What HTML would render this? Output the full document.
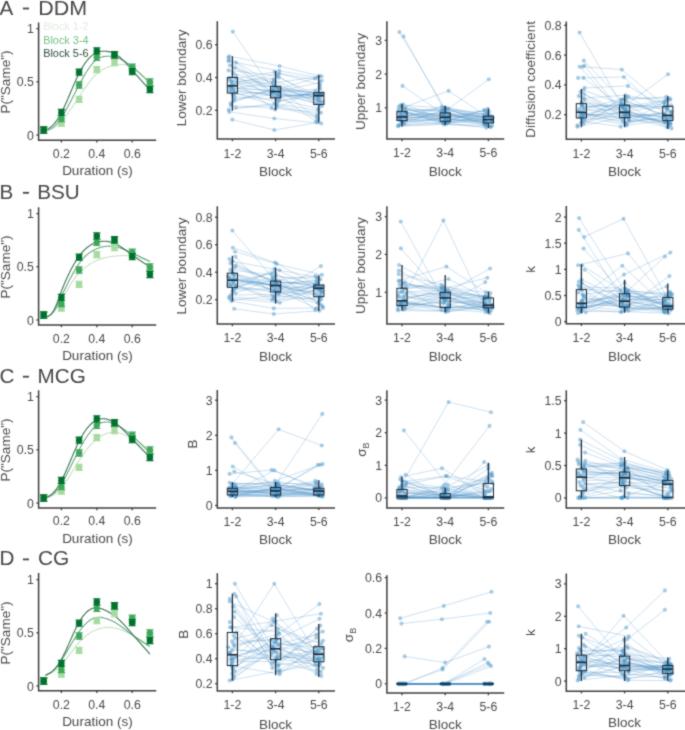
<!DOCTYPE html>
<html><head><meta charset="utf-8"><style>
html,body{margin:0;padding:0;background:#fff;}
body{width:685px;height:730px;overflow:hidden;font-family:"Liberation Sans",sans-serif;}
svg{display:block;}
#wrap{width:685px;height:730px;}
</style></head><body><div id="wrap">
<svg width="685" height="730" viewBox="0 0 685 730" font-family='"Liberation Sans", sans-serif'>
<defs><filter id="soft" x="0" y="0" width="1" height="1" color-interpolation-filters="sRGB"><feConvolveMatrix order="3" kernelMatrix="1 2 1 2 12 2 1 2 1" divisor="24" edgeMode="duplicate" preserveAlpha="false"/></filter></defs>
<rect width="685" height="730" fill="#ffffff"/>
<g filter="url(#soft)">
<g fill="#474747" font-size="19.5"><text x="-0.4" y="14.6" transform="scale(1.06,1)">A</text><rect x="22.9" y="7.60" width="6.1" height="1.8"/><text x="34.73" y="14.6" transform="scale(1.1,1)">DDM</text></g>
<path d="M43.70,131.81 L44.59,131.58 L45.48,131.34 L46.38,131.09 L47.27,130.82 L48.16,130.54 L49.05,130.22 L49.95,129.87 L50.84,129.49 L51.73,129.05 L52.62,128.57 L53.52,128.04 L54.41,127.45 L55.30,126.81 L56.19,126.12 L57.09,125.38 L57.98,124.60 L58.87,123.77 L59.76,122.89 L60.66,121.97 L61.55,121.00 L62.44,120.00 L63.33,118.96 L64.23,117.88 L65.12,116.77 L66.01,115.63 L66.90,114.46 L67.80,113.26 L68.69,112.04 L69.58,110.79 L70.47,109.53 L71.37,108.24 L72.26,106.94 L73.15,105.63 L74.04,104.30 L74.94,102.97 L75.83,101.63 L76.72,100.29 L77.61,98.94 L78.51,97.59 L79.40,96.25 L80.29,94.91 L81.18,93.57 L82.07,92.25 L82.97,90.94 L83.86,89.64 L84.75,88.36 L85.64,87.09 L86.54,85.85 L87.43,84.63 L88.32,83.44 L89.21,82.27 L90.11,81.13 L91.00,80.03 L91.89,78.96 L92.78,77.93 L93.68,76.94 L94.57,75.99 L95.46,75.09 L96.35,74.23 L97.25,73.42 L98.14,72.66 L99.03,71.95 L99.92,71.29 L100.82,70.66 L101.71,70.08 L102.60,69.54 L103.49,69.04 L104.39,68.58 L105.28,68.15 L106.17,67.75 L107.06,67.39 L107.96,67.05 L108.85,66.74 L109.74,66.46 L110.63,66.20 L111.53,65.96 L112.42,65.75 L113.31,65.55 L114.20,65.37 L115.09,65.20 L115.99,65.05 L116.88,64.91 L117.77,64.79 L118.66,64.70 L119.56,64.62 L120.45,64.56 L121.34,64.53 L122.23,64.53 L123.13,64.55 L124.02,64.60 L124.91,64.69 L125.80,64.80 L126.70,64.96 L127.59,65.15 L128.48,65.39 L129.37,65.67 L130.27,66.00 L131.16,66.39 L132.05,66.83 L132.94,67.32 L133.84,67.87 L134.73,68.47 L135.62,69.12 L136.51,69.82 L137.41,70.57 L138.30,71.35 L139.19,72.17 L140.08,73.03 L140.98,73.92 L141.87,74.83 L142.76,75.78 L143.65,76.75 L144.55,77.73 L145.44,78.74 L146.33,79.76 L147.22,80.79 L148.12,81.83 L149.01,82.88 L149.90,83.93" fill="none" stroke="#c9e2c6" stroke-width="1.1"/>
<path d="M43.70,130.74 L44.59,130.57 L45.48,130.39 L46.38,130.19 L47.27,129.97 L48.16,129.70 L49.05,129.39 L49.95,129.03 L50.84,128.60 L51.73,128.09 L52.62,127.50 L53.52,126.82 L54.41,126.05 L55.30,125.20 L56.19,124.27 L57.09,123.26 L57.98,122.18 L58.87,121.03 L59.76,119.82 L60.66,118.55 L61.55,117.22 L62.44,115.84 L63.33,114.41 L64.23,112.94 L65.12,111.42 L66.01,109.87 L66.90,108.28 L67.80,106.66 L68.69,105.02 L69.58,103.35 L70.47,101.66 L71.37,99.95 L72.26,98.23 L73.15,96.50 L74.04,94.77 L74.94,93.03 L75.83,91.29 L76.72,89.56 L77.61,87.84 L78.51,86.13 L79.40,84.43 L80.29,82.75 L81.18,81.09 L82.07,79.46 L82.97,77.86 L83.86,76.30 L84.75,74.77 L85.64,73.27 L86.54,71.83 L87.43,70.43 L88.32,69.08 L89.21,67.78 L90.11,66.54 L91.00,65.37 L91.89,64.25 L92.78,63.21 L93.68,62.24 L94.57,61.34 L95.46,60.53 L96.35,59.79 L97.25,59.14 L98.14,58.58 L99.03,58.09 L99.92,57.68 L100.82,57.33 L101.71,57.05 L102.60,56.82 L103.49,56.64 L104.39,56.50 L105.28,56.40 L106.17,56.32 L107.06,56.28 L107.96,56.25 L108.85,56.24 L109.74,56.25 L110.63,56.28 L111.53,56.35 L112.42,56.44 L113.31,56.57 L114.20,56.73 L115.09,56.94 L115.99,57.18 L116.88,57.46 L117.77,57.78 L118.66,58.14 L119.56,58.53 L120.45,58.96 L121.34,59.41 L122.23,59.90 L123.13,60.41 L124.02,60.95 L124.91,61.51 L125.80,62.10 L126.70,62.72 L127.59,63.35 L128.48,64.00 L129.37,64.68 L130.27,65.36 L131.16,66.07 L132.05,66.78 L132.94,67.51 L133.84,68.25 L134.73,69.00 L135.62,69.77 L136.51,70.54 L137.41,71.32 L138.30,72.11 L139.19,72.91 L140.08,73.71 L140.98,74.52 L141.87,75.34 L142.76,76.16 L143.65,76.99 L144.55,77.82 L145.44,78.65 L146.33,79.49 L147.22,80.33 L148.12,81.18 L149.01,82.02 L149.90,82.86" fill="none" stroke="#69a883" stroke-width="1.1"/>
<path d="M43.70,130.74 L44.59,130.36 L45.48,129.97 L46.38,129.56 L47.27,129.12 L48.16,128.64 L49.05,128.11 L49.95,127.53 L50.84,126.88 L51.73,126.16 L52.62,125.35 L53.52,124.45 L54.41,123.46 L55.30,122.38 L56.19,121.20 L57.09,119.94 L57.98,118.60 L58.87,117.16 L59.76,115.65 L60.66,114.05 L61.55,112.37 L62.44,110.61 L63.33,108.79 L64.23,106.90 L65.12,104.95 L66.01,102.96 L66.90,100.92 L67.80,98.86 L68.69,96.77 L69.58,94.67 L70.47,92.56 L71.37,90.45 L72.26,88.34 L73.15,86.25 L74.04,84.18 L74.94,82.15 L75.83,80.15 L76.72,78.20 L77.61,76.31 L78.51,74.47 L79.40,72.71 L80.29,71.02 L81.18,69.40 L82.07,67.86 L82.97,66.39 L83.86,65.00 L84.75,63.67 L85.64,62.42 L86.54,61.24 L87.43,60.13 L88.32,59.09 L89.21,58.11 L90.11,57.21 L91.00,56.37 L91.89,55.60 L92.78,54.90 L93.68,54.26 L94.57,53.69 L95.46,53.18 L96.35,52.74 L97.25,52.36 L98.14,52.04 L99.03,51.78 L99.92,51.57 L100.82,51.41 L101.71,51.30 L102.60,51.23 L103.49,51.20 L104.39,51.21 L105.28,51.24 L106.17,51.30 L107.06,51.39 L107.96,51.51 L108.85,51.66 L109.74,51.85 L110.63,52.08 L111.53,52.35 L112.42,52.67 L113.31,53.04 L114.20,53.45 L115.09,53.92 L115.99,54.45 L116.88,55.03 L117.77,55.65 L118.66,56.32 L119.56,57.03 L120.45,57.79 L121.34,58.58 L122.23,59.40 L123.13,60.26 L124.02,61.14 L124.91,62.05 L125.80,62.98 L126.70,63.94 L127.59,64.91 L128.48,65.89 L129.37,66.89 L130.27,67.90 L131.16,68.91 L132.05,69.93 L132.94,70.94 L133.84,71.96 L134.73,72.98 L135.62,74.00 L136.51,75.02 L137.41,76.04 L138.30,77.05 L139.19,78.07 L140.08,79.09 L140.98,80.11 L141.87,81.13 L142.76,82.15 L143.65,83.17 L144.55,84.19 L145.44,85.21 L146.33,86.23 L147.22,87.25 L148.12,88.27 L149.01,89.29 L149.90,90.31" fill="none" stroke="#3b7552" stroke-width="1.1"/>
<path d="M43.70,127.11V133.31M40.10,127.11H47.30M40.10,133.31H47.30" stroke="#a6dba0" stroke-width="1.1" fill="none"/>
<rect x="40.50" y="127.01" width="6.4" height="6.4" rx="1.3" fill="#a6dba0"/>
<path d="M61.40,119.88V126.08M57.80,119.88H65.00M57.80,126.08H65.00" stroke="#a6dba0" stroke-width="1.1" fill="none"/>
<rect x="58.20" y="119.78" width="6.4" height="6.4" rx="1.3" fill="#a6dba0"/>
<path d="M79.10,96.26V102.46M75.50,96.26H82.70M75.50,102.46H82.70" stroke="#a6dba0" stroke-width="1.1" fill="none"/>
<rect x="75.90" y="96.16" width="6.4" height="6.4" rx="1.3" fill="#a6dba0"/>
<path d="M96.80,66.46V72.66M93.20,66.46H100.40M93.20,72.66H100.40" stroke="#a6dba0" stroke-width="1.1" fill="none"/>
<rect x="93.60" y="66.36" width="6.4" height="6.4" rx="1.3" fill="#a6dba0"/>
<path d="M114.50,59.55V65.75M110.90,59.55H118.10M110.90,65.75H118.10" stroke="#a6dba0" stroke-width="1.1" fill="none"/>
<rect x="111.30" y="59.45" width="6.4" height="6.4" rx="1.3" fill="#a6dba0"/>
<path d="M132.20,65.93V72.13M128.60,65.93H135.80M128.60,72.13H135.80" stroke="#a6dba0" stroke-width="1.1" fill="none"/>
<rect x="129.00" y="65.83" width="6.4" height="6.4" rx="1.3" fill="#a6dba0"/>
<path d="M149.90,81.89V88.09M146.30,81.89H153.50M146.30,88.09H153.50" stroke="#a6dba0" stroke-width="1.1" fill="none"/>
<rect x="146.70" y="81.79" width="6.4" height="6.4" rx="1.3" fill="#a6dba0"/>
<path d="M43.70,127.11V133.31M40.10,127.11H47.30M40.10,133.31H47.30" stroke="#3fa65a" stroke-width="1.1" fill="none"/>
<rect x="40.50" y="127.01" width="6.4" height="6.4" rx="3.2" fill="#3fa65a"/>
<path d="M61.40,115.41V121.61M57.80,115.41H65.00M57.80,121.61H65.00" stroke="#3fa65a" stroke-width="1.1" fill="none"/>
<rect x="58.20" y="115.31" width="6.4" height="6.4" rx="3.2" fill="#3fa65a"/>
<path d="M79.10,81.89V88.09M75.50,81.89H82.70M75.50,88.09H82.70" stroke="#3fa65a" stroke-width="1.1" fill="none"/>
<rect x="75.90" y="81.79" width="6.4" height="6.4" rx="3.2" fill="#3fa65a"/>
<path d="M96.80,54.23V60.43M93.20,54.23H100.40M93.20,60.43H100.40" stroke="#3fa65a" stroke-width="1.1" fill="none"/>
<rect x="93.60" y="54.13" width="6.4" height="6.4" rx="3.2" fill="#3fa65a"/>
<path d="M114.50,52.10V58.30M110.90,52.10H118.10M110.90,58.30H118.10" stroke="#3fa65a" stroke-width="1.1" fill="none"/>
<rect x="111.30" y="52.00" width="6.4" height="6.4" rx="3.2" fill="#3fa65a"/>
<path d="M132.20,64.12V70.32M128.60,64.12H135.80M128.60,70.32H135.80" stroke="#3fa65a" stroke-width="1.1" fill="none"/>
<rect x="129.00" y="64.02" width="6.4" height="6.4" rx="3.2" fill="#3fa65a"/>
<path d="M149.90,78.91V85.11M146.30,78.91H153.50M146.30,85.11H153.50" stroke="#3fa65a" stroke-width="1.1" fill="none"/>
<rect x="146.70" y="78.81" width="6.4" height="6.4" rx="3.2" fill="#3fa65a"/>
<path d="M43.70,126.90V133.10M40.10,126.90H47.30M40.10,133.10H47.30" stroke="#00712f" stroke-width="1.1" fill="none"/>
<rect x="40.50" y="126.80" width="6.4" height="6.4" rx="2.7" fill="#00712f"/>
<path d="M61.40,109.34V115.54M57.80,109.34H65.00M57.80,115.54H65.00" stroke="#00712f" stroke-width="1.1" fill="none"/>
<rect x="58.20" y="109.24" width="6.4" height="6.4" rx="2.7" fill="#00712f"/>
<path d="M79.10,69.12V75.32M75.50,69.12H82.70M75.50,75.32H82.70" stroke="#00712f" stroke-width="1.1" fill="none"/>
<rect x="75.90" y="69.02" width="6.4" height="6.4" rx="2.7" fill="#00712f"/>
<path d="M96.80,47.84V54.04M93.20,47.84H100.40M93.20,54.04H100.40" stroke="#00712f" stroke-width="1.1" fill="none"/>
<rect x="93.60" y="47.74" width="6.4" height="6.4" rx="2.7" fill="#00712f"/>
<path d="M114.50,51.67V57.87M110.90,51.67H118.10M110.90,57.87H118.10" stroke="#00712f" stroke-width="1.1" fill="none"/>
<rect x="111.30" y="51.57" width="6.4" height="6.4" rx="2.7" fill="#00712f"/>
<path d="M132.20,68.59V74.79M128.60,68.59H135.80M128.60,74.79H135.80" stroke="#00712f" stroke-width="1.1" fill="none"/>
<rect x="129.00" y="68.49" width="6.4" height="6.4" rx="2.7" fill="#00712f"/>
<path d="M149.90,86.47V92.67M146.30,86.47H153.50M146.30,92.67H153.50" stroke="#00712f" stroke-width="1.1" fill="none"/>
<rect x="146.70" y="86.37" width="6.4" height="6.4" rx="2.7" fill="#00712f"/>
<path d="M38.60,22.50V140.30H156.20" fill="none" stroke="#3d3d3d" stroke-width="1.5"/>
<path d="M36.40,135.00H38.60" stroke="#3d3d3d" stroke-width="1.3"/>
<text x="33.80" y="139.50" font-size="12.3" text-anchor="end" fill="#4a4a4a" >0</text>
<path d="M36.40,81.80H38.60" stroke="#3d3d3d" stroke-width="1.3"/>
<text x="33.80" y="86.30" font-size="12.3" text-anchor="end" fill="#4a4a4a" >0.5</text>
<path d="M36.40,28.60H38.60" stroke="#3d3d3d" stroke-width="1.3"/>
<text x="33.80" y="33.10" font-size="12.3" text-anchor="end" fill="#4a4a4a" >1</text>
<path d="M61.40,140.30V142.50" stroke="#3d3d3d" stroke-width="1.3"/>
<text x="61.40" y="157.80" font-size="12.3" text-anchor="middle" fill="#4a4a4a" >0.2</text>
<path d="M96.80,140.30V142.50" stroke="#3d3d3d" stroke-width="1.3"/>
<text x="96.80" y="157.80" font-size="12.3" text-anchor="middle" fill="#4a4a4a" >0.4</text>
<path d="M132.20,140.30V142.50" stroke="#3d3d3d" stroke-width="1.3"/>
<text x="132.20" y="157.80" font-size="12.3" text-anchor="middle" fill="#4a4a4a" >0.6</text>
<text x="97.40" y="175.00" font-size="13.5" text-anchor="middle" fill="#4a4a4a" >Duration (s)</text>
<text transform="translate(9.80,82.00) rotate(-90)" font-size="13.5" text-anchor="middle" fill="#4a4a4a">P(&quot;Same&quot;)</text>
<g fill="none" stroke="#4a90c8" stroke-width="0.65" stroke-opacity="0.42">
<path d="M235.9,62.6L271.6,92.4L320.3,89.0"/>
<path d="M228.7,109.7L274.4,103.5L318.1,110.5"/>
<path d="M229.7,90.2L275.8,95.4L319.1,94.6"/>
<path d="M230.8,92.0L277.6,102.0L315.9,91.2"/>
<path d="M229.8,77.8L274.3,85.0L317.8,119.2"/>
<path d="M229.9,65.2L279.2,96.1L321.6,93.9"/>
<path d="M229.0,86.7L274.5,91.6L316.5,103.2"/>
<path d="M232.0,88.5L273.7,90.3L318.8,96.8"/>
<path d="M236.0,78.8L274.6,71.9L320.1,84.8"/>
<path d="M233.2,73.0L277.8,89.1L315.0,78.4"/>
<path d="M234.5,99.0L279.4,93.9L319.7,104.3"/>
<path d="M230.6,103.3L277.1,87.2L320.6,102.1"/>
<path d="M233.7,101.1L272.6,89.7L322.9,92.8"/>
<path d="M236.3,82.8L275.0,109.5L319.6,86.9"/>
<path d="M228.4,57.5L279.8,88.4L321.5,95.0"/>
<path d="M233.6,91.1L277.8,94.6L316.1,121.4"/>
<path d="M230.7,85.9L273.4,86.5L319.6,93.6"/>
<path d="M228.9,60.1L279.0,100.5L318.5,95.7"/>
<path d="M231.9,80.8L272.2,93.1L320.4,98.9"/>
<path d="M235.1,92.9L276.7,106.5L316.6,117.0"/>
<path d="M234.9,67.8L272.6,83.1L321.6,76.3"/>
<path d="M233.1,84.9L273.8,79.3L318.9,101.1"/>
<path d="M233.5,89.4L273.5,81.2L321.8,106.2"/>
<path d="M231.7,83.8L279.0,73.7L321.7,80.5"/>
<path d="M229.0,79.8L276.9,87.8L317.2,97.9"/>
<path d="M234.6,96.8L276.0,99.0L318.4,108.4"/>
<path d="M235.8,75.6L271.8,96.9L319.3,94.3"/>
<path d="M230.9,105.4L271.6,108.0L321.0,112.7"/>
<path d="M232.9,94.7L279.0,91.0L319.6,82.6"/>
<path d="M231.0,87.6L279.8,97.6L315.5,93.2"/>
<path d="M228.6,70.4L277.6,75.6L317.7,100.0"/>
<path d="M231.2,81.8L278.8,77.5L317.3,95.3"/>
<path d="M235.7,107.6L276.8,105.0L317.3,114.9"/>
<path d="M232.8,31.6L273.4,90.6L322.8,102.1"/>
<path d="M232.3,119.6L274.3,130.0L317.3,122.6"/>
<path d="M229.2,111.9L274.3,118.5L321.2,123.4"/>
<path d="M229.3,56.2L279.6,66.0L319.1,75.9"/>
<path d="M228.5,61.1L279.3,70.9L317.6,77.5"/>
</g>
<g fill="#4292c6" fill-opacity="0.45">
<circle cx="235.9" cy="62.6" r="2.05"/>
<circle cx="271.6" cy="92.4" r="2.05"/>
<circle cx="320.3" cy="89.0" r="2.05"/>
<circle cx="228.7" cy="109.7" r="2.05"/>
<circle cx="274.4" cy="103.5" r="2.05"/>
<circle cx="318.1" cy="110.5" r="2.05"/>
<circle cx="229.7" cy="90.2" r="2.05"/>
<circle cx="275.8" cy="95.4" r="2.05"/>
<circle cx="319.1" cy="94.6" r="2.05"/>
<circle cx="230.8" cy="92.0" r="2.05"/>
<circle cx="277.6" cy="102.0" r="2.05"/>
<circle cx="315.9" cy="91.2" r="2.05"/>
<circle cx="229.8" cy="77.8" r="2.05"/>
<circle cx="274.3" cy="85.0" r="2.05"/>
<circle cx="317.8" cy="119.2" r="2.05"/>
<circle cx="229.9" cy="65.2" r="2.05"/>
<circle cx="279.2" cy="96.1" r="2.05"/>
<circle cx="321.6" cy="93.9" r="2.05"/>
<circle cx="229.0" cy="86.7" r="2.05"/>
<circle cx="274.5" cy="91.6" r="2.05"/>
<circle cx="316.5" cy="103.2" r="2.05"/>
<circle cx="232.0" cy="88.5" r="2.05"/>
<circle cx="273.7" cy="90.3" r="2.05"/>
<circle cx="318.8" cy="96.8" r="2.05"/>
<circle cx="236.0" cy="78.8" r="2.05"/>
<circle cx="274.6" cy="71.9" r="2.05"/>
<circle cx="320.1" cy="84.8" r="2.05"/>
<circle cx="233.2" cy="73.0" r="2.05"/>
<circle cx="277.8" cy="89.1" r="2.05"/>
<circle cx="315.0" cy="78.4" r="2.05"/>
<circle cx="234.5" cy="99.0" r="2.05"/>
<circle cx="279.4" cy="93.9" r="2.05"/>
<circle cx="319.7" cy="104.3" r="2.05"/>
<circle cx="230.6" cy="103.3" r="2.05"/>
<circle cx="277.1" cy="87.2" r="2.05"/>
<circle cx="320.6" cy="102.1" r="2.05"/>
<circle cx="233.7" cy="101.1" r="2.05"/>
<circle cx="272.6" cy="89.7" r="2.05"/>
<circle cx="322.9" cy="92.8" r="2.05"/>
<circle cx="236.3" cy="82.8" r="2.05"/>
<circle cx="275.0" cy="109.5" r="2.05"/>
<circle cx="319.6" cy="86.9" r="2.05"/>
<circle cx="228.4" cy="57.5" r="2.05"/>
<circle cx="279.8" cy="88.4" r="2.05"/>
<circle cx="321.5" cy="95.0" r="2.05"/>
<circle cx="233.6" cy="91.1" r="2.05"/>
<circle cx="277.8" cy="94.6" r="2.05"/>
<circle cx="316.1" cy="121.4" r="2.05"/>
<circle cx="230.7" cy="85.9" r="2.05"/>
<circle cx="273.4" cy="86.5" r="2.05"/>
<circle cx="319.6" cy="93.6" r="2.05"/>
<circle cx="228.9" cy="60.1" r="2.05"/>
<circle cx="279.0" cy="100.5" r="2.05"/>
<circle cx="318.5" cy="95.7" r="2.05"/>
<circle cx="231.9" cy="80.8" r="2.05"/>
<circle cx="272.2" cy="93.1" r="2.05"/>
<circle cx="320.4" cy="98.9" r="2.05"/>
<circle cx="235.1" cy="92.9" r="2.05"/>
<circle cx="276.7" cy="106.5" r="2.05"/>
<circle cx="316.6" cy="117.0" r="2.05"/>
<circle cx="234.9" cy="67.8" r="2.05"/>
<circle cx="272.6" cy="83.1" r="2.05"/>
<circle cx="321.6" cy="76.3" r="2.05"/>
<circle cx="233.1" cy="84.9" r="2.05"/>
<circle cx="273.8" cy="79.3" r="2.05"/>
<circle cx="318.9" cy="101.1" r="2.05"/>
<circle cx="233.5" cy="89.4" r="2.05"/>
<circle cx="273.5" cy="81.2" r="2.05"/>
<circle cx="321.8" cy="106.2" r="2.05"/>
<circle cx="231.7" cy="83.8" r="2.05"/>
<circle cx="279.0" cy="73.7" r="2.05"/>
<circle cx="321.7" cy="80.5" r="2.05"/>
<circle cx="229.0" cy="79.8" r="2.05"/>
<circle cx="276.9" cy="87.8" r="2.05"/>
<circle cx="317.2" cy="97.9" r="2.05"/>
<circle cx="234.6" cy="96.8" r="2.05"/>
<circle cx="276.0" cy="99.0" r="2.05"/>
<circle cx="318.4" cy="108.4" r="2.05"/>
<circle cx="235.8" cy="75.6" r="2.05"/>
<circle cx="271.8" cy="96.9" r="2.05"/>
<circle cx="319.3" cy="94.3" r="2.05"/>
<circle cx="230.9" cy="105.4" r="2.05"/>
<circle cx="271.6" cy="108.0" r="2.05"/>
<circle cx="321.0" cy="112.7" r="2.05"/>
<circle cx="232.9" cy="94.7" r="2.05"/>
<circle cx="279.0" cy="91.0" r="2.05"/>
<circle cx="319.6" cy="82.6" r="2.05"/>
<circle cx="231.0" cy="87.6" r="2.05"/>
<circle cx="279.8" cy="97.6" r="2.05"/>
<circle cx="315.5" cy="93.2" r="2.05"/>
<circle cx="228.6" cy="70.4" r="2.05"/>
<circle cx="277.6" cy="75.6" r="2.05"/>
<circle cx="317.7" cy="100.0" r="2.05"/>
<circle cx="231.2" cy="81.8" r="2.05"/>
<circle cx="278.8" cy="77.5" r="2.05"/>
<circle cx="317.3" cy="95.3" r="2.05"/>
<circle cx="235.7" cy="107.6" r="2.05"/>
<circle cx="276.8" cy="105.0" r="2.05"/>
<circle cx="317.3" cy="114.9" r="2.05"/>
<circle cx="232.8" cy="31.6" r="2.05"/>
<circle cx="273.4" cy="90.6" r="2.05"/>
<circle cx="322.8" cy="102.1" r="2.05"/>
<circle cx="232.3" cy="119.6" r="2.05"/>
<circle cx="274.3" cy="130.0" r="2.05"/>
<circle cx="317.3" cy="122.6" r="2.05"/>
<circle cx="229.2" cy="111.9" r="2.05"/>
<circle cx="274.3" cy="118.5" r="2.05"/>
<circle cx="321.2" cy="123.4" r="2.05"/>
<circle cx="229.3" cy="56.2" r="2.05"/>
<circle cx="279.6" cy="66.0" r="2.05"/>
<circle cx="319.1" cy="75.9" r="2.05"/>
<circle cx="228.5" cy="61.1" r="2.05"/>
<circle cx="279.3" cy="70.9" r="2.05"/>
<circle cx="317.6" cy="77.5" r="2.05"/>
</g>
<path d="M232.40,77.50V56.18M232.40,93.08V110.79" stroke="#1d2b3d" stroke-width="1.3" fill="none"/>
<rect x="227.30" y="77.50" width="10.20" height="15.58" fill="none" stroke="#1d2632" stroke-width="1.0"/>
<path d="M227.30,85.86H237.50" stroke="#1d2632" stroke-width="1.6"/>
<path d="M275.60,86.36V70.94M275.60,97.84V110.30" stroke="#1d2b3d" stroke-width="1.3" fill="none"/>
<rect x="270.50" y="86.36" width="10.20" height="11.48" fill="none" stroke="#1d2632" stroke-width="1.0"/>
<path d="M270.50,91.60H280.70" stroke="#1d2632" stroke-width="1.6"/>
<path d="M318.80,92.75V75.20M318.80,104.56V122.44" stroke="#1d2b3d" stroke-width="1.3" fill="none"/>
<rect x="313.70" y="92.75" width="10.20" height="11.81" fill="none" stroke="#1d2632" stroke-width="1.0"/>
<path d="M313.70,95.70H323.90" stroke="#1d2632" stroke-width="1.6"/>
<path d="M217.30,21.20V139.00H335.00" fill="none" stroke="#3d3d3d" stroke-width="1.5"/>
<path d="M215.10,110.30H217.30" stroke="#3d3d3d" stroke-width="1.3"/>
<text x="212.50" y="114.80" font-size="12.3" text-anchor="end" fill="#4a4a4a" >0.2</text>
<path d="M215.10,77.50H217.30" stroke="#3d3d3d" stroke-width="1.3"/>
<text x="212.50" y="82.00" font-size="12.3" text-anchor="end" fill="#4a4a4a" >0.4</text>
<path d="M215.10,44.70H217.30" stroke="#3d3d3d" stroke-width="1.3"/>
<text x="212.50" y="49.20" font-size="12.3" text-anchor="end" fill="#4a4a4a" >0.6</text>
<path d="M232.40,139.00V141.20" stroke="#3d3d3d" stroke-width="1.3"/>
<text x="232.40" y="157.60" font-size="12.3" text-anchor="middle" fill="#4a4a4a" >1-2</text>
<path d="M275.60,139.00V141.20" stroke="#3d3d3d" stroke-width="1.3"/>
<text x="275.60" y="157.60" font-size="12.3" text-anchor="middle" fill="#4a4a4a" >3-4</text>
<path d="M318.80,139.00V141.20" stroke="#3d3d3d" stroke-width="1.3"/>
<text x="318.80" y="157.60" font-size="12.3" text-anchor="middle" fill="#4a4a4a" >5-6</text>
<text x="275.60" y="175.60" font-size="13.5" text-anchor="middle" fill="#4a4a4a" >Block</text>
<text transform="translate(186.40,77.80) rotate(-90)" font-size="13.5" text-anchor="middle" fill="#4a4a4a">Lower boundary</text>
<g fill="none" stroke="#4a90c8" stroke-width="0.65" stroke-opacity="0.42">
<path d="M400.9,115.0L445.1,113.0L492.6,117.6"/>
<path d="M404.4,109.0L448.0,117.2L485.2,110.8"/>
<path d="M402.0,111.0L444.1,123.6L484.9,119.2"/>
<path d="M401.1,121.2L441.5,111.4L486.1,124.0"/>
<path d="M404.6,124.1L446.8,117.7L490.1,126.5"/>
<path d="M398.4,117.8L442.3,116.2L484.3,117.1"/>
<path d="M398.5,110.0L441.8,109.8L492.4,118.0"/>
<path d="M405.4,111.8L442.7,122.8L486.3,127.7"/>
<path d="M406.0,112.5L445.8,119.7L487.3,112.7"/>
<path d="M401.7,123.4L443.2,110.6L489.1,111.8"/>
<path d="M403.9,116.3L445.3,109.0L491.2,121.2"/>
<path d="M398.7,107.1L446.1,119.2L492.6,122.0"/>
<path d="M399.0,114.4L445.2,107.3L489.5,115.5"/>
<path d="M400.6,119.6L449.2,120.7L488.3,122.5"/>
<path d="M401.8,115.6L448.7,113.5L484.2,124.7"/>
<path d="M405.2,116.9L442.0,114.0L487.4,113.6"/>
<path d="M401.9,106.2L445.0,122.4L484.4,122.9"/>
<path d="M400.4,118.7L444.0,115.1L492.3,118.4"/>
<path d="M405.6,108.1L445.9,112.2L492.1,125.9"/>
<path d="M405.1,113.1L444.1,115.6L485.1,120.0"/>
<path d="M402.9,121.9L443.7,118.2L484.2,120.4"/>
<path d="M406.1,120.0L449.2,114.6L488.7,116.7"/>
<path d="M403.0,104.2L446.7,120.2L492.1,121.6"/>
<path d="M401.7,120.5L445.9,124.0L486.0,125.3"/>
<path d="M399.8,117.3L445.4,118.7L486.1,120.8"/>
<path d="M398.0,126.3L444.1,124.4L490.5,127.1"/>
<path d="M400.1,105.2L448.3,108.2L490.1,118.8"/>
<path d="M403.3,122.6L448.6,116.7L484.7,119.6"/>
<path d="M399.2,124.8L448.7,122.0L491.9,116.3"/>
<path d="M398.4,125.6L447.6,123.2L484.2,114.6"/>
<path d="M398.9,119.1L441.8,106.5L486.6,123.4"/>
<path d="M401.0,113.7L448.7,121.2L487.9,108.9"/>
<path d="M398.8,118.2L443.2,121.6L484.2,109.9"/>
<path d="M399.4,32.0L444.6,107.8L488.5,116.2"/>
<path d="M403.5,36.4L444.2,109.5L485.0,117.9"/>
<path d="M402.5,85.9L444.3,114.5L485.5,119.6"/>
<path d="M402.0,107.8L448.6,90.9L486.6,116.2"/>
<path d="M398.8,111.2L447.6,109.5L488.8,79.2"/>
</g>
<g fill="#4292c6" fill-opacity="0.45">
<circle cx="400.9" cy="115.0" r="2.05"/>
<circle cx="445.1" cy="113.0" r="2.05"/>
<circle cx="492.6" cy="117.6" r="2.05"/>
<circle cx="404.4" cy="109.0" r="2.05"/>
<circle cx="448.0" cy="117.2" r="2.05"/>
<circle cx="485.2" cy="110.8" r="2.05"/>
<circle cx="402.0" cy="111.0" r="2.05"/>
<circle cx="444.1" cy="123.6" r="2.05"/>
<circle cx="484.9" cy="119.2" r="2.05"/>
<circle cx="401.1" cy="121.2" r="2.05"/>
<circle cx="441.5" cy="111.4" r="2.05"/>
<circle cx="486.1" cy="124.0" r="2.05"/>
<circle cx="404.6" cy="124.1" r="2.05"/>
<circle cx="446.8" cy="117.7" r="2.05"/>
<circle cx="490.1" cy="126.5" r="2.05"/>
<circle cx="398.4" cy="117.8" r="2.05"/>
<circle cx="442.3" cy="116.2" r="2.05"/>
<circle cx="484.3" cy="117.1" r="2.05"/>
<circle cx="398.5" cy="110.0" r="2.05"/>
<circle cx="441.8" cy="109.8" r="2.05"/>
<circle cx="492.4" cy="118.0" r="2.05"/>
<circle cx="405.4" cy="111.8" r="2.05"/>
<circle cx="442.7" cy="122.8" r="2.05"/>
<circle cx="486.3" cy="127.7" r="2.05"/>
<circle cx="406.0" cy="112.5" r="2.05"/>
<circle cx="445.8" cy="119.7" r="2.05"/>
<circle cx="487.3" cy="112.7" r="2.05"/>
<circle cx="401.7" cy="123.4" r="2.05"/>
<circle cx="443.2" cy="110.6" r="2.05"/>
<circle cx="489.1" cy="111.8" r="2.05"/>
<circle cx="403.9" cy="116.3" r="2.05"/>
<circle cx="445.3" cy="109.0" r="2.05"/>
<circle cx="491.2" cy="121.2" r="2.05"/>
<circle cx="398.7" cy="107.1" r="2.05"/>
<circle cx="446.1" cy="119.2" r="2.05"/>
<circle cx="492.6" cy="122.0" r="2.05"/>
<circle cx="399.0" cy="114.4" r="2.05"/>
<circle cx="445.2" cy="107.3" r="2.05"/>
<circle cx="489.5" cy="115.5" r="2.05"/>
<circle cx="400.6" cy="119.6" r="2.05"/>
<circle cx="449.2" cy="120.7" r="2.05"/>
<circle cx="488.3" cy="122.5" r="2.05"/>
<circle cx="401.8" cy="115.6" r="2.05"/>
<circle cx="448.7" cy="113.5" r="2.05"/>
<circle cx="484.2" cy="124.7" r="2.05"/>
<circle cx="405.2" cy="116.9" r="2.05"/>
<circle cx="442.0" cy="114.0" r="2.05"/>
<circle cx="487.4" cy="113.6" r="2.05"/>
<circle cx="401.9" cy="106.2" r="2.05"/>
<circle cx="445.0" cy="122.4" r="2.05"/>
<circle cx="484.4" cy="122.9" r="2.05"/>
<circle cx="400.4" cy="118.7" r="2.05"/>
<circle cx="444.0" cy="115.1" r="2.05"/>
<circle cx="492.3" cy="118.4" r="2.05"/>
<circle cx="405.6" cy="108.1" r="2.05"/>
<circle cx="445.9" cy="112.2" r="2.05"/>
<circle cx="492.1" cy="125.9" r="2.05"/>
<circle cx="405.1" cy="113.1" r="2.05"/>
<circle cx="444.1" cy="115.6" r="2.05"/>
<circle cx="485.1" cy="120.0" r="2.05"/>
<circle cx="402.9" cy="121.9" r="2.05"/>
<circle cx="443.7" cy="118.2" r="2.05"/>
<circle cx="484.2" cy="120.4" r="2.05"/>
<circle cx="406.1" cy="120.0" r="2.05"/>
<circle cx="449.2" cy="114.6" r="2.05"/>
<circle cx="488.7" cy="116.7" r="2.05"/>
<circle cx="403.0" cy="104.2" r="2.05"/>
<circle cx="446.7" cy="120.2" r="2.05"/>
<circle cx="492.1" cy="121.6" r="2.05"/>
<circle cx="401.7" cy="120.5" r="2.05"/>
<circle cx="445.9" cy="124.0" r="2.05"/>
<circle cx="486.0" cy="125.3" r="2.05"/>
<circle cx="399.8" cy="117.3" r="2.05"/>
<circle cx="445.4" cy="118.7" r="2.05"/>
<circle cx="486.1" cy="120.8" r="2.05"/>
<circle cx="398.0" cy="126.3" r="2.05"/>
<circle cx="444.1" cy="124.4" r="2.05"/>
<circle cx="490.5" cy="127.1" r="2.05"/>
<circle cx="400.1" cy="105.2" r="2.05"/>
<circle cx="448.3" cy="108.2" r="2.05"/>
<circle cx="490.1" cy="118.8" r="2.05"/>
<circle cx="403.3" cy="122.6" r="2.05"/>
<circle cx="448.6" cy="116.7" r="2.05"/>
<circle cx="484.7" cy="119.6" r="2.05"/>
<circle cx="399.2" cy="124.8" r="2.05"/>
<circle cx="448.7" cy="122.0" r="2.05"/>
<circle cx="491.9" cy="116.3" r="2.05"/>
<circle cx="398.4" cy="125.6" r="2.05"/>
<circle cx="447.6" cy="123.2" r="2.05"/>
<circle cx="484.2" cy="114.6" r="2.05"/>
<circle cx="398.9" cy="119.1" r="2.05"/>
<circle cx="441.8" cy="106.5" r="2.05"/>
<circle cx="486.6" cy="123.4" r="2.05"/>
<circle cx="401.0" cy="113.7" r="2.05"/>
<circle cx="448.7" cy="121.2" r="2.05"/>
<circle cx="487.9" cy="108.9" r="2.05"/>
<circle cx="398.8" cy="118.2" r="2.05"/>
<circle cx="443.2" cy="121.6" r="2.05"/>
<circle cx="484.2" cy="109.9" r="2.05"/>
<circle cx="399.4" cy="32.0" r="2.05"/>
<circle cx="444.6" cy="107.8" r="2.05"/>
<circle cx="488.5" cy="116.2" r="2.05"/>
<circle cx="403.5" cy="36.4" r="2.05"/>
<circle cx="444.2" cy="109.5" r="2.05"/>
<circle cx="485.0" cy="117.9" r="2.05"/>
<circle cx="402.5" cy="85.9" r="2.05"/>
<circle cx="444.3" cy="114.5" r="2.05"/>
<circle cx="485.5" cy="119.6" r="2.05"/>
<circle cx="402.0" cy="107.8" r="2.05"/>
<circle cx="448.6" cy="90.9" r="2.05"/>
<circle cx="486.6" cy="116.2" r="2.05"/>
<circle cx="398.8" cy="111.2" r="2.05"/>
<circle cx="447.6" cy="109.5" r="2.05"/>
<circle cx="488.8" cy="79.2" r="2.05"/>
</g>
<path d="M402.00,111.68V103.76M402.00,120.61V126.67" stroke="#1d2b3d" stroke-width="1.3" fill="none"/>
<rect x="396.90" y="111.68" width="10.20" height="8.93" fill="none" stroke="#1d2632" stroke-width="1.0"/>
<path d="M396.90,116.90H407.10" stroke="#1d2632" stroke-width="1.6"/>
<path d="M445.20,112.86V106.11M445.20,121.28V124.65" stroke="#1d2b3d" stroke-width="1.3" fill="none"/>
<rect x="440.10" y="112.86" width="10.20" height="8.42" fill="none" stroke="#1d2632" stroke-width="1.0"/>
<path d="M440.10,117.24H450.30" stroke="#1d2632" stroke-width="1.6"/>
<path d="M488.40,116.22V108.47M488.40,122.97V128.02" stroke="#1d2b3d" stroke-width="1.3" fill="none"/>
<rect x="483.30" y="116.22" width="10.20" height="6.74" fill="none" stroke="#1d2632" stroke-width="1.0"/>
<path d="M483.30,119.59H493.50" stroke="#1d2632" stroke-width="1.6"/>
<path d="M386.90,21.20V139.00H504.20" fill="none" stroke="#3d3d3d" stroke-width="1.5"/>
<path d="M384.70,107.80H386.90" stroke="#3d3d3d" stroke-width="1.3"/>
<text x="382.10" y="112.30" font-size="12.3" text-anchor="end" fill="#4a4a4a" >1</text>
<path d="M384.70,74.10H386.90" stroke="#3d3d3d" stroke-width="1.3"/>
<text x="382.10" y="78.60" font-size="12.3" text-anchor="end" fill="#4a4a4a" >2</text>
<path d="M384.70,40.40H386.90" stroke="#3d3d3d" stroke-width="1.3"/>
<text x="382.10" y="44.90" font-size="12.3" text-anchor="end" fill="#4a4a4a" >3</text>
<path d="M402.00,139.00V141.20" stroke="#3d3d3d" stroke-width="1.3"/>
<text x="402.00" y="157.40" font-size="12.3" text-anchor="middle" fill="#4a4a4a" >1-2</text>
<path d="M445.20,139.00V141.20" stroke="#3d3d3d" stroke-width="1.3"/>
<text x="445.20" y="157.40" font-size="12.3" text-anchor="middle" fill="#4a4a4a" >3-4</text>
<path d="M488.40,139.00V141.20" stroke="#3d3d3d" stroke-width="1.3"/>
<text x="488.40" y="157.40" font-size="12.3" text-anchor="middle" fill="#4a4a4a" >5-6</text>
<text x="445.20" y="175.60" font-size="13.5" text-anchor="middle" fill="#4a4a4a" >Block</text>
<text transform="translate(364.80,81.50) rotate(-90)" font-size="13.5" text-anchor="middle" fill="#4a4a4a">Upper boundary</text>
<g fill="none" stroke="#4a90c8" stroke-width="0.65" stroke-opacity="0.42">
<path d="M579.9,115.4L628.4,113.1L665.6,117.5"/>
<path d="M583.4,124.1L621.0,102.6L668.1,126.1"/>
<path d="M582.8,118.9L622.1,99.6L666.3,96.9"/>
<path d="M581.8,105.2L625.4,113.8L664.8,122.7"/>
<path d="M580.6,92.1L628.9,120.0L666.3,118.3"/>
<path d="M583.9,107.5L622.0,104.1L667.5,107.9"/>
<path d="M581.6,117.8L625.4,98.1L669.7,98.3"/>
<path d="M583.9,109.9L626.3,109.4L670.4,99.7"/>
<path d="M584.7,114.7L623.1,121.4L670.6,119.0"/>
<path d="M581.6,102.2L622.5,107.4L665.0,103.9"/>
<path d="M583.7,98.1L625.8,95.2L664.1,102.5"/>
<path d="M582.2,121.5L620.7,126.7L666.9,110.4"/>
<path d="M582.0,106.4L625.9,105.4L664.9,106.7"/>
<path d="M577.5,125.4L625.3,110.3L670.5,125.0"/>
<path d="M584.0,94.1L623.4,112.3L668.5,123.8"/>
<path d="M583.3,90.1L627.8,106.4L667.7,109.1"/>
<path d="M584.6,120.2L623.0,115.3L665.4,121.5"/>
<path d="M579.6,117.0L626.6,111.3L671.1,105.3"/>
<path d="M581.2,122.8L626.3,101.1L664.7,115.3"/>
<path d="M581.5,104.0L624.0,108.4L667.2,127.3"/>
<path d="M578.7,96.1L625.7,114.5L669.3,116.8"/>
<path d="M582.6,116.2L626.7,125.4L667.4,119.7"/>
<path d="M584.4,100.1L625.2,122.7L671.1,116.0"/>
<path d="M580.6,112.3L626.3,124.0L665.2,101.1"/>
<path d="M577.8,111.1L628.3,96.7L666.7,120.5"/>
<path d="M577.5,126.7L625.6,116.8L671.5,128.4"/>
<path d="M583.7,113.9L628.8,117.5L671.5,111.6"/>
<path d="M581.0,113.1L622.3,118.7L664.1,114.1"/>
<path d="M579.4,108.7L625.7,116.0L671.3,112.8"/>
<path d="M579.6,32.5L627.3,114.7L670.1,122.2"/>
<path d="M583.8,60.6L621.4,99.8L664.0,114.7"/>
<path d="M582.6,66.7L621.8,69.6L666.7,107.2"/>
<path d="M579.6,66.7L620.6,111.7L672.0,117.7"/>
<path d="M584.4,65.5L628.7,120.7L670.5,123.6"/>
<path d="M578.1,77.9L623.9,77.0L665.2,114.7"/>
<path d="M583.5,77.9L622.3,107.2L666.9,99.8"/>
<path d="M584.6,87.9L628.0,85.9L671.2,111.7"/>
<path d="M582.3,114.7L622.8,107.2L668.1,74.3"/>
</g>
<g fill="#4292c6" fill-opacity="0.45">
<circle cx="579.9" cy="115.4" r="2.05"/>
<circle cx="628.4" cy="113.1" r="2.05"/>
<circle cx="665.6" cy="117.5" r="2.05"/>
<circle cx="583.4" cy="124.1" r="2.05"/>
<circle cx="621.0" cy="102.6" r="2.05"/>
<circle cx="668.1" cy="126.1" r="2.05"/>
<circle cx="582.8" cy="118.9" r="2.05"/>
<circle cx="622.1" cy="99.6" r="2.05"/>
<circle cx="666.3" cy="96.9" r="2.05"/>
<circle cx="581.8" cy="105.2" r="2.05"/>
<circle cx="625.4" cy="113.8" r="2.05"/>
<circle cx="664.8" cy="122.7" r="2.05"/>
<circle cx="580.6" cy="92.1" r="2.05"/>
<circle cx="628.9" cy="120.0" r="2.05"/>
<circle cx="666.3" cy="118.3" r="2.05"/>
<circle cx="583.9" cy="107.5" r="2.05"/>
<circle cx="622.0" cy="104.1" r="2.05"/>
<circle cx="667.5" cy="107.9" r="2.05"/>
<circle cx="581.6" cy="117.8" r="2.05"/>
<circle cx="625.4" cy="98.1" r="2.05"/>
<circle cx="669.7" cy="98.3" r="2.05"/>
<circle cx="583.9" cy="109.9" r="2.05"/>
<circle cx="626.3" cy="109.4" r="2.05"/>
<circle cx="670.4" cy="99.7" r="2.05"/>
<circle cx="584.7" cy="114.7" r="2.05"/>
<circle cx="623.1" cy="121.4" r="2.05"/>
<circle cx="670.6" cy="119.0" r="2.05"/>
<circle cx="581.6" cy="102.2" r="2.05"/>
<circle cx="622.5" cy="107.4" r="2.05"/>
<circle cx="665.0" cy="103.9" r="2.05"/>
<circle cx="583.7" cy="98.1" r="2.05"/>
<circle cx="625.8" cy="95.2" r="2.05"/>
<circle cx="664.1" cy="102.5" r="2.05"/>
<circle cx="582.2" cy="121.5" r="2.05"/>
<circle cx="620.7" cy="126.7" r="2.05"/>
<circle cx="666.9" cy="110.4" r="2.05"/>
<circle cx="582.0" cy="106.4" r="2.05"/>
<circle cx="625.9" cy="105.4" r="2.05"/>
<circle cx="664.9" cy="106.7" r="2.05"/>
<circle cx="577.5" cy="125.4" r="2.05"/>
<circle cx="625.3" cy="110.3" r="2.05"/>
<circle cx="670.5" cy="125.0" r="2.05"/>
<circle cx="584.0" cy="94.1" r="2.05"/>
<circle cx="623.4" cy="112.3" r="2.05"/>
<circle cx="668.5" cy="123.8" r="2.05"/>
<circle cx="583.3" cy="90.1" r="2.05"/>
<circle cx="627.8" cy="106.4" r="2.05"/>
<circle cx="667.7" cy="109.1" r="2.05"/>
<circle cx="584.6" cy="120.2" r="2.05"/>
<circle cx="623.0" cy="115.3" r="2.05"/>
<circle cx="665.4" cy="121.5" r="2.05"/>
<circle cx="579.6" cy="117.0" r="2.05"/>
<circle cx="626.6" cy="111.3" r="2.05"/>
<circle cx="671.1" cy="105.3" r="2.05"/>
<circle cx="581.2" cy="122.8" r="2.05"/>
<circle cx="626.3" cy="101.1" r="2.05"/>
<circle cx="664.7" cy="115.3" r="2.05"/>
<circle cx="581.5" cy="104.0" r="2.05"/>
<circle cx="624.0" cy="108.4" r="2.05"/>
<circle cx="667.2" cy="127.3" r="2.05"/>
<circle cx="578.7" cy="96.1" r="2.05"/>
<circle cx="625.7" cy="114.5" r="2.05"/>
<circle cx="669.3" cy="116.8" r="2.05"/>
<circle cx="582.6" cy="116.2" r="2.05"/>
<circle cx="626.7" cy="125.4" r="2.05"/>
<circle cx="667.4" cy="119.7" r="2.05"/>
<circle cx="584.4" cy="100.1" r="2.05"/>
<circle cx="625.2" cy="122.7" r="2.05"/>
<circle cx="671.1" cy="116.0" r="2.05"/>
<circle cx="580.6" cy="112.3" r="2.05"/>
<circle cx="626.3" cy="124.0" r="2.05"/>
<circle cx="665.2" cy="101.1" r="2.05"/>
<circle cx="577.8" cy="111.1" r="2.05"/>
<circle cx="628.3" cy="96.7" r="2.05"/>
<circle cx="666.7" cy="120.5" r="2.05"/>
<circle cx="577.5" cy="126.7" r="2.05"/>
<circle cx="625.6" cy="116.8" r="2.05"/>
<circle cx="671.5" cy="128.4" r="2.05"/>
<circle cx="583.7" cy="113.9" r="2.05"/>
<circle cx="628.8" cy="117.5" r="2.05"/>
<circle cx="671.5" cy="111.6" r="2.05"/>
<circle cx="581.0" cy="113.1" r="2.05"/>
<circle cx="622.3" cy="118.7" r="2.05"/>
<circle cx="664.1" cy="114.1" r="2.05"/>
<circle cx="579.4" cy="108.7" r="2.05"/>
<circle cx="625.7" cy="116.0" r="2.05"/>
<circle cx="671.3" cy="112.8" r="2.05"/>
<circle cx="579.6" cy="32.5" r="2.05"/>
<circle cx="627.3" cy="114.7" r="2.05"/>
<circle cx="670.1" cy="122.2" r="2.05"/>
<circle cx="583.8" cy="60.6" r="2.05"/>
<circle cx="621.4" cy="99.8" r="2.05"/>
<circle cx="664.0" cy="114.7" r="2.05"/>
<circle cx="582.6" cy="66.7" r="2.05"/>
<circle cx="621.8" cy="69.6" r="2.05"/>
<circle cx="666.7" cy="107.2" r="2.05"/>
<circle cx="579.6" cy="66.7" r="2.05"/>
<circle cx="620.6" cy="111.7" r="2.05"/>
<circle cx="672.0" cy="117.7" r="2.05"/>
<circle cx="584.4" cy="65.5" r="2.05"/>
<circle cx="628.7" cy="120.7" r="2.05"/>
<circle cx="670.5" cy="123.6" r="2.05"/>
<circle cx="578.1" cy="77.9" r="2.05"/>
<circle cx="623.9" cy="77.0" r="2.05"/>
<circle cx="665.2" cy="114.7" r="2.05"/>
<circle cx="583.5" cy="77.9" r="2.05"/>
<circle cx="622.3" cy="107.2" r="2.05"/>
<circle cx="666.9" cy="99.8" r="2.05"/>
<circle cx="584.6" cy="87.9" r="2.05"/>
<circle cx="628.0" cy="85.9" r="2.05"/>
<circle cx="671.2" cy="111.7" r="2.05"/>
<circle cx="582.3" cy="114.7" r="2.05"/>
<circle cx="622.8" cy="107.2" r="2.05"/>
<circle cx="668.1" cy="74.3" r="2.05"/>
</g>
<path d="M581.40,103.67V89.07M581.40,117.98V127.37" stroke="#1d2b3d" stroke-width="1.3" fill="none"/>
<rect x="576.30" y="103.67" width="10.20" height="14.30" fill="none" stroke="#1d2632" stroke-width="1.0"/>
<path d="M576.30,112.32H586.50" stroke="#1d2632" stroke-width="1.6"/>
<path d="M624.60,105.16V94.44M624.60,117.68V127.37" stroke="#1d2b3d" stroke-width="1.3" fill="none"/>
<rect x="619.50" y="105.16" width="10.20" height="12.52" fill="none" stroke="#1d2632" stroke-width="1.0"/>
<path d="M619.50,112.32H629.70" stroke="#1d2632" stroke-width="1.6"/>
<path d="M667.80,106.36V96.22M667.80,120.66V129.00" stroke="#1d2b3d" stroke-width="1.3" fill="none"/>
<rect x="662.70" y="106.36" width="10.20" height="14.30" fill="none" stroke="#1d2632" stroke-width="1.0"/>
<path d="M662.70,115.30H672.90" stroke="#1d2632" stroke-width="1.6"/>
<path d="M566.30,21.50V139.30H684.20" fill="none" stroke="#3d3d3d" stroke-width="1.5"/>
<path d="M564.10,114.70H566.30" stroke="#3d3d3d" stroke-width="1.3"/>
<text x="561.50" y="119.20" font-size="12.3" text-anchor="end" fill="#4a4a4a" >0.2</text>
<path d="M564.10,84.90H566.30" stroke="#3d3d3d" stroke-width="1.3"/>
<text x="561.50" y="89.40" font-size="12.3" text-anchor="end" fill="#4a4a4a" >0.4</text>
<path d="M564.10,55.10H566.30" stroke="#3d3d3d" stroke-width="1.3"/>
<text x="561.50" y="59.60" font-size="12.3" text-anchor="end" fill="#4a4a4a" >0.6</text>
<path d="M564.10,25.30H566.30" stroke="#3d3d3d" stroke-width="1.3"/>
<text x="561.50" y="29.80" font-size="12.3" text-anchor="end" fill="#4a4a4a" >0.8</text>
<path d="M581.40,139.30V141.50" stroke="#3d3d3d" stroke-width="1.3"/>
<text x="581.40" y="157.60" font-size="12.3" text-anchor="middle" fill="#4a4a4a" >1-2</text>
<path d="M624.60,139.30V141.50" stroke="#3d3d3d" stroke-width="1.3"/>
<text x="624.60" y="157.60" font-size="12.3" text-anchor="middle" fill="#4a4a4a" >3-4</text>
<path d="M667.80,139.30V141.50" stroke="#3d3d3d" stroke-width="1.3"/>
<text x="667.80" y="157.60" font-size="12.3" text-anchor="middle" fill="#4a4a4a" >5-6</text>
<text x="624.60" y="175.70" font-size="13.5" text-anchor="middle" fill="#4a4a4a" >Block</text>
<text transform="translate(535.20,79.40) rotate(-90)" font-size="13.5" text-anchor="middle" fill="#4a4a4a">Diffusion coefficient</text>
<g fill="#474747" font-size="19.5"><text x="-0.4" y="198.9" transform="scale(1.06,1)">B</text><rect x="22.9" y="191.90" width="6.1" height="1.8"/><text x="35.09" y="198.9" transform="scale(1.06,1)">BSU</text></g>
<path d="M43.70,316.81 L44.59,316.74 L45.48,316.64 L46.38,316.52 L47.27,316.33 L48.16,316.07 L49.05,315.72 L49.95,315.27 L50.84,314.70 L51.73,314.03 L52.62,313.25 L53.52,312.37 L54.41,311.39 L55.30,310.30 L56.19,309.13 L57.09,307.87 L57.98,306.54 L58.87,305.14 L59.76,303.67 L60.66,302.15 L61.55,300.58 L62.44,298.98 L63.33,297.34 L64.23,295.69 L65.12,294.03 L66.01,292.37 L66.90,290.73 L67.80,289.11 L68.69,287.53 L69.58,286.00 L70.47,284.53 L71.37,283.12 L72.26,281.77 L73.15,280.48 L74.04,279.25 L74.94,278.07 L75.83,276.94 L76.72,275.86 L77.61,274.82 L78.51,273.83 L79.40,272.87 L80.29,271.95 L81.18,271.06 L82.07,270.20 L82.97,269.38 L83.86,268.59 L84.75,267.84 L85.64,267.11 L86.54,266.42 L87.43,265.75 L88.32,265.12 L89.21,264.51 L90.11,263.93 L91.00,263.38 L91.89,262.86 L92.78,262.36 L93.68,261.89 L94.57,261.44 L95.46,261.01 L96.35,260.61 L97.25,260.23 L98.14,259.87 L99.03,259.53 L99.92,259.21 L100.82,258.92 L101.71,258.64 L102.60,258.37 L103.49,258.13 L104.39,257.90 L105.28,257.68 L106.17,257.48 L107.06,257.30 L107.96,257.12 L108.85,256.96 L109.74,256.81 L110.63,256.67 L111.53,256.54 L112.42,256.42 L113.31,256.30 L114.20,256.19 L115.09,256.09 L115.99,256.00 L116.88,255.91 L117.77,255.83 L118.66,255.76 L119.56,255.70 L120.45,255.65 L121.34,255.60 L122.23,255.57 L123.13,255.55 L124.02,255.55 L124.91,255.55 L125.80,255.57 L126.70,255.60 L127.59,255.65 L128.48,255.71 L129.37,255.79 L130.27,255.89 L131.16,256.00 L132.05,256.14 L132.94,256.29 L133.84,256.45 L134.73,256.64 L135.62,256.84 L136.51,257.06 L137.41,257.29 L138.30,257.53 L139.19,257.79 L140.08,258.06 L140.98,258.33 L141.87,258.62 L142.76,258.92 L143.65,259.22 L144.55,259.53 L145.44,259.85 L146.33,260.17 L147.22,260.49 L148.12,260.82 L149.01,261.15 L149.90,261.48" fill="none" stroke="#c9e2c6" stroke-width="1.1"/>
<path d="M43.70,316.81 L44.59,316.77 L45.48,316.70 L46.38,316.58 L47.27,316.40 L48.16,316.12 L49.05,315.72 L49.95,315.18 L50.84,314.50 L51.73,313.68 L52.62,312.70 L53.52,311.57 L54.41,310.29 L55.30,308.85 L56.19,307.29 L57.09,305.60 L57.98,303.83 L58.87,301.99 L59.76,300.11 L60.66,298.19 L61.55,296.27 L62.44,294.37 L63.33,292.47 L64.23,290.60 L65.12,288.74 L66.01,286.90 L66.90,285.09 L67.80,283.30 L68.69,281.53 L69.58,279.79 L70.47,278.08 L71.37,276.40 L72.26,274.75 L73.15,273.14 L74.04,271.58 L74.94,270.05 L75.83,268.57 L76.72,267.15 L77.61,265.77 L78.51,264.45 L79.40,263.20 L80.29,262.00 L81.18,260.86 L82.07,259.78 L82.97,258.75 L83.86,257.78 L84.75,256.87 L85.64,256.00 L86.54,255.18 L87.43,254.41 L88.32,253.68 L89.21,253.00 L90.11,252.36 L91.00,251.76 L91.89,251.20 L92.78,250.67 L93.68,250.18 L94.57,249.72 L95.46,249.30 L96.35,248.90 L97.25,248.53 L98.14,248.19 L99.03,247.87 L99.92,247.59 L100.82,247.32 L101.71,247.09 L102.60,246.88 L103.49,246.70 L104.39,246.54 L105.28,246.41 L106.17,246.31 L107.06,246.23 L107.96,246.18 L108.85,246.15 L109.74,246.15 L110.63,246.18 L111.53,246.23 L112.42,246.31 L113.31,246.41 L114.20,246.54 L115.09,246.69 L115.99,246.87 L116.88,247.07 L117.77,247.29 L118.66,247.53 L119.56,247.80 L120.45,248.08 L121.34,248.38 L122.23,248.69 L123.13,249.03 L124.02,249.37 L124.91,249.73 L125.80,250.10 L126.70,250.48 L127.59,250.86 L128.48,251.26 L129.37,251.66 L130.27,252.07 L131.16,252.48 L132.05,252.90 L132.94,253.32 L133.84,253.74 L134.73,254.16 L135.62,254.58 L136.51,255.00 L137.41,255.43 L138.30,255.86 L139.19,256.28 L140.08,256.71 L140.98,257.14 L141.87,257.58 L142.76,258.01 L143.65,258.44 L144.55,258.87 L145.44,259.31 L146.33,259.74 L147.22,260.18 L148.12,260.61 L149.01,261.04 L149.90,261.48" fill="none" stroke="#69a883" stroke-width="1.1"/>
<path d="M43.70,316.81 L44.59,316.79 L45.48,316.74 L46.38,316.63 L47.27,316.45 L48.16,316.15 L49.05,315.72 L49.95,315.12 L50.84,314.35 L51.73,313.39 L52.62,312.21 L53.52,310.82 L54.41,309.19 L55.30,307.32 L56.19,305.24 L57.09,303.01 L57.98,300.65 L58.87,298.22 L59.76,295.75 L60.66,293.29 L61.55,290.87 L62.44,288.54 L63.33,286.29 L64.23,284.11 L65.12,282.00 L66.01,279.96 L66.90,277.98 L67.80,276.06 L68.69,274.20 L69.58,272.38 L70.47,270.62 L71.37,268.90 L72.26,267.23 L73.15,265.60 L74.04,264.03 L74.94,262.51 L75.83,261.04 L76.72,259.63 L77.61,258.28 L78.51,256.99 L79.40,255.76 L80.29,254.59 L81.18,253.48 L82.07,252.43 L82.97,251.43 L83.86,250.50 L84.75,249.62 L85.64,248.79 L86.54,248.01 L87.43,247.29 L88.32,246.61 L89.21,245.98 L90.11,245.39 L91.00,244.85 L91.89,244.36 L92.78,243.90 L93.68,243.49 L94.57,243.11 L95.46,242.77 L96.35,242.47 L97.25,242.20 L98.14,241.96 L99.03,241.76 L99.92,241.59 L100.82,241.45 L101.71,241.34 L102.60,241.27 L103.49,241.23 L104.39,241.22 L105.28,241.25 L106.17,241.30 L107.06,241.39 L107.96,241.50 L108.85,241.65 L109.74,241.84 L110.63,242.06 L111.53,242.31 L112.42,242.59 L113.31,242.91 L114.20,243.27 L115.09,243.66 L115.99,244.08 L116.88,244.54 L117.77,245.02 L118.66,245.53 L119.56,246.07 L120.45,246.63 L121.34,247.22 L122.23,247.82 L123.13,248.43 L124.02,249.06 L124.91,249.70 L125.80,250.35 L126.70,251.01 L127.59,251.68 L128.48,252.34 L129.37,253.01 L130.27,253.67 L131.16,254.33 L132.05,254.99 L132.94,255.63 L133.84,256.27 L134.73,256.90 L135.62,257.52 L136.51,258.14 L137.41,258.74 L138.30,259.35 L139.19,259.94 L140.08,260.53 L140.98,261.12 L141.87,261.70 L142.76,262.28 L143.65,262.85 L144.55,263.42 L145.44,263.99 L146.33,264.55 L147.22,265.12 L148.12,265.68 L149.01,266.24 L149.90,266.80" fill="none" stroke="#3b7552" stroke-width="1.1"/>
<path d="M43.70,312.11V318.31M40.10,312.11H47.30M40.10,318.31H47.30" stroke="#a6dba0" stroke-width="1.1" fill="none"/>
<rect x="40.50" y="312.01" width="6.4" height="6.4" rx="1.3" fill="#a6dba0"/>
<path d="M61.40,304.88V311.08M57.80,304.88H65.00M57.80,311.08H65.00" stroke="#a6dba0" stroke-width="1.1" fill="none"/>
<rect x="58.20" y="304.78" width="6.4" height="6.4" rx="1.3" fill="#a6dba0"/>
<path d="M79.10,281.26V287.46M75.50,281.26H82.70M75.50,287.46H82.70" stroke="#a6dba0" stroke-width="1.1" fill="none"/>
<rect x="75.90" y="281.16" width="6.4" height="6.4" rx="1.3" fill="#a6dba0"/>
<path d="M96.80,251.46V257.66M93.20,251.46H100.40M93.20,257.66H100.40" stroke="#a6dba0" stroke-width="1.1" fill="none"/>
<rect x="93.60" y="251.36" width="6.4" height="6.4" rx="1.3" fill="#a6dba0"/>
<path d="M114.50,244.55V250.75M110.90,244.55H118.10M110.90,250.75H118.10" stroke="#a6dba0" stroke-width="1.1" fill="none"/>
<rect x="111.30" y="244.45" width="6.4" height="6.4" rx="1.3" fill="#a6dba0"/>
<path d="M132.20,250.93V257.13M128.60,250.93H135.80M128.60,257.13H135.80" stroke="#a6dba0" stroke-width="1.1" fill="none"/>
<rect x="129.00" y="250.83" width="6.4" height="6.4" rx="1.3" fill="#a6dba0"/>
<path d="M149.90,266.89V273.09M146.30,266.89H153.50M146.30,273.09H153.50" stroke="#a6dba0" stroke-width="1.1" fill="none"/>
<rect x="146.70" y="266.79" width="6.4" height="6.4" rx="1.3" fill="#a6dba0"/>
<path d="M43.70,312.11V318.31M40.10,312.11H47.30M40.10,318.31H47.30" stroke="#3fa65a" stroke-width="1.1" fill="none"/>
<rect x="40.50" y="312.01" width="6.4" height="6.4" rx="3.2" fill="#3fa65a"/>
<path d="M61.40,300.41V306.61M57.80,300.41H65.00M57.80,306.61H65.00" stroke="#3fa65a" stroke-width="1.1" fill="none"/>
<rect x="58.20" y="300.31" width="6.4" height="6.4" rx="3.2" fill="#3fa65a"/>
<path d="M79.10,266.89V273.09M75.50,266.89H82.70M75.50,273.09H82.70" stroke="#3fa65a" stroke-width="1.1" fill="none"/>
<rect x="75.90" y="266.79" width="6.4" height="6.4" rx="3.2" fill="#3fa65a"/>
<path d="M96.80,239.23V245.43M93.20,239.23H100.40M93.20,245.43H100.40" stroke="#3fa65a" stroke-width="1.1" fill="none"/>
<rect x="93.60" y="239.13" width="6.4" height="6.4" rx="3.2" fill="#3fa65a"/>
<path d="M114.50,237.10V243.30M110.90,237.10H118.10M110.90,243.30H118.10" stroke="#3fa65a" stroke-width="1.1" fill="none"/>
<rect x="111.30" y="237.00" width="6.4" height="6.4" rx="3.2" fill="#3fa65a"/>
<path d="M132.20,249.12V255.32M128.60,249.12H135.80M128.60,255.32H135.80" stroke="#3fa65a" stroke-width="1.1" fill="none"/>
<rect x="129.00" y="249.02" width="6.4" height="6.4" rx="3.2" fill="#3fa65a"/>
<path d="M149.90,263.91V270.11M146.30,263.91H153.50M146.30,270.11H153.50" stroke="#3fa65a" stroke-width="1.1" fill="none"/>
<rect x="146.70" y="263.81" width="6.4" height="6.4" rx="3.2" fill="#3fa65a"/>
<path d="M43.70,311.90V318.10M40.10,311.90H47.30M40.10,318.10H47.30" stroke="#00712f" stroke-width="1.1" fill="none"/>
<rect x="40.50" y="311.80" width="6.4" height="6.4" rx="2.7" fill="#00712f"/>
<path d="M61.40,294.34V300.54M57.80,294.34H65.00M57.80,300.54H65.00" stroke="#00712f" stroke-width="1.1" fill="none"/>
<rect x="58.20" y="294.24" width="6.4" height="6.4" rx="2.7" fill="#00712f"/>
<path d="M79.10,254.12V260.32M75.50,254.12H82.70M75.50,260.32H82.70" stroke="#00712f" stroke-width="1.1" fill="none"/>
<rect x="75.90" y="254.02" width="6.4" height="6.4" rx="2.7" fill="#00712f"/>
<path d="M96.80,232.84V239.04M93.20,232.84H100.40M93.20,239.04H100.40" stroke="#00712f" stroke-width="1.1" fill="none"/>
<rect x="93.60" y="232.74" width="6.4" height="6.4" rx="2.7" fill="#00712f"/>
<path d="M114.50,236.67V242.87M110.90,236.67H118.10M110.90,242.87H118.10" stroke="#00712f" stroke-width="1.1" fill="none"/>
<rect x="111.30" y="236.57" width="6.4" height="6.4" rx="2.7" fill="#00712f"/>
<path d="M132.20,253.59V259.79M128.60,253.59H135.80M128.60,259.79H135.80" stroke="#00712f" stroke-width="1.1" fill="none"/>
<rect x="129.00" y="253.49" width="6.4" height="6.4" rx="2.7" fill="#00712f"/>
<path d="M149.90,271.47V277.67M146.30,271.47H153.50M146.30,277.67H153.50" stroke="#00712f" stroke-width="1.1" fill="none"/>
<rect x="146.70" y="271.37" width="6.4" height="6.4" rx="2.7" fill="#00712f"/>
<path d="M38.60,207.20V325.00H156.20" fill="none" stroke="#3d3d3d" stroke-width="1.5"/>
<path d="M36.40,320.00H38.60" stroke="#3d3d3d" stroke-width="1.3"/>
<text x="33.80" y="324.50" font-size="12.3" text-anchor="end" fill="#4a4a4a" >0</text>
<path d="M36.40,266.80H38.60" stroke="#3d3d3d" stroke-width="1.3"/>
<text x="33.80" y="271.30" font-size="12.3" text-anchor="end" fill="#4a4a4a" >0.5</text>
<path d="M36.40,213.60H38.60" stroke="#3d3d3d" stroke-width="1.3"/>
<text x="33.80" y="218.10" font-size="12.3" text-anchor="end" fill="#4a4a4a" >1</text>
<path d="M61.40,325.00V327.20" stroke="#3d3d3d" stroke-width="1.3"/>
<text x="61.40" y="342.50" font-size="12.3" text-anchor="middle" fill="#4a4a4a" >0.2</text>
<path d="M96.80,325.00V327.20" stroke="#3d3d3d" stroke-width="1.3"/>
<text x="96.80" y="342.50" font-size="12.3" text-anchor="middle" fill="#4a4a4a" >0.4</text>
<path d="M132.20,325.00V327.20" stroke="#3d3d3d" stroke-width="1.3"/>
<text x="132.20" y="342.50" font-size="12.3" text-anchor="middle" fill="#4a4a4a" >0.6</text>
<text x="97.40" y="359.90" font-size="13.5" text-anchor="middle" fill="#4a4a4a" >Duration (s)</text>
<text transform="translate(9.80,267.00) rotate(-90)" font-size="13.5" text-anchor="middle" fill="#4a4a4a">P(&quot;Same&quot;)</text>
<g fill="none" stroke="#4a90c8" stroke-width="0.65" stroke-opacity="0.42">
<path d="M232.9,280.6L271.3,284.7L319.8,288.1"/>
<path d="M230.5,286.0L274.3,271.9L322.8,306.5"/>
<path d="M234.5,278.0L271.8,285.9L320.4,279.6"/>
<path d="M228.2,276.2L278.9,291.5L319.6,295.1"/>
<path d="M233.5,281.5L271.4,273.6L315.2,310.1"/>
<path d="M232.6,291.6L274.6,268.5L321.5,290.9"/>
<path d="M230.5,263.3L274.7,282.0L315.5,284.5"/>
<path d="M232.4,261.2L279.5,270.2L316.8,277.2"/>
<path d="M234.9,288.2L272.7,289.1L322.1,292.0"/>
<path d="M232.5,300.2L272.4,295.5L321.2,299.4"/>
<path d="M235.7,265.5L272.5,280.3L315.5,276.0"/>
<path d="M230.3,269.9L275.7,275.2L322.7,285.7"/>
<path d="M235.5,256.8L274.1,297.0L314.8,286.5"/>
<path d="M233.2,289.9L276.2,289.9L316.6,308.3"/>
<path d="M233.3,275.4L279.7,288.3L315.7,286.9"/>
<path d="M230.8,295.1L278.6,294.1L315.9,286.1"/>
<path d="M229.2,278.9L272.8,284.2L321.1,296.2"/>
<path d="M229.2,296.8L272.1,299.9L319.9,297.6"/>
<path d="M234.7,267.7L277.8,282.5L318.2,283.3"/>
<path d="M236.0,286.9L272.6,276.9L318.3,278.4"/>
<path d="M231.3,279.7L276.0,285.3L316.2,294.1"/>
<path d="M229.4,298.5L279.8,302.8L317.1,288.8"/>
<path d="M232.4,273.6L279.2,292.6L317.1,282.1"/>
<path d="M231.3,284.2L276.1,301.4L315.1,285.3"/>
<path d="M228.3,285.1L276.7,283.6L317.7,302.9"/>
<path d="M228.8,282.4L273.8,298.4L320.5,289.9"/>
<path d="M234.6,274.5L275.6,283.1L316.4,280.9"/>
<path d="M235.3,293.3L273.1,278.6L321.0,287.7"/>
<path d="M229.4,259.0L279.3,286.7L321.2,293.0"/>
<path d="M232.4,272.1L275.0,287.5L319.4,301.1"/>
<path d="M233.8,283.3L276.1,281.4L320.5,287.3"/>
<path d="M228.9,277.1L274.9,290.7L321.0,304.7"/>
<path d="M232.3,230.5L279.6,285.9L319.1,290.1"/>
<path d="M232.8,247.7L275.0,262.6L318.1,285.9"/>
<path d="M235.0,251.6L276.8,263.9L321.9,274.9"/>
<path d="M234.1,308.8L273.8,314.0L319.4,310.7"/>
<path d="M231.3,301.1L273.8,308.4L322.9,307.9"/>
<path d="M236.2,285.9L276.0,292.8L320.9,266.1"/>
</g>
<g fill="#4292c6" fill-opacity="0.45">
<circle cx="232.9" cy="280.6" r="2.05"/>
<circle cx="271.3" cy="284.7" r="2.05"/>
<circle cx="319.8" cy="288.1" r="2.05"/>
<circle cx="230.5" cy="286.0" r="2.05"/>
<circle cx="274.3" cy="271.9" r="2.05"/>
<circle cx="322.8" cy="306.5" r="2.05"/>
<circle cx="234.5" cy="278.0" r="2.05"/>
<circle cx="271.8" cy="285.9" r="2.05"/>
<circle cx="320.4" cy="279.6" r="2.05"/>
<circle cx="228.2" cy="276.2" r="2.05"/>
<circle cx="278.9" cy="291.5" r="2.05"/>
<circle cx="319.6" cy="295.1" r="2.05"/>
<circle cx="233.5" cy="281.5" r="2.05"/>
<circle cx="271.4" cy="273.6" r="2.05"/>
<circle cx="315.2" cy="310.1" r="2.05"/>
<circle cx="232.6" cy="291.6" r="2.05"/>
<circle cx="274.6" cy="268.5" r="2.05"/>
<circle cx="321.5" cy="290.9" r="2.05"/>
<circle cx="230.5" cy="263.3" r="2.05"/>
<circle cx="274.7" cy="282.0" r="2.05"/>
<circle cx="315.5" cy="284.5" r="2.05"/>
<circle cx="232.4" cy="261.2" r="2.05"/>
<circle cx="279.5" cy="270.2" r="2.05"/>
<circle cx="316.8" cy="277.2" r="2.05"/>
<circle cx="234.9" cy="288.2" r="2.05"/>
<circle cx="272.7" cy="289.1" r="2.05"/>
<circle cx="322.1" cy="292.0" r="2.05"/>
<circle cx="232.5" cy="300.2" r="2.05"/>
<circle cx="272.4" cy="295.5" r="2.05"/>
<circle cx="321.2" cy="299.4" r="2.05"/>
<circle cx="235.7" cy="265.5" r="2.05"/>
<circle cx="272.5" cy="280.3" r="2.05"/>
<circle cx="315.5" cy="276.0" r="2.05"/>
<circle cx="230.3" cy="269.9" r="2.05"/>
<circle cx="275.7" cy="275.2" r="2.05"/>
<circle cx="322.7" cy="285.7" r="2.05"/>
<circle cx="235.5" cy="256.8" r="2.05"/>
<circle cx="274.1" cy="297.0" r="2.05"/>
<circle cx="314.8" cy="286.5" r="2.05"/>
<circle cx="233.2" cy="289.9" r="2.05"/>
<circle cx="276.2" cy="289.9" r="2.05"/>
<circle cx="316.6" cy="308.3" r="2.05"/>
<circle cx="233.3" cy="275.4" r="2.05"/>
<circle cx="279.7" cy="288.3" r="2.05"/>
<circle cx="315.7" cy="286.9" r="2.05"/>
<circle cx="230.8" cy="295.1" r="2.05"/>
<circle cx="278.6" cy="294.1" r="2.05"/>
<circle cx="315.9" cy="286.1" r="2.05"/>
<circle cx="229.2" cy="278.9" r="2.05"/>
<circle cx="272.8" cy="284.2" r="2.05"/>
<circle cx="321.1" cy="296.2" r="2.05"/>
<circle cx="229.2" cy="296.8" r="2.05"/>
<circle cx="272.1" cy="299.9" r="2.05"/>
<circle cx="319.9" cy="297.6" r="2.05"/>
<circle cx="234.7" cy="267.7" r="2.05"/>
<circle cx="277.8" cy="282.5" r="2.05"/>
<circle cx="318.2" cy="283.3" r="2.05"/>
<circle cx="236.0" cy="286.9" r="2.05"/>
<circle cx="272.6" cy="276.9" r="2.05"/>
<circle cx="318.3" cy="278.4" r="2.05"/>
<circle cx="231.3" cy="279.7" r="2.05"/>
<circle cx="276.0" cy="285.3" r="2.05"/>
<circle cx="316.2" cy="294.1" r="2.05"/>
<circle cx="229.4" cy="298.5" r="2.05"/>
<circle cx="279.8" cy="302.8" r="2.05"/>
<circle cx="317.1" cy="288.8" r="2.05"/>
<circle cx="232.4" cy="273.6" r="2.05"/>
<circle cx="279.2" cy="292.6" r="2.05"/>
<circle cx="317.1" cy="282.1" r="2.05"/>
<circle cx="231.3" cy="284.2" r="2.05"/>
<circle cx="276.1" cy="301.4" r="2.05"/>
<circle cx="315.1" cy="285.3" r="2.05"/>
<circle cx="228.3" cy="285.1" r="2.05"/>
<circle cx="276.7" cy="283.6" r="2.05"/>
<circle cx="317.7" cy="302.9" r="2.05"/>
<circle cx="228.8" cy="282.4" r="2.05"/>
<circle cx="273.8" cy="298.4" r="2.05"/>
<circle cx="320.5" cy="289.9" r="2.05"/>
<circle cx="234.6" cy="274.5" r="2.05"/>
<circle cx="275.6" cy="283.1" r="2.05"/>
<circle cx="316.4" cy="280.9" r="2.05"/>
<circle cx="235.3" cy="293.3" r="2.05"/>
<circle cx="273.1" cy="278.6" r="2.05"/>
<circle cx="321.0" cy="287.7" r="2.05"/>
<circle cx="229.4" cy="259.0" r="2.05"/>
<circle cx="279.3" cy="286.7" r="2.05"/>
<circle cx="321.2" cy="293.0" r="2.05"/>
<circle cx="232.4" cy="272.1" r="2.05"/>
<circle cx="275.0" cy="287.5" r="2.05"/>
<circle cx="319.4" cy="301.1" r="2.05"/>
<circle cx="233.8" cy="283.3" r="2.05"/>
<circle cx="276.1" cy="281.4" r="2.05"/>
<circle cx="320.5" cy="287.3" r="2.05"/>
<circle cx="228.9" cy="277.1" r="2.05"/>
<circle cx="274.9" cy="290.7" r="2.05"/>
<circle cx="321.0" cy="304.7" r="2.05"/>
<circle cx="232.3" cy="230.5" r="2.05"/>
<circle cx="279.6" cy="285.9" r="2.05"/>
<circle cx="319.1" cy="290.1" r="2.05"/>
<circle cx="232.8" cy="247.7" r="2.05"/>
<circle cx="275.0" cy="262.6" r="2.05"/>
<circle cx="318.1" cy="285.9" r="2.05"/>
<circle cx="235.0" cy="251.6" r="2.05"/>
<circle cx="276.8" cy="263.9" r="2.05"/>
<circle cx="321.9" cy="274.9" r="2.05"/>
<circle cx="234.1" cy="308.8" r="2.05"/>
<circle cx="273.8" cy="314.0" r="2.05"/>
<circle cx="319.4" cy="310.7" r="2.05"/>
<circle cx="231.3" cy="301.1" r="2.05"/>
<circle cx="273.8" cy="308.4" r="2.05"/>
<circle cx="322.9" cy="307.9" r="2.05"/>
<circle cx="236.2" cy="285.9" r="2.05"/>
<circle cx="276.0" cy="292.8" r="2.05"/>
<circle cx="320.9" cy="266.1" r="2.05"/>
</g>
<path d="M232.40,273.16V255.70M232.40,287.32V301.07" stroke="#1d2b3d" stroke-width="1.3" fill="none"/>
<rect x="227.30" y="273.16" width="10.20" height="14.16" fill="none" stroke="#1d2632" stroke-width="1.0"/>
<path d="M227.30,280.18H237.50" stroke="#1d2632" stroke-width="1.6"/>
<path d="M275.60,281.14V267.66M275.60,291.86V303.55" stroke="#1d2b3d" stroke-width="1.3" fill="none"/>
<rect x="270.50" y="281.14" width="10.20" height="10.73" fill="none" stroke="#1d2632" stroke-width="1.0"/>
<path d="M270.50,285.54H280.70" stroke="#1d2632" stroke-width="1.6"/>
<path d="M318.80,285.12V275.36M318.80,296.68V310.97" stroke="#1d2b3d" stroke-width="1.3" fill="none"/>
<rect x="313.70" y="285.12" width="10.20" height="11.55" fill="none" stroke="#1d2632" stroke-width="1.0"/>
<path d="M313.70,288.29H323.90" stroke="#1d2632" stroke-width="1.6"/>
<path d="M217.30,206.20V324.00H335.00" fill="none" stroke="#3d3d3d" stroke-width="1.5"/>
<path d="M215.10,299.70H217.30" stroke="#3d3d3d" stroke-width="1.3"/>
<text x="212.50" y="304.20" font-size="12.3" text-anchor="end" fill="#4a4a4a" >0.2</text>
<path d="M215.10,272.20H217.30" stroke="#3d3d3d" stroke-width="1.3"/>
<text x="212.50" y="276.70" font-size="12.3" text-anchor="end" fill="#4a4a4a" >0.4</text>
<path d="M215.10,244.70H217.30" stroke="#3d3d3d" stroke-width="1.3"/>
<text x="212.50" y="249.20" font-size="12.3" text-anchor="end" fill="#4a4a4a" >0.6</text>
<path d="M215.10,217.20H217.30" stroke="#3d3d3d" stroke-width="1.3"/>
<text x="212.50" y="221.70" font-size="12.3" text-anchor="end" fill="#4a4a4a" >0.8</text>
<path d="M232.40,324.00V326.20" stroke="#3d3d3d" stroke-width="1.3"/>
<text x="232.40" y="341.90" font-size="12.3" text-anchor="middle" fill="#4a4a4a" >1-2</text>
<path d="M275.60,324.00V326.20" stroke="#3d3d3d" stroke-width="1.3"/>
<text x="275.60" y="341.90" font-size="12.3" text-anchor="middle" fill="#4a4a4a" >3-4</text>
<path d="M318.80,324.00V326.20" stroke="#3d3d3d" stroke-width="1.3"/>
<text x="318.80" y="341.90" font-size="12.3" text-anchor="middle" fill="#4a4a4a" >5-6</text>
<text x="275.60" y="360.90" font-size="13.5" text-anchor="middle" fill="#4a4a4a" >Block</text>
<text transform="translate(186.40,266.00) rotate(-90)" font-size="13.5" text-anchor="middle" fill="#4a4a4a">Lower boundary</text>
<g fill="none" stroke="#4a90c8" stroke-width="0.65" stroke-opacity="0.42">
<path d="M398.8,270.5L448.7,295.6L489.4,300.2"/>
<path d="M402.9,304.7L444.1,301.9L489.3,302.2"/>
<path d="M398.3,306.1L443.5,303.2L489.5,311.5"/>
<path d="M402.8,307.6L445.4,300.6L484.6,305.5"/>
<path d="M400.5,303.4L449.4,307.1L492.2,306.6"/>
<path d="M404.8,288.7L441.4,310.0L484.7,301.2"/>
<path d="M399.5,292.2L448.0,289.7L485.9,297.4"/>
<path d="M399.6,284.8L443.1,286.8L490.4,293.1"/>
<path d="M402.2,301.5L448.3,308.6L484.8,303.2"/>
<path d="M398.1,310.5L448.2,311.3L485.0,305.2"/>
<path d="M403.8,300.8L446.1,309.3L485.9,312.3"/>
<path d="M399.9,280.9L447.3,294.1L484.3,296.6"/>
<path d="M405.9,286.0L441.3,287.7L485.5,297.0"/>
<path d="M403.2,299.1L441.9,291.6L492.7,307.4"/>
<path d="M401.4,287.3L441.5,288.7L485.5,308.4"/>
<path d="M402.4,290.4L448.4,279.0L486.3,297.7"/>
<path d="M401.1,305.4L445.8,296.4L489.7,313.1"/>
<path d="M403.9,309.8L443.7,297.2L487.3,306.3"/>
<path d="M405.2,308.3L448.7,305.8L487.7,310.8"/>
<path d="M406.3,293.9L442.4,298.0L491.2,310.0"/>
<path d="M405.5,302.8L445.8,312.0L490.1,307.0"/>
<path d="M398.2,295.6L448.1,304.5L490.0,298.2"/>
<path d="M402.7,283.5L445.9,290.6L485.5,299.2"/>
<path d="M405.0,282.2L445.5,299.3L489.3,296.3"/>
<path d="M399.2,302.1L446.3,307.9L486.1,307.7"/>
<path d="M404.3,306.8L441.1,294.8L485.2,309.2"/>
<path d="M399.5,297.4L444.3,293.3L491.6,304.2"/>
<path d="M397.8,309.0L445.7,310.7L484.4,305.9"/>
<path d="M401.0,304.1L443.5,292.5L485.5,295.9"/>
<path d="M400.7,221.5L443.8,299.9L486.4,307.4"/>
<path d="M400.9,248.4L443.0,296.1L492.5,305.5"/>
<path d="M399.1,265.0L449.4,292.3L485.5,303.7"/>
<path d="M398.6,274.1L441.4,284.7L484.2,298.0"/>
<path d="M398.5,280.9L446.4,266.6L486.1,292.3"/>
<path d="M400.1,303.7L443.4,220.4L484.4,306.7"/>
<path d="M402.3,292.3L444.3,294.2L490.1,268.5"/>
<path d="M405.5,299.9L444.0,288.5L487.4,277.7"/>
<path d="M403.7,296.1L448.3,301.8L485.3,282.1"/>
</g>
<g fill="#4292c6" fill-opacity="0.45">
<circle cx="398.8" cy="270.5" r="2.05"/>
<circle cx="448.7" cy="295.6" r="2.05"/>
<circle cx="489.4" cy="300.2" r="2.05"/>
<circle cx="402.9" cy="304.7" r="2.05"/>
<circle cx="444.1" cy="301.9" r="2.05"/>
<circle cx="489.3" cy="302.2" r="2.05"/>
<circle cx="398.3" cy="306.1" r="2.05"/>
<circle cx="443.5" cy="303.2" r="2.05"/>
<circle cx="489.5" cy="311.5" r="2.05"/>
<circle cx="402.8" cy="307.6" r="2.05"/>
<circle cx="445.4" cy="300.6" r="2.05"/>
<circle cx="484.6" cy="305.5" r="2.05"/>
<circle cx="400.5" cy="303.4" r="2.05"/>
<circle cx="449.4" cy="307.1" r="2.05"/>
<circle cx="492.2" cy="306.6" r="2.05"/>
<circle cx="404.8" cy="288.7" r="2.05"/>
<circle cx="441.4" cy="310.0" r="2.05"/>
<circle cx="484.7" cy="301.2" r="2.05"/>
<circle cx="399.5" cy="292.2" r="2.05"/>
<circle cx="448.0" cy="289.7" r="2.05"/>
<circle cx="485.9" cy="297.4" r="2.05"/>
<circle cx="399.6" cy="284.8" r="2.05"/>
<circle cx="443.1" cy="286.8" r="2.05"/>
<circle cx="490.4" cy="293.1" r="2.05"/>
<circle cx="402.2" cy="301.5" r="2.05"/>
<circle cx="448.3" cy="308.6" r="2.05"/>
<circle cx="484.8" cy="303.2" r="2.05"/>
<circle cx="398.1" cy="310.5" r="2.05"/>
<circle cx="448.2" cy="311.3" r="2.05"/>
<circle cx="485.0" cy="305.2" r="2.05"/>
<circle cx="403.8" cy="300.8" r="2.05"/>
<circle cx="446.1" cy="309.3" r="2.05"/>
<circle cx="485.9" cy="312.3" r="2.05"/>
<circle cx="399.9" cy="280.9" r="2.05"/>
<circle cx="447.3" cy="294.1" r="2.05"/>
<circle cx="484.3" cy="296.6" r="2.05"/>
<circle cx="405.9" cy="286.0" r="2.05"/>
<circle cx="441.3" cy="287.7" r="2.05"/>
<circle cx="485.5" cy="297.0" r="2.05"/>
<circle cx="403.2" cy="299.1" r="2.05"/>
<circle cx="441.9" cy="291.6" r="2.05"/>
<circle cx="492.7" cy="307.4" r="2.05"/>
<circle cx="401.4" cy="287.3" r="2.05"/>
<circle cx="441.5" cy="288.7" r="2.05"/>
<circle cx="485.5" cy="308.4" r="2.05"/>
<circle cx="402.4" cy="290.4" r="2.05"/>
<circle cx="448.4" cy="279.0" r="2.05"/>
<circle cx="486.3" cy="297.7" r="2.05"/>
<circle cx="401.1" cy="305.4" r="2.05"/>
<circle cx="445.8" cy="296.4" r="2.05"/>
<circle cx="489.7" cy="313.1" r="2.05"/>
<circle cx="403.9" cy="309.8" r="2.05"/>
<circle cx="443.7" cy="297.2" r="2.05"/>
<circle cx="487.3" cy="306.3" r="2.05"/>
<circle cx="405.2" cy="308.3" r="2.05"/>
<circle cx="448.7" cy="305.8" r="2.05"/>
<circle cx="487.7" cy="310.8" r="2.05"/>
<circle cx="406.3" cy="293.9" r="2.05"/>
<circle cx="442.4" cy="298.0" r="2.05"/>
<circle cx="491.2" cy="310.0" r="2.05"/>
<circle cx="405.5" cy="302.8" r="2.05"/>
<circle cx="445.8" cy="312.0" r="2.05"/>
<circle cx="490.1" cy="307.0" r="2.05"/>
<circle cx="398.2" cy="295.6" r="2.05"/>
<circle cx="448.1" cy="304.5" r="2.05"/>
<circle cx="490.0" cy="298.2" r="2.05"/>
<circle cx="402.7" cy="283.5" r="2.05"/>
<circle cx="445.9" cy="290.6" r="2.05"/>
<circle cx="485.5" cy="299.2" r="2.05"/>
<circle cx="405.0" cy="282.2" r="2.05"/>
<circle cx="445.5" cy="299.3" r="2.05"/>
<circle cx="489.3" cy="296.3" r="2.05"/>
<circle cx="399.2" cy="302.1" r="2.05"/>
<circle cx="446.3" cy="307.9" r="2.05"/>
<circle cx="486.1" cy="307.7" r="2.05"/>
<circle cx="404.3" cy="306.8" r="2.05"/>
<circle cx="441.1" cy="294.8" r="2.05"/>
<circle cx="485.2" cy="309.2" r="2.05"/>
<circle cx="399.5" cy="297.4" r="2.05"/>
<circle cx="444.3" cy="293.3" r="2.05"/>
<circle cx="491.6" cy="304.2" r="2.05"/>
<circle cx="397.8" cy="309.0" r="2.05"/>
<circle cx="445.7" cy="310.7" r="2.05"/>
<circle cx="484.4" cy="305.9" r="2.05"/>
<circle cx="401.0" cy="304.1" r="2.05"/>
<circle cx="443.5" cy="292.5" r="2.05"/>
<circle cx="485.5" cy="295.9" r="2.05"/>
<circle cx="400.7" cy="221.5" r="2.05"/>
<circle cx="443.8" cy="299.9" r="2.05"/>
<circle cx="486.4" cy="307.4" r="2.05"/>
<circle cx="400.9" cy="248.4" r="2.05"/>
<circle cx="443.0" cy="296.1" r="2.05"/>
<circle cx="492.5" cy="305.5" r="2.05"/>
<circle cx="399.1" cy="265.0" r="2.05"/>
<circle cx="449.4" cy="292.3" r="2.05"/>
<circle cx="485.5" cy="303.7" r="2.05"/>
<circle cx="398.6" cy="274.1" r="2.05"/>
<circle cx="441.4" cy="284.7" r="2.05"/>
<circle cx="484.2" cy="298.0" r="2.05"/>
<circle cx="398.5" cy="280.9" r="2.05"/>
<circle cx="446.4" cy="266.6" r="2.05"/>
<circle cx="486.1" cy="292.3" r="2.05"/>
<circle cx="400.1" cy="303.7" r="2.05"/>
<circle cx="443.4" cy="220.4" r="2.05"/>
<circle cx="484.4" cy="306.7" r="2.05"/>
<circle cx="402.3" cy="292.3" r="2.05"/>
<circle cx="444.3" cy="294.2" r="2.05"/>
<circle cx="490.1" cy="268.5" r="2.05"/>
<circle cx="405.5" cy="299.9" r="2.05"/>
<circle cx="444.0" cy="288.5" r="2.05"/>
<circle cx="487.4" cy="277.7" r="2.05"/>
<circle cx="403.7" cy="296.1" r="2.05"/>
<circle cx="448.3" cy="301.8" r="2.05"/>
<circle cx="485.3" cy="282.1" r="2.05"/>
</g>
<path d="M402.00,288.29V265.05M402.00,305.55V310.85" stroke="#1d2b3d" stroke-width="1.3" fill="none"/>
<rect x="396.90" y="288.29" width="10.20" height="17.26" fill="none" stroke="#1d2632" stroke-width="1.0"/>
<path d="M396.90,300.82H407.10" stroke="#1d2632" stroke-width="1.6"/>
<path d="M445.20,292.30V274.89M445.20,307.44V312.36" stroke="#1d2b3d" stroke-width="1.3" fill="none"/>
<rect x="440.10" y="292.30" width="10.20" height="15.14" fill="none" stroke="#1d2632" stroke-width="1.0"/>
<path d="M440.10,297.98H450.30" stroke="#1d2632" stroke-width="1.6"/>
<path d="M488.40,297.98V291.54M488.40,307.82V313.50" stroke="#1d2b3d" stroke-width="1.3" fill="none"/>
<rect x="483.30" y="297.98" width="10.20" height="9.84" fill="none" stroke="#1d2632" stroke-width="1.0"/>
<path d="M483.30,305.17H493.50" stroke="#1d2632" stroke-width="1.6"/>
<path d="M386.90,206.20V324.00H504.20" fill="none" stroke="#3d3d3d" stroke-width="1.5"/>
<path d="M384.70,292.30H386.90" stroke="#3d3d3d" stroke-width="1.3"/>
<text x="382.10" y="296.80" font-size="12.3" text-anchor="end" fill="#4a4a4a" >1</text>
<path d="M384.70,254.45H386.90" stroke="#3d3d3d" stroke-width="1.3"/>
<text x="382.10" y="258.95" font-size="12.3" text-anchor="end" fill="#4a4a4a" >2</text>
<path d="M384.70,216.60H386.90" stroke="#3d3d3d" stroke-width="1.3"/>
<text x="382.10" y="221.10" font-size="12.3" text-anchor="end" fill="#4a4a4a" >3</text>
<path d="M402.00,324.00V326.20" stroke="#3d3d3d" stroke-width="1.3"/>
<text x="402.00" y="342.20" font-size="12.3" text-anchor="middle" fill="#4a4a4a" >1-2</text>
<path d="M445.20,324.00V326.20" stroke="#3d3d3d" stroke-width="1.3"/>
<text x="445.20" y="342.20" font-size="12.3" text-anchor="middle" fill="#4a4a4a" >3-4</text>
<path d="M488.40,324.00V326.20" stroke="#3d3d3d" stroke-width="1.3"/>
<text x="488.40" y="342.20" font-size="12.3" text-anchor="middle" fill="#4a4a4a" >5-6</text>
<text x="445.20" y="360.90" font-size="13.5" text-anchor="middle" fill="#4a4a4a" >Block</text>
<text transform="translate(364.80,265.70) rotate(-90)" font-size="13.5" text-anchor="middle" fill="#4a4a4a">Upper boundary</text>
<g fill="none" stroke="#4a90c8" stroke-width="0.65" stroke-opacity="0.42">
<path d="M581.7,279.7L626.0,300.7L671.9,295.0"/>
<path d="M581.7,290.6L625.0,309.8L668.8,307.2"/>
<path d="M581.8,305.4L623.8,305.7L665.6,298.2"/>
<path d="M581.7,307.2L622.4,299.6L669.2,299.4"/>
<path d="M584.7,269.7L627.2,304.9L670.3,292.0"/>
<path d="M578.9,281.5L620.6,306.6L665.3,312.7"/>
<path d="M582.0,283.3L621.4,303.3L664.4,311.4"/>
<path d="M585.7,312.3L623.3,298.5L664.0,310.8"/>
<path d="M581.5,304.8L626.3,294.2L667.5,304.3"/>
<path d="M578.2,313.2L624.7,282.8L664.1,312.0"/>
<path d="M583.4,306.6L628.4,310.7L663.9,301.9"/>
<path d="M582.0,300.4L627.4,296.4L669.0,297.1"/>
<path d="M578.4,308.8L620.9,312.3L667.4,306.8"/>
<path d="M577.5,307.9L627.5,301.6L667.9,308.1"/>
<path d="M579.8,288.7L626.9,292.2L665.3,303.1"/>
<path d="M581.5,309.7L624.7,295.3L664.4,305.6"/>
<path d="M584.0,296.5L626.3,309.0L665.2,300.6"/>
<path d="M580.8,302.3L623.0,307.4L671.6,308.5"/>
<path d="M582.8,303.6L628.4,290.2L670.1,296.1"/>
<path d="M583.9,298.4L623.0,304.1L670.8,310.1"/>
<path d="M580.0,306.0L627.4,291.2L669.6,293.0"/>
<path d="M581.5,311.4L621.8,311.5L668.7,313.3"/>
<path d="M582.5,294.5L626.2,289.2L664.1,306.4"/>
<path d="M579.2,286.9L625.1,288.2L670.8,307.7"/>
<path d="M579.1,304.2L628.0,293.2L671.9,294.0"/>
<path d="M577.9,292.6L626.5,308.2L666.9,309.5"/>
<path d="M578.3,285.1L622.2,302.5L666.6,286.5"/>
<path d="M577.3,310.5L626.3,297.5L667.4,309.0"/>
<path d="M579.1,218.1L627.8,295.5L671.8,305.9"/>
<path d="M578.8,229.9L623.0,300.7L668.7,308.5"/>
<path d="M584.1,237.1L623.5,218.7L666.0,295.5"/>
<path d="M583.6,248.5L620.4,290.2L665.0,300.7"/>
<path d="M578.1,265.2L628.0,253.4L669.3,303.3"/>
<path d="M582.1,265.2L628.4,295.5L668.8,305.9"/>
<path d="M583.2,295.5L622.3,265.7L666.0,305.9"/>
<path d="M582.4,305.9L624.0,274.6L670.4,252.6"/>
<path d="M581.0,311.2L622.7,295.5L664.9,256.5"/>
<path d="M582.0,300.7L628.2,305.9L669.5,276.1"/>
</g>
<g fill="#4292c6" fill-opacity="0.45">
<circle cx="581.7" cy="279.7" r="2.05"/>
<circle cx="626.0" cy="300.7" r="2.05"/>
<circle cx="671.9" cy="295.0" r="2.05"/>
<circle cx="581.7" cy="290.6" r="2.05"/>
<circle cx="625.0" cy="309.8" r="2.05"/>
<circle cx="668.8" cy="307.2" r="2.05"/>
<circle cx="581.8" cy="305.4" r="2.05"/>
<circle cx="623.8" cy="305.7" r="2.05"/>
<circle cx="665.6" cy="298.2" r="2.05"/>
<circle cx="581.7" cy="307.2" r="2.05"/>
<circle cx="622.4" cy="299.6" r="2.05"/>
<circle cx="669.2" cy="299.4" r="2.05"/>
<circle cx="584.7" cy="269.7" r="2.05"/>
<circle cx="627.2" cy="304.9" r="2.05"/>
<circle cx="670.3" cy="292.0" r="2.05"/>
<circle cx="578.9" cy="281.5" r="2.05"/>
<circle cx="620.6" cy="306.6" r="2.05"/>
<circle cx="665.3" cy="312.7" r="2.05"/>
<circle cx="582.0" cy="283.3" r="2.05"/>
<circle cx="621.4" cy="303.3" r="2.05"/>
<circle cx="664.4" cy="311.4" r="2.05"/>
<circle cx="585.7" cy="312.3" r="2.05"/>
<circle cx="623.3" cy="298.5" r="2.05"/>
<circle cx="664.0" cy="310.8" r="2.05"/>
<circle cx="581.5" cy="304.8" r="2.05"/>
<circle cx="626.3" cy="294.2" r="2.05"/>
<circle cx="667.5" cy="304.3" r="2.05"/>
<circle cx="578.2" cy="313.2" r="2.05"/>
<circle cx="624.7" cy="282.8" r="2.05"/>
<circle cx="664.1" cy="312.0" r="2.05"/>
<circle cx="583.4" cy="306.6" r="2.05"/>
<circle cx="628.4" cy="310.7" r="2.05"/>
<circle cx="663.9" cy="301.9" r="2.05"/>
<circle cx="582.0" cy="300.4" r="2.05"/>
<circle cx="627.4" cy="296.4" r="2.05"/>
<circle cx="669.0" cy="297.1" r="2.05"/>
<circle cx="578.4" cy="308.8" r="2.05"/>
<circle cx="620.9" cy="312.3" r="2.05"/>
<circle cx="667.4" cy="306.8" r="2.05"/>
<circle cx="577.5" cy="307.9" r="2.05"/>
<circle cx="627.5" cy="301.6" r="2.05"/>
<circle cx="667.9" cy="308.1" r="2.05"/>
<circle cx="579.8" cy="288.7" r="2.05"/>
<circle cx="626.9" cy="292.2" r="2.05"/>
<circle cx="665.3" cy="303.1" r="2.05"/>
<circle cx="581.5" cy="309.7" r="2.05"/>
<circle cx="624.7" cy="295.3" r="2.05"/>
<circle cx="664.4" cy="305.6" r="2.05"/>
<circle cx="584.0" cy="296.5" r="2.05"/>
<circle cx="626.3" cy="309.0" r="2.05"/>
<circle cx="665.2" cy="300.6" r="2.05"/>
<circle cx="580.8" cy="302.3" r="2.05"/>
<circle cx="623.0" cy="307.4" r="2.05"/>
<circle cx="671.6" cy="308.5" r="2.05"/>
<circle cx="582.8" cy="303.6" r="2.05"/>
<circle cx="628.4" cy="290.2" r="2.05"/>
<circle cx="670.1" cy="296.1" r="2.05"/>
<circle cx="583.9" cy="298.4" r="2.05"/>
<circle cx="623.0" cy="304.1" r="2.05"/>
<circle cx="670.8" cy="310.1" r="2.05"/>
<circle cx="580.0" cy="306.0" r="2.05"/>
<circle cx="627.4" cy="291.2" r="2.05"/>
<circle cx="669.6" cy="293.0" r="2.05"/>
<circle cx="581.5" cy="311.4" r="2.05"/>
<circle cx="621.8" cy="311.5" r="2.05"/>
<circle cx="668.7" cy="313.3" r="2.05"/>
<circle cx="582.5" cy="294.5" r="2.05"/>
<circle cx="626.2" cy="289.2" r="2.05"/>
<circle cx="664.1" cy="306.4" r="2.05"/>
<circle cx="579.2" cy="286.9" r="2.05"/>
<circle cx="625.1" cy="288.2" r="2.05"/>
<circle cx="670.8" cy="307.7" r="2.05"/>
<circle cx="579.1" cy="304.2" r="2.05"/>
<circle cx="628.0" cy="293.2" r="2.05"/>
<circle cx="671.9" cy="294.0" r="2.05"/>
<circle cx="577.9" cy="292.6" r="2.05"/>
<circle cx="626.5" cy="308.2" r="2.05"/>
<circle cx="666.9" cy="309.5" r="2.05"/>
<circle cx="578.3" cy="285.1" r="2.05"/>
<circle cx="622.2" cy="302.5" r="2.05"/>
<circle cx="666.6" cy="286.5" r="2.05"/>
<circle cx="577.3" cy="310.5" r="2.05"/>
<circle cx="626.3" cy="297.5" r="2.05"/>
<circle cx="667.4" cy="309.0" r="2.05"/>
<circle cx="579.1" cy="218.1" r="2.05"/>
<circle cx="627.8" cy="295.5" r="2.05"/>
<circle cx="671.8" cy="305.9" r="2.05"/>
<circle cx="578.8" cy="229.9" r="2.05"/>
<circle cx="623.0" cy="300.7" r="2.05"/>
<circle cx="668.7" cy="308.5" r="2.05"/>
<circle cx="584.1" cy="237.1" r="2.05"/>
<circle cx="623.5" cy="218.7" r="2.05"/>
<circle cx="666.0" cy="295.5" r="2.05"/>
<circle cx="583.6" cy="248.5" r="2.05"/>
<circle cx="620.4" cy="290.2" r="2.05"/>
<circle cx="665.0" cy="300.7" r="2.05"/>
<circle cx="578.1" cy="265.2" r="2.05"/>
<circle cx="628.0" cy="253.4" r="2.05"/>
<circle cx="669.3" cy="303.3" r="2.05"/>
<circle cx="582.1" cy="265.2" r="2.05"/>
<circle cx="628.4" cy="295.5" r="2.05"/>
<circle cx="668.8" cy="305.9" r="2.05"/>
<circle cx="583.2" cy="295.5" r="2.05"/>
<circle cx="622.3" cy="265.7" r="2.05"/>
<circle cx="666.0" cy="305.9" r="2.05"/>
<circle cx="582.4" cy="305.9" r="2.05"/>
<circle cx="624.0" cy="274.6" r="2.05"/>
<circle cx="670.4" cy="252.6" r="2.05"/>
<circle cx="581.0" cy="311.2" r="2.05"/>
<circle cx="622.7" cy="295.5" r="2.05"/>
<circle cx="664.9" cy="256.5" r="2.05"/>
<circle cx="582.0" cy="300.7" r="2.05"/>
<circle cx="628.2" cy="305.9" r="2.05"/>
<circle cx="669.5" cy="276.1" r="2.05"/>
</g>
<path d="M581.40,289.62V264.28M581.40,307.49V313.61" stroke="#1d2b3d" stroke-width="1.3" fill="none"/>
<rect x="576.30" y="289.62" width="10.20" height="17.87" fill="none" stroke="#1d2632" stroke-width="1.0"/>
<path d="M576.30,303.31H586.50" stroke="#1d2632" stroke-width="1.6"/>
<path d="M624.60,293.70V279.80M624.60,306.97V312.72" stroke="#1d2b3d" stroke-width="1.3" fill="none"/>
<rect x="619.50" y="293.70" width="10.20" height="13.27" fill="none" stroke="#1d2632" stroke-width="1.0"/>
<path d="M619.50,301.22H629.70" stroke="#1d2632" stroke-width="1.6"/>
<path d="M667.80,297.56V283.46M667.80,309.16V313.61" stroke="#1d2b3d" stroke-width="1.3" fill="none"/>
<rect x="662.70" y="297.56" width="10.20" height="11.60" fill="none" stroke="#1d2632" stroke-width="1.0"/>
<path d="M662.70,306.19H672.90" stroke="#1d2632" stroke-width="1.6"/>
<path d="M566.30,206.00V323.80H684.20" fill="none" stroke="#3d3d3d" stroke-width="1.5"/>
<path d="M564.10,321.60H566.30" stroke="#3d3d3d" stroke-width="1.3"/>
<text x="561.50" y="326.10" font-size="12.3" text-anchor="end" fill="#4a4a4a" >0</text>
<path d="M564.10,295.48H566.30" stroke="#3d3d3d" stroke-width="1.3"/>
<text x="561.50" y="299.98" font-size="12.3" text-anchor="end" fill="#4a4a4a" >0.5</text>
<path d="M564.10,269.35H566.30" stroke="#3d3d3d" stroke-width="1.3"/>
<text x="561.50" y="273.85" font-size="12.3" text-anchor="end" fill="#4a4a4a" >1</text>
<path d="M564.10,243.23H566.30" stroke="#3d3d3d" stroke-width="1.3"/>
<text x="561.50" y="247.73" font-size="12.3" text-anchor="end" fill="#4a4a4a" >1.5</text>
<path d="M564.10,217.10H566.30" stroke="#3d3d3d" stroke-width="1.3"/>
<text x="561.50" y="221.60" font-size="12.3" text-anchor="end" fill="#4a4a4a" >2</text>
<path d="M581.40,323.80V326.00" stroke="#3d3d3d" stroke-width="1.3"/>
<text x="581.40" y="341.90" font-size="12.3" text-anchor="middle" fill="#4a4a4a" >1-2</text>
<path d="M624.60,323.80V326.00" stroke="#3d3d3d" stroke-width="1.3"/>
<text x="624.60" y="341.90" font-size="12.3" text-anchor="middle" fill="#4a4a4a" >3-4</text>
<path d="M667.80,323.80V326.00" stroke="#3d3d3d" stroke-width="1.3"/>
<text x="667.80" y="341.90" font-size="12.3" text-anchor="middle" fill="#4a4a4a" >5-6</text>
<text x="624.60" y="360.90" font-size="13.5" text-anchor="middle" fill="#4a4a4a" >Block</text>
<text transform="translate(534.50,269.40) rotate(-90)" font-size="13.5" text-anchor="middle" fill="#4a4a4a">k</text>
<g fill="#474747" font-size="19.5"><text x="-0.4" y="382.8" transform="scale(1.06,1)">C</text><rect x="22.9" y="375.80" width="6.1" height="1.8"/><text x="35.47" y="382.8" transform="scale(1.06,1)">MCG</text></g>
<path d="M43.70,498.74 L44.59,498.50 L45.48,498.25 L46.38,497.99 L47.27,497.72 L48.16,497.43 L49.05,497.11 L49.95,496.77 L50.84,496.39 L51.73,495.97 L52.62,495.51 L53.52,495.00 L54.41,494.44 L55.30,493.83 L56.19,493.17 L57.09,492.45 L57.98,491.67 L58.87,490.83 L59.76,489.92 L60.66,488.96 L61.55,487.93 L62.44,486.83 L63.33,485.67 L64.23,484.45 L65.12,483.19 L66.01,481.87 L66.90,480.52 L67.80,479.12 L68.69,477.70 L69.58,476.25 L70.47,474.78 L71.37,473.29 L72.26,471.79 L73.15,470.28 L74.04,468.77 L74.94,467.27 L75.83,465.77 L76.72,464.29 L77.61,462.82 L78.51,461.38 L79.40,459.97 L80.29,458.59 L81.18,457.25 L82.07,455.93 L82.97,454.65 L83.86,453.40 L84.75,452.18 L85.64,451.00 L86.54,449.85 L87.43,448.74 L88.32,447.66 L89.21,446.61 L90.11,445.60 L91.00,444.63 L91.89,443.69 L92.78,442.78 L93.68,441.91 L94.57,441.08 L95.46,440.29 L96.35,439.53 L97.25,438.80 L98.14,438.12 L99.03,437.47 L99.92,436.86 L100.82,436.28 L101.71,435.75 L102.60,435.25 L103.49,434.78 L104.39,434.36 L105.28,433.98 L106.17,433.63 L107.06,433.32 L107.96,433.05 L108.85,432.82 L109.74,432.62 L110.63,432.47 L111.53,432.35 L112.42,432.27 L113.31,432.23 L114.20,432.23 L115.09,432.28 L115.99,432.35 L116.88,432.47 L117.77,432.62 L118.66,432.81 L119.56,433.03 L120.45,433.29 L121.34,433.57 L122.23,433.89 L123.13,434.24 L124.02,434.61 L124.91,435.01 L125.80,435.44 L126.70,435.89 L127.59,436.37 L128.48,436.87 L129.37,437.39 L130.27,437.93 L131.16,438.49 L132.05,439.06 L132.94,439.66 L133.84,440.27 L134.73,440.89 L135.62,441.53 L136.51,442.18 L137.41,442.84 L138.30,443.52 L139.19,444.21 L140.08,444.90 L140.98,445.61 L141.87,446.32 L142.76,447.05 L143.65,447.78 L144.55,448.51 L145.44,449.25 L146.33,449.99 L147.22,450.74 L148.12,451.49 L149.01,452.24 L149.90,452.99" fill="none" stroke="#c9e2c6" stroke-width="1.1"/>
<path d="M43.70,498.21 L44.59,497.98 L45.48,497.75 L46.38,497.49 L47.27,497.21 L48.16,496.89 L49.05,496.53 L49.95,496.11 L50.84,495.62 L51.73,495.07 L52.62,494.43 L53.52,493.71 L54.41,492.89 L55.30,492.00 L56.19,491.02 L57.09,489.96 L57.98,488.83 L58.87,487.63 L59.76,486.35 L60.66,485.01 L61.55,483.61 L62.44,482.15 L63.33,480.63 L64.23,479.05 L65.12,477.44 L66.01,475.78 L66.90,474.09 L67.80,472.36 L68.69,470.61 L69.58,468.83 L70.47,467.04 L71.37,465.23 L72.26,463.42 L73.15,461.61 L74.04,459.80 L74.94,457.99 L75.83,456.20 L76.72,454.42 L77.61,452.67 L78.51,450.94 L79.40,449.24 L80.29,447.57 L81.18,445.95 L82.07,444.36 L82.97,442.81 L83.86,441.31 L84.75,439.84 L85.64,438.43 L86.54,437.06 L87.43,435.74 L88.32,434.47 L89.21,433.26 L90.11,432.10 L91.00,430.99 L91.89,429.95 L92.78,428.96 L93.68,428.04 L94.57,427.18 L95.46,426.39 L96.35,425.66 L97.25,425.01 L98.14,424.42 L99.03,423.90 L99.92,423.45 L100.82,423.06 L101.71,422.73 L102.60,422.46 L103.49,422.25 L104.39,422.10 L105.28,422.00 L106.17,421.95 L107.06,421.96 L107.96,422.01 L108.85,422.11 L109.74,422.26 L110.63,422.45 L111.53,422.68 L112.42,422.95 L113.31,423.26 L114.20,423.61 L115.09,423.99 L115.99,424.40 L116.88,424.85 L117.77,425.32 L118.66,425.82 L119.56,426.35 L120.45,426.91 L121.34,427.49 L122.23,428.09 L123.13,428.72 L124.02,429.36 L124.91,430.03 L125.80,430.71 L126.70,431.41 L127.59,432.12 L128.48,432.84 L129.37,433.58 L130.27,434.32 L131.16,435.08 L132.05,435.84 L132.94,436.61 L133.84,437.38 L134.73,438.16 L135.62,438.95 L136.51,439.74 L137.41,440.53 L138.30,441.33 L139.19,442.13 L140.08,442.93 L140.98,443.74 L141.87,444.55 L142.76,445.36 L143.65,446.18 L144.55,447.00 L145.44,447.82 L146.33,448.64 L147.22,449.46 L148.12,450.28 L149.01,451.10 L149.90,451.93" fill="none" stroke="#69a883" stroke-width="1.1"/>
<path d="M43.70,498.21 L44.59,497.90 L45.48,497.57 L46.38,497.22 L47.27,496.85 L48.16,496.43 L49.05,495.96 L49.95,495.43 L50.84,494.82 L51.73,494.14 L52.62,493.36 L53.52,492.47 L54.41,491.49 L55.30,490.42 L56.19,489.25 L57.09,487.98 L57.98,486.63 L58.87,485.19 L59.76,483.66 L60.66,482.06 L61.55,480.37 L62.44,478.61 L63.33,476.78 L64.23,474.89 L65.12,472.94 L66.01,470.95 L66.90,468.92 L67.80,466.86 L68.69,464.78 L69.58,462.68 L70.47,460.58 L71.37,458.47 L72.26,456.37 L73.15,454.28 L74.04,452.22 L74.94,450.18 L75.83,448.18 L76.72,446.23 L77.61,444.32 L78.51,442.48 L79.40,440.70 L80.29,439.00 L81.18,437.36 L82.07,435.80 L82.97,434.31 L83.86,432.89 L84.75,431.54 L85.64,430.26 L86.54,429.04 L87.43,427.90 L88.32,426.83 L89.21,425.82 L90.11,424.89 L91.00,424.02 L91.89,423.22 L92.78,422.48 L93.68,421.82 L94.57,421.22 L95.46,420.68 L96.35,420.22 L97.25,419.82 L98.14,419.48 L99.03,419.20 L99.92,418.99 L100.82,418.84 L101.71,418.74 L102.60,418.70 L103.49,418.71 L104.39,418.77 L105.28,418.88 L106.17,419.04 L107.06,419.25 L107.96,419.50 L108.85,419.80 L109.74,420.14 L110.63,420.52 L111.53,420.95 L112.42,421.42 L113.31,421.93 L114.20,422.48 L115.09,423.07 L115.99,423.69 L116.88,424.36 L117.77,425.05 L118.66,425.78 L119.56,426.54 L120.45,427.33 L121.34,428.13 L122.23,428.97 L123.13,429.82 L124.02,430.69 L124.91,431.58 L125.80,432.48 L126.70,433.40 L127.59,434.32 L128.48,435.25 L129.37,436.19 L130.27,437.12 L131.16,438.06 L132.05,439.00 L132.94,439.94 L133.84,440.87 L134.73,441.80 L135.62,442.73 L136.51,443.65 L137.41,444.57 L138.30,445.48 L139.19,446.40 L140.08,447.31 L140.98,448.22 L141.87,449.13 L142.76,450.04 L143.65,450.94 L144.55,451.84 L145.44,452.75 L146.33,453.65 L147.22,454.55 L148.12,455.45 L149.01,456.35 L149.90,457.25" fill="none" stroke="#3b7552" stroke-width="1.1"/>
<path d="M43.70,495.11V501.31M40.10,495.11H47.30M40.10,501.31H47.30" stroke="#a6dba0" stroke-width="1.1" fill="none"/>
<rect x="40.50" y="495.01" width="6.4" height="6.4" rx="1.3" fill="#a6dba0"/>
<path d="M61.40,487.88V494.08M57.80,487.88H65.00M57.80,494.08H65.00" stroke="#a6dba0" stroke-width="1.1" fill="none"/>
<rect x="58.20" y="487.78" width="6.4" height="6.4" rx="1.3" fill="#a6dba0"/>
<path d="M79.10,464.26V470.46M75.50,464.26H82.70M75.50,470.46H82.70" stroke="#a6dba0" stroke-width="1.1" fill="none"/>
<rect x="75.90" y="464.16" width="6.4" height="6.4" rx="1.3" fill="#a6dba0"/>
<path d="M96.80,434.46V440.66M93.20,434.46H100.40M93.20,440.66H100.40" stroke="#a6dba0" stroke-width="1.1" fill="none"/>
<rect x="93.60" y="434.36" width="6.4" height="6.4" rx="1.3" fill="#a6dba0"/>
<path d="M114.50,427.55V433.75M110.90,427.55H118.10M110.90,433.75H118.10" stroke="#a6dba0" stroke-width="1.1" fill="none"/>
<rect x="111.30" y="427.45" width="6.4" height="6.4" rx="1.3" fill="#a6dba0"/>
<path d="M132.20,433.93V440.13M128.60,433.93H135.80M128.60,440.13H135.80" stroke="#a6dba0" stroke-width="1.1" fill="none"/>
<rect x="129.00" y="433.83" width="6.4" height="6.4" rx="1.3" fill="#a6dba0"/>
<path d="M149.90,449.89V456.09M146.30,449.89H153.50M146.30,456.09H153.50" stroke="#a6dba0" stroke-width="1.1" fill="none"/>
<rect x="146.70" y="449.79" width="6.4" height="6.4" rx="1.3" fill="#a6dba0"/>
<path d="M43.70,495.11V501.31M40.10,495.11H47.30M40.10,501.31H47.30" stroke="#3fa65a" stroke-width="1.1" fill="none"/>
<rect x="40.50" y="495.01" width="6.4" height="6.4" rx="3.2" fill="#3fa65a"/>
<path d="M61.40,483.41V489.61M57.80,483.41H65.00M57.80,489.61H65.00" stroke="#3fa65a" stroke-width="1.1" fill="none"/>
<rect x="58.20" y="483.31" width="6.4" height="6.4" rx="3.2" fill="#3fa65a"/>
<path d="M79.10,449.89V456.09M75.50,449.89H82.70M75.50,456.09H82.70" stroke="#3fa65a" stroke-width="1.1" fill="none"/>
<rect x="75.90" y="449.79" width="6.4" height="6.4" rx="3.2" fill="#3fa65a"/>
<path d="M96.80,422.23V428.43M93.20,422.23H100.40M93.20,428.43H100.40" stroke="#3fa65a" stroke-width="1.1" fill="none"/>
<rect x="93.60" y="422.13" width="6.4" height="6.4" rx="3.2" fill="#3fa65a"/>
<path d="M114.50,420.10V426.30M110.90,420.10H118.10M110.90,426.30H118.10" stroke="#3fa65a" stroke-width="1.1" fill="none"/>
<rect x="111.30" y="420.00" width="6.4" height="6.4" rx="3.2" fill="#3fa65a"/>
<path d="M132.20,432.12V438.32M128.60,432.12H135.80M128.60,438.32H135.80" stroke="#3fa65a" stroke-width="1.1" fill="none"/>
<rect x="129.00" y="432.02" width="6.4" height="6.4" rx="3.2" fill="#3fa65a"/>
<path d="M149.90,446.91V453.11M146.30,446.91H153.50M146.30,453.11H153.50" stroke="#3fa65a" stroke-width="1.1" fill="none"/>
<rect x="146.70" y="446.81" width="6.4" height="6.4" rx="3.2" fill="#3fa65a"/>
<path d="M43.70,494.90V501.10M40.10,494.90H47.30M40.10,501.10H47.30" stroke="#00712f" stroke-width="1.1" fill="none"/>
<rect x="40.50" y="494.80" width="6.4" height="6.4" rx="2.7" fill="#00712f"/>
<path d="M61.40,477.34V483.54M57.80,477.34H65.00M57.80,483.54H65.00" stroke="#00712f" stroke-width="1.1" fill="none"/>
<rect x="58.20" y="477.24" width="6.4" height="6.4" rx="2.7" fill="#00712f"/>
<path d="M79.10,437.12V443.32M75.50,437.12H82.70M75.50,443.32H82.70" stroke="#00712f" stroke-width="1.1" fill="none"/>
<rect x="75.90" y="437.02" width="6.4" height="6.4" rx="2.7" fill="#00712f"/>
<path d="M96.80,415.84V422.04M93.20,415.84H100.40M93.20,422.04H100.40" stroke="#00712f" stroke-width="1.1" fill="none"/>
<rect x="93.60" y="415.74" width="6.4" height="6.4" rx="2.7" fill="#00712f"/>
<path d="M114.50,419.67V425.87M110.90,419.67H118.10M110.90,425.87H118.10" stroke="#00712f" stroke-width="1.1" fill="none"/>
<rect x="111.30" y="419.57" width="6.4" height="6.4" rx="2.7" fill="#00712f"/>
<path d="M132.20,436.59V442.79M128.60,436.59H135.80M128.60,442.79H135.80" stroke="#00712f" stroke-width="1.1" fill="none"/>
<rect x="129.00" y="436.49" width="6.4" height="6.4" rx="2.7" fill="#00712f"/>
<path d="M149.90,454.47V460.67M146.30,454.47H153.50M146.30,460.67H153.50" stroke="#00712f" stroke-width="1.1" fill="none"/>
<rect x="146.70" y="454.37" width="6.4" height="6.4" rx="2.7" fill="#00712f"/>
<path d="M38.60,390.20V508.00H156.20" fill="none" stroke="#3d3d3d" stroke-width="1.5"/>
<path d="M36.40,503.00H38.60" stroke="#3d3d3d" stroke-width="1.3"/>
<text x="33.80" y="507.50" font-size="12.3" text-anchor="end" fill="#4a4a4a" >0</text>
<path d="M36.40,449.80H38.60" stroke="#3d3d3d" stroke-width="1.3"/>
<text x="33.80" y="454.30" font-size="12.3" text-anchor="end" fill="#4a4a4a" >0.5</text>
<path d="M36.40,396.60H38.60" stroke="#3d3d3d" stroke-width="1.3"/>
<text x="33.80" y="401.10" font-size="12.3" text-anchor="end" fill="#4a4a4a" >1</text>
<path d="M61.40,508.00V510.20" stroke="#3d3d3d" stroke-width="1.3"/>
<text x="61.40" y="525.10" font-size="12.3" text-anchor="middle" fill="#4a4a4a" >0.2</text>
<path d="M96.80,508.00V510.20" stroke="#3d3d3d" stroke-width="1.3"/>
<text x="96.80" y="525.10" font-size="12.3" text-anchor="middle" fill="#4a4a4a" >0.4</text>
<path d="M132.20,508.00V510.20" stroke="#3d3d3d" stroke-width="1.3"/>
<text x="132.20" y="525.10" font-size="12.3" text-anchor="middle" fill="#4a4a4a" >0.6</text>
<text x="97.40" y="542.80" font-size="13.5" text-anchor="middle" fill="#4a4a4a" >Duration (s)</text>
<text transform="translate(9.80,450.00) rotate(-90)" font-size="13.5" text-anchor="middle" fill="#4a4a4a">P(&quot;Same&quot;)</text>
<g fill="none" stroke="#4a90c8" stroke-width="0.65" stroke-opacity="0.42">
<path d="M229.8,495.7L272.5,496.0L315.8,483.2"/>
<path d="M236.2,487.2L274.3,494.5L318.4,492.7"/>
<path d="M234.6,488.1L278.1,484.8L320.5,490.9"/>
<path d="M235.8,496.0L275.9,487.8L315.9,493.9"/>
<path d="M233.4,490.5L275.2,484.0L321.6,491.5"/>
<path d="M230.2,490.1L277.1,493.9L314.6,490.2"/>
<path d="M231.4,486.3L274.3,489.9L315.3,480.8"/>
<path d="M235.2,484.5L278.4,482.4L316.7,485.6"/>
<path d="M234.2,492.0L279.1,493.3L319.5,495.3"/>
<path d="M231.3,491.5L277.2,492.1L317.9,493.3"/>
<path d="M233.0,492.5L277.0,496.6L317.0,489.0"/>
<path d="M233.8,493.5L275.7,496.3L319.6,496.1"/>
<path d="M230.6,488.7L277.7,488.9L315.8,489.8"/>
<path d="M232.2,493.0L275.9,490.9L314.6,488.0"/>
<path d="M235.0,489.1L276.1,486.4L315.2,489.4"/>
<path d="M235.4,496.6L277.4,492.7L322.4,496.3"/>
<path d="M234.0,485.4L275.6,487.2L321.3,490.5"/>
<path d="M231.2,496.3L275.0,488.3L317.6,495.6"/>
<path d="M230.9,494.6L279.4,495.0L318.9,494.5"/>
<path d="M232.5,491.0L274.6,490.4L317.3,482.0"/>
<path d="M230.1,489.6L279.5,495.4L320.8,492.1"/>
<path d="M232.2,483.7L276.4,483.2L321.7,484.4"/>
<path d="M231.3,495.4L273.7,491.5L318.6,488.6"/>
<path d="M232.1,495.0L278.4,496.9L322.2,495.8"/>
<path d="M235.5,496.9L277.3,495.7L319.0,495.0"/>
<path d="M229.6,482.8L279.3,485.6L321.8,486.8"/>
<path d="M232.6,494.1L277.8,489.4L322.2,496.6"/>
<path d="M231.4,437.4L276.2,491.5L322.7,493.2"/>
<path d="M234.9,443.0L272.6,489.7L322.7,491.5"/>
<path d="M232.8,466.5L271.7,487.9L319.5,495.0"/>
<path d="M234.2,471.5L277.5,484.4L319.8,491.5"/>
<path d="M229.6,473.9L271.6,470.0L319.8,487.9"/>
<path d="M228.9,487.9L278.6,429.3L321.8,445.5"/>
<path d="M236.1,489.7L274.4,470.4L319.8,489.7"/>
<path d="M236.4,491.5L272.2,489.7L322.3,413.9"/>
<path d="M230.5,493.2L279.2,487.9L317.9,464.8"/>
<path d="M229.2,489.7L271.9,491.5L320.3,464.8"/>
<path d="M236.0,487.9L274.9,480.9L322.6,464.1"/>
</g>
<g fill="#4292c6" fill-opacity="0.45">
<circle cx="229.8" cy="495.7" r="2.05"/>
<circle cx="272.5" cy="496.0" r="2.05"/>
<circle cx="315.8" cy="483.2" r="2.05"/>
<circle cx="236.2" cy="487.2" r="2.05"/>
<circle cx="274.3" cy="494.5" r="2.05"/>
<circle cx="318.4" cy="492.7" r="2.05"/>
<circle cx="234.6" cy="488.1" r="2.05"/>
<circle cx="278.1" cy="484.8" r="2.05"/>
<circle cx="320.5" cy="490.9" r="2.05"/>
<circle cx="235.8" cy="496.0" r="2.05"/>
<circle cx="275.9" cy="487.8" r="2.05"/>
<circle cx="315.9" cy="493.9" r="2.05"/>
<circle cx="233.4" cy="490.5" r="2.05"/>
<circle cx="275.2" cy="484.0" r="2.05"/>
<circle cx="321.6" cy="491.5" r="2.05"/>
<circle cx="230.2" cy="490.1" r="2.05"/>
<circle cx="277.1" cy="493.9" r="2.05"/>
<circle cx="314.6" cy="490.2" r="2.05"/>
<circle cx="231.4" cy="486.3" r="2.05"/>
<circle cx="274.3" cy="489.9" r="2.05"/>
<circle cx="315.3" cy="480.8" r="2.05"/>
<circle cx="235.2" cy="484.5" r="2.05"/>
<circle cx="278.4" cy="482.4" r="2.05"/>
<circle cx="316.7" cy="485.6" r="2.05"/>
<circle cx="234.2" cy="492.0" r="2.05"/>
<circle cx="279.1" cy="493.3" r="2.05"/>
<circle cx="319.5" cy="495.3" r="2.05"/>
<circle cx="231.3" cy="491.5" r="2.05"/>
<circle cx="277.2" cy="492.1" r="2.05"/>
<circle cx="317.9" cy="493.3" r="2.05"/>
<circle cx="233.0" cy="492.5" r="2.05"/>
<circle cx="277.0" cy="496.6" r="2.05"/>
<circle cx="317.0" cy="489.0" r="2.05"/>
<circle cx="233.8" cy="493.5" r="2.05"/>
<circle cx="275.7" cy="496.3" r="2.05"/>
<circle cx="319.6" cy="496.1" r="2.05"/>
<circle cx="230.6" cy="488.7" r="2.05"/>
<circle cx="277.7" cy="488.9" r="2.05"/>
<circle cx="315.8" cy="489.8" r="2.05"/>
<circle cx="232.2" cy="493.0" r="2.05"/>
<circle cx="275.9" cy="490.9" r="2.05"/>
<circle cx="314.6" cy="488.0" r="2.05"/>
<circle cx="235.0" cy="489.1" r="2.05"/>
<circle cx="276.1" cy="486.4" r="2.05"/>
<circle cx="315.2" cy="489.4" r="2.05"/>
<circle cx="235.4" cy="496.6" r="2.05"/>
<circle cx="277.4" cy="492.7" r="2.05"/>
<circle cx="322.4" cy="496.3" r="2.05"/>
<circle cx="234.0" cy="485.4" r="2.05"/>
<circle cx="275.6" cy="487.2" r="2.05"/>
<circle cx="321.3" cy="490.5" r="2.05"/>
<circle cx="231.2" cy="496.3" r="2.05"/>
<circle cx="275.0" cy="488.3" r="2.05"/>
<circle cx="317.6" cy="495.6" r="2.05"/>
<circle cx="230.9" cy="494.6" r="2.05"/>
<circle cx="279.4" cy="495.0" r="2.05"/>
<circle cx="318.9" cy="494.5" r="2.05"/>
<circle cx="232.5" cy="491.0" r="2.05"/>
<circle cx="274.6" cy="490.4" r="2.05"/>
<circle cx="317.3" cy="482.0" r="2.05"/>
<circle cx="230.1" cy="489.6" r="2.05"/>
<circle cx="279.5" cy="495.4" r="2.05"/>
<circle cx="320.8" cy="492.1" r="2.05"/>
<circle cx="232.2" cy="483.7" r="2.05"/>
<circle cx="276.4" cy="483.2" r="2.05"/>
<circle cx="321.7" cy="484.4" r="2.05"/>
<circle cx="231.3" cy="495.4" r="2.05"/>
<circle cx="273.7" cy="491.5" r="2.05"/>
<circle cx="318.6" cy="488.6" r="2.05"/>
<circle cx="232.1" cy="495.0" r="2.05"/>
<circle cx="278.4" cy="496.9" r="2.05"/>
<circle cx="322.2" cy="495.8" r="2.05"/>
<circle cx="235.5" cy="496.9" r="2.05"/>
<circle cx="277.3" cy="495.7" r="2.05"/>
<circle cx="319.0" cy="495.0" r="2.05"/>
<circle cx="229.6" cy="482.8" r="2.05"/>
<circle cx="279.3" cy="485.6" r="2.05"/>
<circle cx="321.8" cy="486.8" r="2.05"/>
<circle cx="232.6" cy="494.1" r="2.05"/>
<circle cx="277.8" cy="489.4" r="2.05"/>
<circle cx="322.2" cy="496.6" r="2.05"/>
<circle cx="231.4" cy="437.4" r="2.05"/>
<circle cx="276.2" cy="491.5" r="2.05"/>
<circle cx="322.7" cy="493.2" r="2.05"/>
<circle cx="234.9" cy="443.0" r="2.05"/>
<circle cx="272.6" cy="489.7" r="2.05"/>
<circle cx="322.7" cy="491.5" r="2.05"/>
<circle cx="232.8" cy="466.5" r="2.05"/>
<circle cx="271.7" cy="487.9" r="2.05"/>
<circle cx="319.5" cy="495.0" r="2.05"/>
<circle cx="234.2" cy="471.5" r="2.05"/>
<circle cx="277.5" cy="484.4" r="2.05"/>
<circle cx="319.8" cy="491.5" r="2.05"/>
<circle cx="229.6" cy="473.9" r="2.05"/>
<circle cx="271.6" cy="470.0" r="2.05"/>
<circle cx="319.8" cy="487.9" r="2.05"/>
<circle cx="228.9" cy="487.9" r="2.05"/>
<circle cx="278.6" cy="429.3" r="2.05"/>
<circle cx="321.8" cy="445.5" r="2.05"/>
<circle cx="236.1" cy="489.7" r="2.05"/>
<circle cx="274.4" cy="470.4" r="2.05"/>
<circle cx="319.8" cy="489.7" r="2.05"/>
<circle cx="236.4" cy="491.5" r="2.05"/>
<circle cx="272.2" cy="489.7" r="2.05"/>
<circle cx="322.3" cy="413.9" r="2.05"/>
<circle cx="230.5" cy="493.2" r="2.05"/>
<circle cx="279.2" cy="487.9" r="2.05"/>
<circle cx="317.9" cy="464.8" r="2.05"/>
<circle cx="229.2" cy="489.7" r="2.05"/>
<circle cx="271.9" cy="491.5" r="2.05"/>
<circle cx="320.3" cy="464.8" r="2.05"/>
<circle cx="236.0" cy="487.9" r="2.05"/>
<circle cx="274.9" cy="480.9" r="2.05"/>
<circle cx="322.6" cy="464.1" r="2.05"/>
</g>
<path d="M232.40,488.30V482.33M232.40,494.97V497.08" stroke="#1d2b3d" stroke-width="1.3" fill="none"/>
<rect x="227.30" y="488.30" width="10.20" height="6.67" fill="none" stroke="#1d2632" stroke-width="1.0"/>
<path d="M227.30,491.46H237.50" stroke="#1d2632" stroke-width="1.6"/>
<path d="M275.60,487.42V481.98M275.60,494.97V497.08" stroke="#1d2b3d" stroke-width="1.3" fill="none"/>
<rect x="270.50" y="487.42" width="10.20" height="7.55" fill="none" stroke="#1d2632" stroke-width="1.0"/>
<path d="M270.50,490.93H280.70" stroke="#1d2632" stroke-width="1.6"/>
<path d="M318.80,488.30V480.23M318.80,494.97V496.73" stroke="#1d2b3d" stroke-width="1.3" fill="none"/>
<rect x="313.70" y="488.30" width="10.20" height="6.67" fill="none" stroke="#1d2632" stroke-width="1.0"/>
<path d="M313.70,490.93H323.90" stroke="#1d2632" stroke-width="1.6"/>
<path d="M217.30,390.10V507.90H335.00" fill="none" stroke="#3d3d3d" stroke-width="1.5"/>
<path d="M215.10,505.50H217.30" stroke="#3d3d3d" stroke-width="1.3"/>
<text x="212.50" y="510.00" font-size="12.3" text-anchor="end" fill="#4a4a4a" >0</text>
<path d="M215.10,470.40H217.30" stroke="#3d3d3d" stroke-width="1.3"/>
<text x="212.50" y="474.90" font-size="12.3" text-anchor="end" fill="#4a4a4a" >1</text>
<path d="M215.10,435.30H217.30" stroke="#3d3d3d" stroke-width="1.3"/>
<text x="212.50" y="439.80" font-size="12.3" text-anchor="end" fill="#4a4a4a" >2</text>
<path d="M215.10,400.20H217.30" stroke="#3d3d3d" stroke-width="1.3"/>
<text x="212.50" y="404.70" font-size="12.3" text-anchor="end" fill="#4a4a4a" >3</text>
<path d="M232.40,507.90V510.10" stroke="#3d3d3d" stroke-width="1.3"/>
<text x="232.40" y="526.00" font-size="12.3" text-anchor="middle" fill="#4a4a4a" >1-2</text>
<path d="M275.60,507.90V510.10" stroke="#3d3d3d" stroke-width="1.3"/>
<text x="275.60" y="526.00" font-size="12.3" text-anchor="middle" fill="#4a4a4a" >3-4</text>
<path d="M318.80,507.90V510.10" stroke="#3d3d3d" stroke-width="1.3"/>
<text x="318.80" y="526.00" font-size="12.3" text-anchor="middle" fill="#4a4a4a" >5-6</text>
<text x="275.60" y="544.40" font-size="13.5" text-anchor="middle" fill="#4a4a4a" >Block</text>
<text transform="translate(197.00,444.10) rotate(-90)" font-size="13.5" text-anchor="middle" fill="#4a4a4a">B</text>
<g fill="none" stroke="#4a90c8" stroke-width="0.65" stroke-opacity="0.42">
<path d="M401.1,497.9L443.9,497.9L489.3,497.9"/>
<path d="M399.2,487.4L442.1,487.9L492.6,483.1"/>
<path d="M402.0,490.1L445.3,492.5L486.7,497.9"/>
<path d="M398.1,497.9L441.5,497.9L484.6,496.9"/>
<path d="M403.7,489.0L447.6,497.9L492.3,497.9"/>
<path d="M406.1,482.4L442.2,495.1L484.2,497.9"/>
<path d="M403.6,493.0L443.4,491.6L492.0,481.4"/>
<path d="M401.9,497.9L444.7,493.4L487.7,497.9"/>
<path d="M400.3,497.9L445.8,497.9L485.7,497.9"/>
<path d="M406.1,484.1L447.8,490.7L491.4,497.9"/>
<path d="M405.8,497.9L446.8,497.9L491.9,472.7"/>
<path d="M404.1,497.9L445.0,497.9L484.3,497.9"/>
<path d="M402.1,497.4L445.5,497.9L490.4,497.6"/>
<path d="M405.2,496.7L446.3,497.9L484.8,485.0"/>
<path d="M398.5,495.9L448.4,497.9L491.7,489.0"/>
<path d="M401.1,497.9L441.5,497.9L485.0,491.0"/>
<path d="M398.7,492.1L448.8,497.9L487.6,487.0"/>
<path d="M401.7,480.8L447.9,488.8L486.2,497.9"/>
<path d="M402.3,497.9L445.9,489.8L487.7,477.9"/>
<path d="M398.7,497.9L444.5,497.7L485.1,497.9"/>
<path d="M400.4,495.0L444.3,497.9L485.7,493.0"/>
<path d="M406.3,497.9L446.8,497.2L492.1,476.2"/>
<path d="M405.7,494.0L443.4,494.1L485.3,497.9"/>
<path d="M406.2,497.9L445.3,494.6L489.9,497.9"/>
<path d="M405.2,485.7L443.8,496.7L489.2,479.6"/>
<path d="M400.3,479.2L442.8,496.2L484.4,494.9"/>
<path d="M399.7,491.1L443.0,495.7L490.5,474.4"/>
<path d="M403.9,430.4L447.5,484.9L486.6,497.9"/>
<path d="M399.5,488.1L448.6,402.1L491.0,412.2"/>
<path d="M404.2,497.9L444.2,484.9L489.5,425.9"/>
<path d="M405.7,474.8L442.5,497.9L490.3,491.4"/>
<path d="M401.1,477.0L442.0,468.2L489.5,497.9"/>
<path d="M402.9,481.6L445.6,476.1L488.1,491.4"/>
<path d="M401.7,484.9L447.0,476.1L485.8,481.6"/>
<path d="M402.5,485.8L449.4,497.9L484.2,462.0"/>
<path d="M403.9,497.9L443.9,488.1L488.3,465.3"/>
<path d="M400.1,491.4L444.9,497.9L488.4,468.6"/>
<path d="M405.6,497.9L448.4,497.9L492.1,475.1"/>
</g>
<g fill="#4292c6" fill-opacity="0.45">
<circle cx="401.1" cy="497.9" r="2.05"/>
<circle cx="443.9" cy="497.9" r="2.05"/>
<circle cx="489.3" cy="497.9" r="2.05"/>
<circle cx="399.2" cy="487.4" r="2.05"/>
<circle cx="442.1" cy="487.9" r="2.05"/>
<circle cx="492.6" cy="483.1" r="2.05"/>
<circle cx="402.0" cy="490.1" r="2.05"/>
<circle cx="445.3" cy="492.5" r="2.05"/>
<circle cx="486.7" cy="497.9" r="2.05"/>
<circle cx="398.1" cy="497.9" r="2.05"/>
<circle cx="441.5" cy="497.9" r="2.05"/>
<circle cx="484.6" cy="496.9" r="2.05"/>
<circle cx="403.7" cy="489.0" r="2.05"/>
<circle cx="447.6" cy="497.9" r="2.05"/>
<circle cx="492.3" cy="497.9" r="2.05"/>
<circle cx="406.1" cy="482.4" r="2.05"/>
<circle cx="442.2" cy="495.1" r="2.05"/>
<circle cx="484.2" cy="497.9" r="2.05"/>
<circle cx="403.6" cy="493.0" r="2.05"/>
<circle cx="443.4" cy="491.6" r="2.05"/>
<circle cx="492.0" cy="481.4" r="2.05"/>
<circle cx="401.9" cy="497.9" r="2.05"/>
<circle cx="444.7" cy="493.4" r="2.05"/>
<circle cx="487.7" cy="497.9" r="2.05"/>
<circle cx="400.3" cy="497.9" r="2.05"/>
<circle cx="445.8" cy="497.9" r="2.05"/>
<circle cx="485.7" cy="497.9" r="2.05"/>
<circle cx="406.1" cy="484.1" r="2.05"/>
<circle cx="447.8" cy="490.7" r="2.05"/>
<circle cx="491.4" cy="497.9" r="2.05"/>
<circle cx="405.8" cy="497.9" r="2.05"/>
<circle cx="446.8" cy="497.9" r="2.05"/>
<circle cx="491.9" cy="472.7" r="2.05"/>
<circle cx="404.1" cy="497.9" r="2.05"/>
<circle cx="445.0" cy="497.9" r="2.05"/>
<circle cx="484.3" cy="497.9" r="2.05"/>
<circle cx="402.1" cy="497.4" r="2.05"/>
<circle cx="445.5" cy="497.9" r="2.05"/>
<circle cx="490.4" cy="497.6" r="2.05"/>
<circle cx="405.2" cy="496.7" r="2.05"/>
<circle cx="446.3" cy="497.9" r="2.05"/>
<circle cx="484.8" cy="485.0" r="2.05"/>
<circle cx="398.5" cy="495.9" r="2.05"/>
<circle cx="448.4" cy="497.9" r="2.05"/>
<circle cx="491.7" cy="489.0" r="2.05"/>
<circle cx="401.1" cy="497.9" r="2.05"/>
<circle cx="441.5" cy="497.9" r="2.05"/>
<circle cx="485.0" cy="491.0" r="2.05"/>
<circle cx="398.7" cy="492.1" r="2.05"/>
<circle cx="448.8" cy="497.9" r="2.05"/>
<circle cx="487.6" cy="487.0" r="2.05"/>
<circle cx="401.7" cy="480.8" r="2.05"/>
<circle cx="447.9" cy="488.8" r="2.05"/>
<circle cx="486.2" cy="497.9" r="2.05"/>
<circle cx="402.3" cy="497.9" r="2.05"/>
<circle cx="445.9" cy="489.8" r="2.05"/>
<circle cx="487.7" cy="477.9" r="2.05"/>
<circle cx="398.7" cy="497.9" r="2.05"/>
<circle cx="444.5" cy="497.7" r="2.05"/>
<circle cx="485.1" cy="497.9" r="2.05"/>
<circle cx="400.4" cy="495.0" r="2.05"/>
<circle cx="444.3" cy="497.9" r="2.05"/>
<circle cx="485.7" cy="493.0" r="2.05"/>
<circle cx="406.3" cy="497.9" r="2.05"/>
<circle cx="446.8" cy="497.2" r="2.05"/>
<circle cx="492.1" cy="476.2" r="2.05"/>
<circle cx="405.7" cy="494.0" r="2.05"/>
<circle cx="443.4" cy="494.1" r="2.05"/>
<circle cx="485.3" cy="497.9" r="2.05"/>
<circle cx="406.2" cy="497.9" r="2.05"/>
<circle cx="445.3" cy="494.6" r="2.05"/>
<circle cx="489.9" cy="497.9" r="2.05"/>
<circle cx="405.2" cy="485.7" r="2.05"/>
<circle cx="443.8" cy="496.7" r="2.05"/>
<circle cx="489.2" cy="479.6" r="2.05"/>
<circle cx="400.3" cy="479.2" r="2.05"/>
<circle cx="442.8" cy="496.2" r="2.05"/>
<circle cx="484.4" cy="494.9" r="2.05"/>
<circle cx="399.7" cy="491.1" r="2.05"/>
<circle cx="443.0" cy="495.7" r="2.05"/>
<circle cx="490.5" cy="474.4" r="2.05"/>
<circle cx="403.9" cy="430.4" r="2.05"/>
<circle cx="447.5" cy="484.9" r="2.05"/>
<circle cx="486.6" cy="497.9" r="2.05"/>
<circle cx="399.5" cy="488.1" r="2.05"/>
<circle cx="448.6" cy="402.1" r="2.05"/>
<circle cx="491.0" cy="412.2" r="2.05"/>
<circle cx="404.2" cy="497.9" r="2.05"/>
<circle cx="444.2" cy="484.9" r="2.05"/>
<circle cx="489.5" cy="425.9" r="2.05"/>
<circle cx="405.7" cy="474.8" r="2.05"/>
<circle cx="442.5" cy="497.9" r="2.05"/>
<circle cx="490.3" cy="491.4" r="2.05"/>
<circle cx="401.1" cy="477.0" r="2.05"/>
<circle cx="442.0" cy="468.2" r="2.05"/>
<circle cx="489.5" cy="497.9" r="2.05"/>
<circle cx="402.9" cy="481.6" r="2.05"/>
<circle cx="445.6" cy="476.1" r="2.05"/>
<circle cx="488.1" cy="491.4" r="2.05"/>
<circle cx="401.7" cy="484.9" r="2.05"/>
<circle cx="447.0" cy="476.1" r="2.05"/>
<circle cx="485.8" cy="481.6" r="2.05"/>
<circle cx="402.5" cy="485.8" r="2.05"/>
<circle cx="449.4" cy="497.9" r="2.05"/>
<circle cx="484.2" cy="462.0" r="2.05"/>
<circle cx="403.9" cy="497.9" r="2.05"/>
<circle cx="443.9" cy="488.1" r="2.05"/>
<circle cx="488.3" cy="465.3" r="2.05"/>
<circle cx="400.1" cy="491.4" r="2.05"/>
<circle cx="444.9" cy="497.9" r="2.05"/>
<circle cx="488.4" cy="468.6" r="2.05"/>
<circle cx="405.6" cy="497.9" r="2.05"/>
<circle cx="448.4" cy="497.9" r="2.05"/>
<circle cx="492.1" cy="475.1" r="2.05"/>
</g>
<path d="M402.00,489.42V477.04M402.00,497.90V497.90" stroke="#1d2b3d" stroke-width="1.3" fill="none"/>
<rect x="396.90" y="489.42" width="10.20" height="8.48" fill="none" stroke="#1d2632" stroke-width="1.0"/>
<path d="M396.90,495.94H407.10" stroke="#1d2632" stroke-width="1.6"/>
<path d="M445.20,493.66V487.47M445.20,497.90V497.90" stroke="#1d2b3d" stroke-width="1.3" fill="none"/>
<rect x="440.10" y="493.66" width="10.20" height="4.24" fill="none" stroke="#1d2632" stroke-width="1.0"/>
<path d="M440.10,497.25H450.30" stroke="#1d2632" stroke-width="1.6"/>
<path d="M488.40,483.56V462.69M488.40,497.90V497.90" stroke="#1d2b3d" stroke-width="1.3" fill="none"/>
<rect x="483.30" y="483.56" width="10.20" height="14.34" fill="none" stroke="#1d2632" stroke-width="1.0"/>
<path d="M483.30,496.92H493.50" stroke="#1d2632" stroke-width="1.6"/>
<path d="M386.90,390.20V508.00H504.20" fill="none" stroke="#3d3d3d" stroke-width="1.5"/>
<path d="M384.70,497.90H386.90" stroke="#3d3d3d" stroke-width="1.3"/>
<text x="382.10" y="502.40" font-size="12.3" text-anchor="end" fill="#4a4a4a" >0</text>
<path d="M384.70,465.30H386.90" stroke="#3d3d3d" stroke-width="1.3"/>
<text x="382.10" y="469.80" font-size="12.3" text-anchor="end" fill="#4a4a4a" >1</text>
<path d="M384.70,432.70H386.90" stroke="#3d3d3d" stroke-width="1.3"/>
<text x="382.10" y="437.20" font-size="12.3" text-anchor="end" fill="#4a4a4a" >2</text>
<path d="M384.70,400.10H386.90" stroke="#3d3d3d" stroke-width="1.3"/>
<text x="382.10" y="404.60" font-size="12.3" text-anchor="end" fill="#4a4a4a" >3</text>
<path d="M402.00,508.00V510.20" stroke="#3d3d3d" stroke-width="1.3"/>
<text x="402.00" y="525.80" font-size="12.3" text-anchor="middle" fill="#4a4a4a" >1-2</text>
<path d="M445.20,508.00V510.20" stroke="#3d3d3d" stroke-width="1.3"/>
<text x="445.20" y="525.80" font-size="12.3" text-anchor="middle" fill="#4a4a4a" >3-4</text>
<path d="M488.40,508.00V510.20" stroke="#3d3d3d" stroke-width="1.3"/>
<text x="488.40" y="525.80" font-size="12.3" text-anchor="middle" fill="#4a4a4a" >5-6</text>
<text x="445.20" y="543.90" font-size="13.5" text-anchor="middle" fill="#4a4a4a" >Block</text>
<text transform="translate(365.70,449.70) rotate(-90)" font-size="13.5" text-anchor="middle" fill="#4a4a4a">&#963;<tspan font-size="9" dy="3">B</tspan></text>
<g fill="none" stroke="#4a90c8" stroke-width="0.65" stroke-opacity="0.42">
<path d="M585.6,477.2L626.0,477.8L669.3,482.9"/>
<path d="M582.1,469.2L624.6,471.1L665.2,482.4"/>
<path d="M578.0,497.9L622.5,497.9L663.7,481.9"/>
<path d="M582.5,494.6L621.9,476.4L671.4,489.2"/>
<path d="M578.0,474.2L623.1,475.7L670.9,485.9"/>
<path d="M582.4,492.4L623.9,483.5L669.8,497.9"/>
<path d="M580.5,497.9L621.6,497.9L671.9,497.9"/>
<path d="M584.6,473.2L626.6,473.6L665.9,481.5"/>
<path d="M581.5,468.1L621.1,465.2L663.8,476.6"/>
<path d="M585.2,460.8L623.9,469.9L665.4,478.6"/>
<path d="M583.9,490.4L624.8,480.6L669.2,492.5"/>
<path d="M578.0,472.2L624.1,472.9L667.0,494.2"/>
<path d="M579.6,496.7L621.8,485.4L671.0,487.6"/>
<path d="M583.5,471.2L625.1,474.3L665.8,481.0"/>
<path d="M582.6,497.9L623.8,496.4L663.5,497.9"/>
<path d="M582.5,487.1L626.0,487.7L671.8,490.9"/>
<path d="M584.2,466.9L621.0,462.8L666.2,473.5"/>
<path d="M577.5,459.6L620.9,478.8L667.5,479.6"/>
<path d="M578.9,464.5L620.8,466.4L668.9,472.5"/>
<path d="M585.0,497.9L627.4,497.9L664.0,497.9"/>
<path d="M579.7,497.9L620.6,490.6L667.1,497.9"/>
<path d="M585.1,483.8L622.0,482.5L669.8,483.3"/>
<path d="M581.4,475.2L624.8,472.2L670.7,483.8"/>
<path d="M579.8,476.2L623.1,484.4L669.8,497.5"/>
<path d="M578.3,462.0L621.2,475.0L667.0,477.6"/>
<path d="M580.5,485.4L622.9,481.6L665.7,497.9"/>
<path d="M584.7,463.3L623.8,464.0L666.2,474.5"/>
<path d="M583.9,465.7L627.6,468.7L669.5,475.6"/>
<path d="M585.4,488.7L621.4,497.9L667.4,497.9"/>
<path d="M584.1,470.2L628.7,477.1L665.2,484.3"/>
<path d="M583.5,480.5L622.1,479.7L666.9,497.9"/>
<path d="M583.6,478.8L626.9,467.6L664.0,480.5"/>
<path d="M579.3,482.1L628.6,493.5L668.4,495.8"/>
<path d="M583.1,422.1L624.4,451.2L667.4,470.0"/>
<path d="M580.4,429.9L621.5,459.0L665.9,472.0"/>
<path d="M580.0,439.6L624.8,462.3L668.0,475.2"/>
<path d="M580.1,444.8L624.0,465.5L671.0,478.5"/>
<path d="M585.0,452.5L628.0,468.7L665.5,497.9"/>
</g>
<g fill="#4292c6" fill-opacity="0.45">
<circle cx="585.6" cy="477.2" r="2.05"/>
<circle cx="626.0" cy="477.8" r="2.05"/>
<circle cx="669.3" cy="482.9" r="2.05"/>
<circle cx="582.1" cy="469.2" r="2.05"/>
<circle cx="624.6" cy="471.1" r="2.05"/>
<circle cx="665.2" cy="482.4" r="2.05"/>
<circle cx="578.0" cy="497.9" r="2.05"/>
<circle cx="622.5" cy="497.9" r="2.05"/>
<circle cx="663.7" cy="481.9" r="2.05"/>
<circle cx="582.5" cy="494.6" r="2.05"/>
<circle cx="621.9" cy="476.4" r="2.05"/>
<circle cx="671.4" cy="489.2" r="2.05"/>
<circle cx="578.0" cy="474.2" r="2.05"/>
<circle cx="623.1" cy="475.7" r="2.05"/>
<circle cx="670.9" cy="485.9" r="2.05"/>
<circle cx="582.4" cy="492.4" r="2.05"/>
<circle cx="623.9" cy="483.5" r="2.05"/>
<circle cx="669.8" cy="497.9" r="2.05"/>
<circle cx="580.5" cy="497.9" r="2.05"/>
<circle cx="621.6" cy="497.9" r="2.05"/>
<circle cx="671.9" cy="497.9" r="2.05"/>
<circle cx="584.6" cy="473.2" r="2.05"/>
<circle cx="626.6" cy="473.6" r="2.05"/>
<circle cx="665.9" cy="481.5" r="2.05"/>
<circle cx="581.5" cy="468.1" r="2.05"/>
<circle cx="621.1" cy="465.2" r="2.05"/>
<circle cx="663.8" cy="476.6" r="2.05"/>
<circle cx="585.2" cy="460.8" r="2.05"/>
<circle cx="623.9" cy="469.9" r="2.05"/>
<circle cx="665.4" cy="478.6" r="2.05"/>
<circle cx="583.9" cy="490.4" r="2.05"/>
<circle cx="624.8" cy="480.6" r="2.05"/>
<circle cx="669.2" cy="492.5" r="2.05"/>
<circle cx="578.0" cy="472.2" r="2.05"/>
<circle cx="624.1" cy="472.9" r="2.05"/>
<circle cx="667.0" cy="494.2" r="2.05"/>
<circle cx="579.6" cy="496.7" r="2.05"/>
<circle cx="621.8" cy="485.4" r="2.05"/>
<circle cx="671.0" cy="487.6" r="2.05"/>
<circle cx="583.5" cy="471.2" r="2.05"/>
<circle cx="625.1" cy="474.3" r="2.05"/>
<circle cx="665.8" cy="481.0" r="2.05"/>
<circle cx="582.6" cy="497.9" r="2.05"/>
<circle cx="623.8" cy="496.4" r="2.05"/>
<circle cx="663.5" cy="497.9" r="2.05"/>
<circle cx="582.5" cy="487.1" r="2.05"/>
<circle cx="626.0" cy="487.7" r="2.05"/>
<circle cx="671.8" cy="490.9" r="2.05"/>
<circle cx="584.2" cy="466.9" r="2.05"/>
<circle cx="621.0" cy="462.8" r="2.05"/>
<circle cx="666.2" cy="473.5" r="2.05"/>
<circle cx="577.5" cy="459.6" r="2.05"/>
<circle cx="620.9" cy="478.8" r="2.05"/>
<circle cx="667.5" cy="479.6" r="2.05"/>
<circle cx="578.9" cy="464.5" r="2.05"/>
<circle cx="620.8" cy="466.4" r="2.05"/>
<circle cx="668.9" cy="472.5" r="2.05"/>
<circle cx="585.0" cy="497.9" r="2.05"/>
<circle cx="627.4" cy="497.9" r="2.05"/>
<circle cx="664.0" cy="497.9" r="2.05"/>
<circle cx="579.7" cy="497.9" r="2.05"/>
<circle cx="620.6" cy="490.6" r="2.05"/>
<circle cx="667.1" cy="497.9" r="2.05"/>
<circle cx="585.1" cy="483.8" r="2.05"/>
<circle cx="622.0" cy="482.5" r="2.05"/>
<circle cx="669.8" cy="483.3" r="2.05"/>
<circle cx="581.4" cy="475.2" r="2.05"/>
<circle cx="624.8" cy="472.2" r="2.05"/>
<circle cx="670.7" cy="483.8" r="2.05"/>
<circle cx="579.8" cy="476.2" r="2.05"/>
<circle cx="623.1" cy="484.4" r="2.05"/>
<circle cx="669.8" cy="497.5" r="2.05"/>
<circle cx="578.3" cy="462.0" r="2.05"/>
<circle cx="621.2" cy="475.0" r="2.05"/>
<circle cx="667.0" cy="477.6" r="2.05"/>
<circle cx="580.5" cy="485.4" r="2.05"/>
<circle cx="622.9" cy="481.6" r="2.05"/>
<circle cx="665.7" cy="497.9" r="2.05"/>
<circle cx="584.7" cy="463.3" r="2.05"/>
<circle cx="623.8" cy="464.0" r="2.05"/>
<circle cx="666.2" cy="474.5" r="2.05"/>
<circle cx="583.9" cy="465.7" r="2.05"/>
<circle cx="627.6" cy="468.7" r="2.05"/>
<circle cx="669.5" cy="475.6" r="2.05"/>
<circle cx="585.4" cy="488.7" r="2.05"/>
<circle cx="621.4" cy="497.9" r="2.05"/>
<circle cx="667.4" cy="497.9" r="2.05"/>
<circle cx="584.1" cy="470.2" r="2.05"/>
<circle cx="628.7" cy="477.1" r="2.05"/>
<circle cx="665.2" cy="484.3" r="2.05"/>
<circle cx="583.5" cy="480.5" r="2.05"/>
<circle cx="622.1" cy="479.7" r="2.05"/>
<circle cx="666.9" cy="497.9" r="2.05"/>
<circle cx="583.6" cy="478.8" r="2.05"/>
<circle cx="626.9" cy="467.6" r="2.05"/>
<circle cx="664.0" cy="480.5" r="2.05"/>
<circle cx="579.3" cy="482.1" r="2.05"/>
<circle cx="628.6" cy="493.5" r="2.05"/>
<circle cx="668.4" cy="495.8" r="2.05"/>
<circle cx="583.1" cy="422.1" r="2.05"/>
<circle cx="624.4" cy="451.2" r="2.05"/>
<circle cx="667.4" cy="470.0" r="2.05"/>
<circle cx="580.4" cy="429.9" r="2.05"/>
<circle cx="621.5" cy="459.0" r="2.05"/>
<circle cx="665.9" cy="472.0" r="2.05"/>
<circle cx="580.0" cy="439.6" r="2.05"/>
<circle cx="624.8" cy="462.3" r="2.05"/>
<circle cx="668.0" cy="475.2" r="2.05"/>
<circle cx="580.1" cy="444.8" r="2.05"/>
<circle cx="624.0" cy="465.5" r="2.05"/>
<circle cx="671.0" cy="478.5" r="2.05"/>
<circle cx="585.0" cy="452.5" r="2.05"/>
<circle cx="628.0" cy="468.7" r="2.05"/>
<circle cx="665.5" cy="497.9" r="2.05"/>
</g>
<path d="M581.40,469.00V439.58M581.40,490.77V497.90" stroke="#1d2b3d" stroke-width="1.3" fill="none"/>
<rect x="576.30" y="469.00" width="10.20" height="21.77" fill="none" stroke="#1d2632" stroke-width="1.0"/>
<path d="M576.30,477.16H586.50" stroke="#1d2632" stroke-width="1.6"/>
<path d="M624.60,471.98V457.08M624.60,485.59V497.90" stroke="#1d2b3d" stroke-width="1.3" fill="none"/>
<rect x="619.50" y="471.98" width="10.20" height="13.61" fill="none" stroke="#1d2632" stroke-width="1.0"/>
<path d="M619.50,477.81H629.70" stroke="#1d2632" stroke-width="1.6"/>
<path d="M667.80,480.40V470.04M667.80,497.58V497.90" stroke="#1d2b3d" stroke-width="1.3" fill="none"/>
<rect x="662.70" y="480.40" width="10.20" height="17.17" fill="none" stroke="#1d2632" stroke-width="1.0"/>
<path d="M662.70,484.29H672.90" stroke="#1d2632" stroke-width="1.6"/>
<path d="M566.30,390.20V508.00H684.20" fill="none" stroke="#3d3d3d" stroke-width="1.5"/>
<path d="M564.10,497.90H566.30" stroke="#3d3d3d" stroke-width="1.3"/>
<text x="561.50" y="502.40" font-size="12.3" text-anchor="end" fill="#4a4a4a" >0</text>
<path d="M564.10,465.50H566.30" stroke="#3d3d3d" stroke-width="1.3"/>
<text x="561.50" y="470.00" font-size="12.3" text-anchor="end" fill="#4a4a4a" >0.5</text>
<path d="M564.10,433.10H566.30" stroke="#3d3d3d" stroke-width="1.3"/>
<text x="561.50" y="437.60" font-size="12.3" text-anchor="end" fill="#4a4a4a" >1</text>
<path d="M564.10,400.70H566.30" stroke="#3d3d3d" stroke-width="1.3"/>
<text x="561.50" y="405.20" font-size="12.3" text-anchor="end" fill="#4a4a4a" >1.5</text>
<path d="M581.40,508.00V510.20" stroke="#3d3d3d" stroke-width="1.3"/>
<text x="581.40" y="525.80" font-size="12.3" text-anchor="middle" fill="#4a4a4a" >1-2</text>
<path d="M624.60,508.00V510.20" stroke="#3d3d3d" stroke-width="1.3"/>
<text x="624.60" y="525.80" font-size="12.3" text-anchor="middle" fill="#4a4a4a" >3-4</text>
<path d="M667.80,508.00V510.20" stroke="#3d3d3d" stroke-width="1.3"/>
<text x="667.80" y="525.80" font-size="12.3" text-anchor="middle" fill="#4a4a4a" >5-6</text>
<text x="624.60" y="543.90" font-size="13.5" text-anchor="middle" fill="#4a4a4a" >Block</text>
<text transform="translate(534.60,449.90) rotate(-90)" font-size="13.5" text-anchor="middle" fill="#4a4a4a">k</text>
<g fill="#474747" font-size="19.5"><text x="-0.4" y="565.5" transform="scale(1.06,1)">D</text><rect x="22.9" y="558.50" width="6.1" height="1.8"/><text x="35.51" y="565.5" transform="scale(1.07,1)">CG</text></g>
<path d="M45.47,675.36 L46.35,675.02 L47.23,674.68 L48.10,674.33 L48.98,673.96 L49.86,673.57 L50.74,673.15 L51.61,672.69 L52.49,672.20 L53.37,671.67 L54.25,671.09 L55.12,670.46 L56.00,669.79 L56.88,669.08 L57.76,668.32 L58.63,667.52 L59.51,666.68 L60.39,665.79 L61.27,664.87 L62.14,663.89 L63.02,662.88 L63.90,661.84 L64.78,660.76 L65.65,659.66 L66.53,658.54 L67.41,657.39 L68.29,656.23 L69.16,655.07 L70.04,653.89 L70.92,652.71 L71.80,651.54 L72.67,650.37 L73.55,649.21 L74.43,648.06 L75.31,646.94 L76.18,645.83 L77.06,644.76 L77.94,643.71 L78.82,642.69 L79.69,641.72 L80.57,640.78 L81.45,639.89 L82.33,639.03 L83.21,638.21 L84.08,637.42 L84.96,636.67 L85.84,635.95 L86.72,635.27 L87.59,634.62 L88.47,634.01 L89.35,633.42 L90.23,632.87 L91.10,632.34 L91.98,631.85 L92.86,631.38 L93.74,630.94 L94.61,630.53 L95.49,630.14 L96.37,629.78 L97.25,629.44 L98.12,629.13 L99.00,628.84 L99.88,628.57 L100.76,628.33 L101.63,628.12 L102.51,627.93 L103.39,627.77 L104.27,627.64 L105.14,627.53 L106.02,627.45 L106.90,627.40 L107.78,627.37 L108.65,627.38 L109.53,627.40 L110.41,627.46 L111.29,627.53 L112.16,627.63 L113.04,627.76 L113.92,627.90 L114.80,628.07 L115.68,628.26 L116.55,628.47 L117.43,628.70 L118.31,628.95 L119.19,629.21 L120.06,629.50 L120.94,629.80 L121.82,630.12 L122.70,630.45 L123.57,630.80 L124.45,631.17 L125.33,631.55 L126.21,631.94 L127.08,632.35 L127.96,632.76 L128.84,633.19 L129.72,633.63 L130.59,634.08 L131.47,634.54 L132.35,635.01 L133.23,635.48 L134.10,635.97 L134.98,636.46 L135.86,636.96 L136.74,637.47 L137.61,637.98 L138.49,638.50 L139.37,639.02 L140.25,639.55 L141.12,640.08 L142.00,640.62 L142.88,641.16 L143.76,641.70 L144.63,642.25 L145.51,642.80 L146.39,643.35 L147.27,643.90 L148.14,644.46 L149.02,645.01 L149.90,645.57" fill="none" stroke="#c9e2c6" stroke-width="1.1"/>
<path d="M45.47,675.36 L46.35,674.93 L47.23,674.50 L48.10,674.04 L48.98,673.56 L49.86,673.04 L50.74,672.47 L51.61,671.84 L52.49,671.15 L53.37,670.39 L54.25,669.55 L55.12,668.64 L56.00,667.67 L56.88,666.64 L57.76,665.55 L58.63,664.40 L59.51,663.20 L60.39,661.95 L61.27,660.66 L62.14,659.33 L63.02,657.97 L63.90,656.57 L64.78,655.15 L65.65,653.70 L66.53,652.23 L67.41,650.75 L68.29,649.26 L69.16,647.76 L70.04,646.26 L70.92,644.77 L71.80,643.28 L72.67,641.80 L73.55,640.34 L74.43,638.90 L75.31,637.48 L76.18,636.09 L77.06,634.73 L77.94,633.41 L78.82,632.14 L79.69,630.91 L80.57,629.72 L81.45,628.59 L82.33,627.50 L83.21,626.47 L84.08,625.48 L84.96,624.55 L85.84,623.67 L86.72,622.84 L87.59,622.06 L88.47,621.34 L89.35,620.68 L90.23,620.07 L91.10,619.52 L91.98,619.02 L92.86,618.59 L93.74,618.21 L94.61,617.90 L95.49,617.64 L96.37,617.44 L97.25,617.31 L98.12,617.24 L99.00,617.22 L99.88,617.26 L100.76,617.34 L101.63,617.46 L102.51,617.62 L103.39,617.82 L104.27,618.04 L105.14,618.28 L106.02,618.55 L106.90,618.83 L107.78,619.14 L108.65,619.46 L109.53,619.80 L110.41,620.16 L111.29,620.55 L112.16,620.95 L113.04,621.39 L113.92,621.84 L114.80,622.33 L115.68,622.84 L116.55,623.37 L117.43,623.93 L118.31,624.51 L119.19,625.10 L120.06,625.71 L120.94,626.34 L121.82,626.98 L122.70,627.64 L123.57,628.30 L124.45,628.97 L125.33,629.65 L126.21,630.33 L127.08,631.01 L127.96,631.69 L128.84,632.37 L129.72,633.05 L130.59,633.72 L131.47,634.38 L132.35,635.04 L133.23,635.68 L134.10,636.32 L134.98,636.94 L135.86,637.56 L136.74,638.17 L137.61,638.77 L138.49,639.36 L139.37,639.95 L140.25,640.53 L141.12,641.10 L142.00,641.67 L142.88,642.23 L143.76,642.79 L144.63,643.35 L145.51,643.90 L146.39,644.45 L147.27,645.00 L148.14,645.54 L149.02,646.09 L149.90,646.63" fill="none" stroke="#69a883" stroke-width="1.1"/>
<path d="M45.47,675.36 L46.35,674.94 L47.23,674.51 L48.10,674.06 L48.98,673.58 L49.86,673.06 L50.74,672.49 L51.61,671.86 L52.49,671.15 L53.37,670.37 L54.25,669.51 L55.12,668.56 L56.00,667.54 L56.88,666.43 L57.76,665.24 L58.63,663.96 L59.51,662.60 L60.39,661.16 L61.27,659.64 L62.14,658.03 L63.02,656.35 L63.90,654.60 L64.78,652.79 L65.65,650.93 L66.53,649.02 L67.41,647.08 L68.29,645.12 L69.16,643.14 L70.04,641.15 L70.92,639.16 L71.80,637.18 L72.67,635.21 L73.55,633.28 L74.43,631.37 L75.31,629.51 L76.18,627.70 L77.06,625.95 L77.94,624.27 L78.82,622.66 L79.69,621.14 L80.57,619.70 L81.45,618.35 L82.33,617.09 L83.21,615.91 L84.08,614.82 L84.96,613.80 L85.84,612.87 L86.72,612.02 L87.59,611.25 L88.47,610.56 L89.35,609.95 L90.23,609.41 L91.10,608.95 L91.98,608.56 L92.86,608.25 L93.74,608.02 L94.61,607.85 L95.49,607.76 L96.37,607.73 L97.25,607.77 L98.12,607.87 L99.00,608.02 L99.88,608.22 L100.76,608.47 L101.63,608.75 L102.51,609.08 L103.39,609.43 L104.27,609.81 L105.14,610.22 L106.02,610.64 L106.90,611.07 L107.78,611.52 L108.65,612.00 L109.53,612.49 L110.41,613.01 L111.29,613.55 L112.16,614.12 L113.04,614.71 L113.92,615.34 L114.80,616.00 L115.68,616.70 L116.55,617.43 L117.43,618.19 L118.31,618.97 L119.19,619.79 L120.06,620.63 L120.94,621.49 L121.82,622.37 L122.70,623.28 L123.57,624.20 L124.45,625.14 L125.33,626.09 L126.21,627.06 L127.08,628.03 L127.96,629.02 L128.84,630.02 L129.72,631.02 L130.59,632.02 L131.47,633.03 L132.35,634.03 L133.23,635.04 L134.10,636.05 L134.98,637.05 L135.86,638.06 L136.74,639.06 L137.61,640.07 L138.49,641.07 L139.37,642.07 L140.25,643.07 L141.12,644.08 L142.00,645.08 L142.88,646.08 L143.76,647.08 L144.63,648.08 L145.51,649.08 L146.39,650.08 L147.27,651.08 L148.14,652.08 L149.02,653.08 L149.90,654.08" fill="none" stroke="#3b7552" stroke-width="1.1"/>
<path d="M43.70,678.11V684.31M40.10,678.11H47.30M40.10,684.31H47.30" stroke="#a6dba0" stroke-width="1.1" fill="none"/>
<rect x="40.50" y="678.01" width="6.4" height="6.4" rx="1.3" fill="#a6dba0"/>
<path d="M61.40,670.88V677.08M57.80,670.88H65.00M57.80,677.08H65.00" stroke="#a6dba0" stroke-width="1.1" fill="none"/>
<rect x="58.20" y="670.78" width="6.4" height="6.4" rx="1.3" fill="#a6dba0"/>
<path d="M79.10,647.26V653.46M75.50,647.26H82.70M75.50,653.46H82.70" stroke="#a6dba0" stroke-width="1.1" fill="none"/>
<rect x="75.90" y="647.16" width="6.4" height="6.4" rx="1.3" fill="#a6dba0"/>
<path d="M96.80,617.46V623.66M93.20,617.46H100.40M93.20,623.66H100.40" stroke="#a6dba0" stroke-width="1.1" fill="none"/>
<rect x="93.60" y="617.36" width="6.4" height="6.4" rx="1.3" fill="#a6dba0"/>
<path d="M114.50,610.55V616.75M110.90,610.55H118.10M110.90,616.75H118.10" stroke="#a6dba0" stroke-width="1.1" fill="none"/>
<rect x="111.30" y="610.45" width="6.4" height="6.4" rx="1.3" fill="#a6dba0"/>
<path d="M132.20,616.93V623.13M128.60,616.93H135.80M128.60,623.13H135.80" stroke="#a6dba0" stroke-width="1.1" fill="none"/>
<rect x="129.00" y="616.83" width="6.4" height="6.4" rx="1.3" fill="#a6dba0"/>
<path d="M149.90,632.89V639.09M146.30,632.89H153.50M146.30,639.09H153.50" stroke="#a6dba0" stroke-width="1.1" fill="none"/>
<rect x="146.70" y="632.79" width="6.4" height="6.4" rx="1.3" fill="#a6dba0"/>
<path d="M43.70,678.11V684.31M40.10,678.11H47.30M40.10,684.31H47.30" stroke="#3fa65a" stroke-width="1.1" fill="none"/>
<rect x="40.50" y="678.01" width="6.4" height="6.4" rx="3.2" fill="#3fa65a"/>
<path d="M61.40,666.41V672.61M57.80,666.41H65.00M57.80,672.61H65.00" stroke="#3fa65a" stroke-width="1.1" fill="none"/>
<rect x="58.20" y="666.31" width="6.4" height="6.4" rx="3.2" fill="#3fa65a"/>
<path d="M79.10,632.89V639.09M75.50,632.89H82.70M75.50,639.09H82.70" stroke="#3fa65a" stroke-width="1.1" fill="none"/>
<rect x="75.90" y="632.79" width="6.4" height="6.4" rx="3.2" fill="#3fa65a"/>
<path d="M96.80,605.23V611.43M93.20,605.23H100.40M93.20,611.43H100.40" stroke="#3fa65a" stroke-width="1.1" fill="none"/>
<rect x="93.60" y="605.13" width="6.4" height="6.4" rx="3.2" fill="#3fa65a"/>
<path d="M114.50,603.10V609.30M110.90,603.10H118.10M110.90,609.30H118.10" stroke="#3fa65a" stroke-width="1.1" fill="none"/>
<rect x="111.30" y="603.00" width="6.4" height="6.4" rx="3.2" fill="#3fa65a"/>
<path d="M132.20,615.12V621.32M128.60,615.12H135.80M128.60,621.32H135.80" stroke="#3fa65a" stroke-width="1.1" fill="none"/>
<rect x="129.00" y="615.02" width="6.4" height="6.4" rx="3.2" fill="#3fa65a"/>
<path d="M149.90,629.91V636.11M146.30,629.91H153.50M146.30,636.11H153.50" stroke="#3fa65a" stroke-width="1.1" fill="none"/>
<rect x="146.70" y="629.81" width="6.4" height="6.4" rx="3.2" fill="#3fa65a"/>
<path d="M43.70,677.90V684.10M40.10,677.90H47.30M40.10,684.10H47.30" stroke="#00712f" stroke-width="1.1" fill="none"/>
<rect x="40.50" y="677.80" width="6.4" height="6.4" rx="2.7" fill="#00712f"/>
<path d="M61.40,660.34V666.54M57.80,660.34H65.00M57.80,666.54H65.00" stroke="#00712f" stroke-width="1.1" fill="none"/>
<rect x="58.20" y="660.24" width="6.4" height="6.4" rx="2.7" fill="#00712f"/>
<path d="M79.10,620.12V626.32M75.50,620.12H82.70M75.50,626.32H82.70" stroke="#00712f" stroke-width="1.1" fill="none"/>
<rect x="75.90" y="620.02" width="6.4" height="6.4" rx="2.7" fill="#00712f"/>
<path d="M96.80,598.84V605.04M93.20,598.84H100.40M93.20,605.04H100.40" stroke="#00712f" stroke-width="1.1" fill="none"/>
<rect x="93.60" y="598.74" width="6.4" height="6.4" rx="2.7" fill="#00712f"/>
<path d="M114.50,602.67V608.87M110.90,602.67H118.10M110.90,608.87H118.10" stroke="#00712f" stroke-width="1.1" fill="none"/>
<rect x="111.30" y="602.57" width="6.4" height="6.4" rx="2.7" fill="#00712f"/>
<path d="M132.20,619.59V625.79M128.60,619.59H135.80M128.60,625.79H135.80" stroke="#00712f" stroke-width="1.1" fill="none"/>
<rect x="129.00" y="619.49" width="6.4" height="6.4" rx="2.7" fill="#00712f"/>
<path d="M149.90,637.47V643.67M146.30,637.47H153.50M146.30,643.67H153.50" stroke="#00712f" stroke-width="1.1" fill="none"/>
<rect x="146.70" y="637.37" width="6.4" height="6.4" rx="2.7" fill="#00712f"/>
<path d="M38.60,573.00V690.80H156.20" fill="none" stroke="#3d3d3d" stroke-width="1.5"/>
<path d="M36.40,686.00H38.60" stroke="#3d3d3d" stroke-width="1.3"/>
<text x="33.80" y="690.50" font-size="12.3" text-anchor="end" fill="#4a4a4a" >0</text>
<path d="M36.40,632.80H38.60" stroke="#3d3d3d" stroke-width="1.3"/>
<text x="33.80" y="637.30" font-size="12.3" text-anchor="end" fill="#4a4a4a" >0.5</text>
<path d="M36.40,579.60H38.60" stroke="#3d3d3d" stroke-width="1.3"/>
<text x="33.80" y="584.10" font-size="12.3" text-anchor="end" fill="#4a4a4a" >1</text>
<path d="M61.40,690.80V693.00" stroke="#3d3d3d" stroke-width="1.3"/>
<text x="61.40" y="708.50" font-size="12.3" text-anchor="middle" fill="#4a4a4a" >0.2</text>
<path d="M96.80,690.80V693.00" stroke="#3d3d3d" stroke-width="1.3"/>
<text x="96.80" y="708.50" font-size="12.3" text-anchor="middle" fill="#4a4a4a" >0.4</text>
<path d="M132.20,690.80V693.00" stroke="#3d3d3d" stroke-width="1.3"/>
<text x="132.20" y="708.50" font-size="12.3" text-anchor="middle" fill="#4a4a4a" >0.6</text>
<text x="97.40" y="725.60" font-size="13.5" text-anchor="middle" fill="#4a4a4a" >Duration (s)</text>
<text transform="translate(9.80,633.00) rotate(-90)" font-size="13.5" text-anchor="middle" fill="#4a4a4a">P(&quot;Same&quot;)</text>
<g fill="none" stroke="#4a90c8" stroke-width="0.65" stroke-opacity="0.42">
<path d="M236.1,596.3L272.4,668.0L320.3,625.6"/>
<path d="M228.3,647.3L278.7,658.2L317.8,649.7"/>
<path d="M233.5,644.3L276.5,638.7L316.2,651.7"/>
<path d="M232.0,641.4L271.3,640.1L321.2,675.9"/>
<path d="M232.0,650.2L273.7,651.0L317.9,659.8"/>
<path d="M231.6,662.7L272.7,618.5L317.7,665.9"/>
<path d="M233.9,617.0L276.1,652.5L323.0,667.9"/>
<path d="M234.5,611.8L278.4,655.4L315.8,661.8"/>
<path d="M232.6,679.5L273.4,649.6L316.6,673.9"/>
<path d="M230.9,655.4L276.2,659.7L318.1,652.7"/>
<path d="M231.5,658.3L274.4,642.8L323.0,648.7"/>
<path d="M231.7,664.1L279.2,645.5L323.0,640.7"/>
<path d="M233.4,606.6L279.7,672.1L323.1,656.7"/>
<path d="M235.1,656.9L277.4,644.1L316.4,634.6"/>
<path d="M229.7,622.1L271.8,663.8L316.4,637.7"/>
<path d="M232.6,661.2L275.1,661.8L321.0,671.9"/>
<path d="M230.7,659.8L276.6,656.8L317.6,658.8"/>
<path d="M230.0,627.3L278.0,632.0L317.0,669.9"/>
<path d="M232.6,667.6L273.5,646.8L320.1,663.8"/>
<path d="M229.6,653.2L271.8,625.2L319.9,650.7"/>
<path d="M232.4,673.5L276.9,615.1L315.2,654.7"/>
<path d="M234.8,671.5L271.7,653.9L322.7,631.6"/>
<path d="M236.2,632.5L278.2,665.9L317.2,628.6"/>
<path d="M233.7,635.4L279.8,670.0L320.7,647.7"/>
<path d="M233.8,677.5L271.6,648.2L314.8,657.8"/>
<path d="M233.5,675.5L275.3,641.4L318.7,655.7"/>
<path d="M229.7,601.5L273.9,621.9L322.2,653.7"/>
<path d="M231.2,665.6L279.6,674.2L315.9,646.7"/>
<path d="M232.7,669.5L276.8,635.3L320.4,660.8"/>
<path d="M235.0,638.4L277.8,628.6L321.5,643.7"/>
<path d="M234.9,583.7L272.0,646.2L315.6,652.5"/>
<path d="M229.8,652.5L274.3,583.7L319.1,658.7"/>
<path d="M234.2,593.7L276.5,658.7L319.3,665.0"/>
<path d="M229.7,598.7L278.7,665.0L321.1,658.7"/>
<path d="M234.6,646.2L279.3,633.7L319.4,604.1"/>
<path d="M231.7,627.5L275.4,621.2L320.9,613.7"/>
<path d="M232.5,658.7L276.7,640.0L319.6,618.7"/>
<path d="M229.6,680.5L277.5,671.2L315.1,665.0"/>
</g>
<g fill="#4292c6" fill-opacity="0.45">
<circle cx="236.1" cy="596.3" r="2.05"/>
<circle cx="272.4" cy="668.0" r="2.05"/>
<circle cx="320.3" cy="625.6" r="2.05"/>
<circle cx="228.3" cy="647.3" r="2.05"/>
<circle cx="278.7" cy="658.2" r="2.05"/>
<circle cx="317.8" cy="649.7" r="2.05"/>
<circle cx="233.5" cy="644.3" r="2.05"/>
<circle cx="276.5" cy="638.7" r="2.05"/>
<circle cx="316.2" cy="651.7" r="2.05"/>
<circle cx="232.0" cy="641.4" r="2.05"/>
<circle cx="271.3" cy="640.1" r="2.05"/>
<circle cx="321.2" cy="675.9" r="2.05"/>
<circle cx="232.0" cy="650.2" r="2.05"/>
<circle cx="273.7" cy="651.0" r="2.05"/>
<circle cx="317.9" cy="659.8" r="2.05"/>
<circle cx="231.6" cy="662.7" r="2.05"/>
<circle cx="272.7" cy="618.5" r="2.05"/>
<circle cx="317.7" cy="665.9" r="2.05"/>
<circle cx="233.9" cy="617.0" r="2.05"/>
<circle cx="276.1" cy="652.5" r="2.05"/>
<circle cx="323.0" cy="667.9" r="2.05"/>
<circle cx="234.5" cy="611.8" r="2.05"/>
<circle cx="278.4" cy="655.4" r="2.05"/>
<circle cx="315.8" cy="661.8" r="2.05"/>
<circle cx="232.6" cy="679.5" r="2.05"/>
<circle cx="273.4" cy="649.6" r="2.05"/>
<circle cx="316.6" cy="673.9" r="2.05"/>
<circle cx="230.9" cy="655.4" r="2.05"/>
<circle cx="276.2" cy="659.7" r="2.05"/>
<circle cx="318.1" cy="652.7" r="2.05"/>
<circle cx="231.5" cy="658.3" r="2.05"/>
<circle cx="274.4" cy="642.8" r="2.05"/>
<circle cx="323.0" cy="648.7" r="2.05"/>
<circle cx="231.7" cy="664.1" r="2.05"/>
<circle cx="279.2" cy="645.5" r="2.05"/>
<circle cx="323.0" cy="640.7" r="2.05"/>
<circle cx="233.4" cy="606.6" r="2.05"/>
<circle cx="279.7" cy="672.1" r="2.05"/>
<circle cx="323.1" cy="656.7" r="2.05"/>
<circle cx="235.1" cy="656.9" r="2.05"/>
<circle cx="277.4" cy="644.1" r="2.05"/>
<circle cx="316.4" cy="634.6" r="2.05"/>
<circle cx="229.7" cy="622.1" r="2.05"/>
<circle cx="271.8" cy="663.8" r="2.05"/>
<circle cx="316.4" cy="637.7" r="2.05"/>
<circle cx="232.6" cy="661.2" r="2.05"/>
<circle cx="275.1" cy="661.8" r="2.05"/>
<circle cx="321.0" cy="671.9" r="2.05"/>
<circle cx="230.7" cy="659.8" r="2.05"/>
<circle cx="276.6" cy="656.8" r="2.05"/>
<circle cx="317.6" cy="658.8" r="2.05"/>
<circle cx="230.0" cy="627.3" r="2.05"/>
<circle cx="278.0" cy="632.0" r="2.05"/>
<circle cx="317.0" cy="669.9" r="2.05"/>
<circle cx="232.6" cy="667.6" r="2.05"/>
<circle cx="273.5" cy="646.8" r="2.05"/>
<circle cx="320.1" cy="663.8" r="2.05"/>
<circle cx="229.6" cy="653.2" r="2.05"/>
<circle cx="271.8" cy="625.2" r="2.05"/>
<circle cx="319.9" cy="650.7" r="2.05"/>
<circle cx="232.4" cy="673.5" r="2.05"/>
<circle cx="276.9" cy="615.1" r="2.05"/>
<circle cx="315.2" cy="654.7" r="2.05"/>
<circle cx="234.8" cy="671.5" r="2.05"/>
<circle cx="271.7" cy="653.9" r="2.05"/>
<circle cx="322.7" cy="631.6" r="2.05"/>
<circle cx="236.2" cy="632.5" r="2.05"/>
<circle cx="278.2" cy="665.9" r="2.05"/>
<circle cx="317.2" cy="628.6" r="2.05"/>
<circle cx="233.7" cy="635.4" r="2.05"/>
<circle cx="279.8" cy="670.0" r="2.05"/>
<circle cx="320.7" cy="647.7" r="2.05"/>
<circle cx="233.8" cy="677.5" r="2.05"/>
<circle cx="271.6" cy="648.2" r="2.05"/>
<circle cx="314.8" cy="657.8" r="2.05"/>
<circle cx="233.5" cy="675.5" r="2.05"/>
<circle cx="275.3" cy="641.4" r="2.05"/>
<circle cx="318.7" cy="655.7" r="2.05"/>
<circle cx="229.7" cy="601.5" r="2.05"/>
<circle cx="273.9" cy="621.9" r="2.05"/>
<circle cx="322.2" cy="653.7" r="2.05"/>
<circle cx="231.2" cy="665.6" r="2.05"/>
<circle cx="279.6" cy="674.2" r="2.05"/>
<circle cx="315.9" cy="646.7" r="2.05"/>
<circle cx="232.7" cy="669.5" r="2.05"/>
<circle cx="276.8" cy="635.3" r="2.05"/>
<circle cx="320.4" cy="660.8" r="2.05"/>
<circle cx="235.0" cy="638.4" r="2.05"/>
<circle cx="277.8" cy="628.6" r="2.05"/>
<circle cx="321.5" cy="643.7" r="2.05"/>
<circle cx="234.9" cy="583.7" r="2.05"/>
<circle cx="272.0" cy="646.2" r="2.05"/>
<circle cx="315.6" cy="652.5" r="2.05"/>
<circle cx="229.8" cy="652.5" r="2.05"/>
<circle cx="274.3" cy="583.7" r="2.05"/>
<circle cx="319.1" cy="658.7" r="2.05"/>
<circle cx="234.2" cy="593.7" r="2.05"/>
<circle cx="276.5" cy="658.7" r="2.05"/>
<circle cx="319.3" cy="665.0" r="2.05"/>
<circle cx="229.7" cy="598.7" r="2.05"/>
<circle cx="278.7" cy="665.0" r="2.05"/>
<circle cx="321.1" cy="658.7" r="2.05"/>
<circle cx="234.6" cy="646.2" r="2.05"/>
<circle cx="279.3" cy="633.7" r="2.05"/>
<circle cx="319.4" cy="604.1" r="2.05"/>
<circle cx="231.7" cy="627.5" r="2.05"/>
<circle cx="275.4" cy="621.2" r="2.05"/>
<circle cx="320.9" cy="613.7" r="2.05"/>
<circle cx="232.5" cy="658.7" r="2.05"/>
<circle cx="276.7" cy="640.0" r="2.05"/>
<circle cx="319.6" cy="618.7" r="2.05"/>
<circle cx="229.6" cy="680.5" r="2.05"/>
<circle cx="277.5" cy="671.2" r="2.05"/>
<circle cx="315.1" cy="665.0" r="2.05"/>
</g>
<path d="M232.40,632.45V593.70M232.40,665.58V680.45" stroke="#1d2b3d" stroke-width="1.3" fill="none"/>
<rect x="227.30" y="632.45" width="10.20" height="33.12" fill="none" stroke="#1d2632" stroke-width="1.0"/>
<path d="M227.30,654.70H237.50" stroke="#1d2632" stroke-width="1.6"/>
<path d="M275.60,638.70V613.45M275.60,659.70V675.20" stroke="#1d2b3d" stroke-width="1.3" fill="none"/>
<rect x="270.50" y="638.70" width="10.20" height="21.00" fill="none" stroke="#1d2632" stroke-width="1.0"/>
<path d="M270.50,648.83H280.70" stroke="#1d2632" stroke-width="1.6"/>
<path d="M318.80,646.70V624.08M318.80,661.83V676.95" stroke="#1d2b3d" stroke-width="1.3" fill="none"/>
<rect x="313.70" y="646.70" width="10.20" height="15.12" fill="none" stroke="#1d2632" stroke-width="1.0"/>
<path d="M313.70,654.20H323.90" stroke="#1d2632" stroke-width="1.6"/>
<path d="M217.30,573.20V691.00H335.00" fill="none" stroke="#3d3d3d" stroke-width="1.5"/>
<path d="M215.10,683.70H217.30" stroke="#3d3d3d" stroke-width="1.3"/>
<text x="212.50" y="688.20" font-size="12.3" text-anchor="end" fill="#4a4a4a" >0.2</text>
<path d="M215.10,658.70H217.30" stroke="#3d3d3d" stroke-width="1.3"/>
<text x="212.50" y="663.20" font-size="12.3" text-anchor="end" fill="#4a4a4a" >0.4</text>
<path d="M215.10,633.70H217.30" stroke="#3d3d3d" stroke-width="1.3"/>
<text x="212.50" y="638.20" font-size="12.3" text-anchor="end" fill="#4a4a4a" >0.6</text>
<path d="M215.10,608.70H217.30" stroke="#3d3d3d" stroke-width="1.3"/>
<text x="212.50" y="613.20" font-size="12.3" text-anchor="end" fill="#4a4a4a" >0.8</text>
<path d="M215.10,583.70H217.30" stroke="#3d3d3d" stroke-width="1.3"/>
<text x="212.50" y="588.20" font-size="12.3" text-anchor="end" fill="#4a4a4a" >1</text>
<path d="M232.40,691.00V693.20" stroke="#3d3d3d" stroke-width="1.3"/>
<text x="232.40" y="708.80" font-size="12.3" text-anchor="middle" fill="#4a4a4a" >1-2</text>
<path d="M275.60,691.00V693.20" stroke="#3d3d3d" stroke-width="1.3"/>
<text x="275.60" y="708.80" font-size="12.3" text-anchor="middle" fill="#4a4a4a" >3-4</text>
<path d="M318.80,691.00V693.20" stroke="#3d3d3d" stroke-width="1.3"/>
<text x="318.80" y="708.80" font-size="12.3" text-anchor="middle" fill="#4a4a4a" >5-6</text>
<text x="275.60" y="728.60" font-size="13.5" text-anchor="middle" fill="#4a4a4a" >Block</text>
<text transform="translate(188.00,634.20) rotate(-90)" font-size="13.5" text-anchor="middle" fill="#4a4a4a">B</text>
<g fill="none" stroke="#4a90c8" stroke-width="0.65" stroke-opacity="0.42">
<path d="M401.6,683.8L444.7,683.8L491.1,683.8"/>
<path d="M405.6,683.8L449.1,683.8L488.3,683.8"/>
<path d="M405.0,683.8L446.2,683.8L485.0,683.8"/>
<path d="M398.3,683.8L446.1,683.8L490.0,683.8"/>
<path d="M403.3,683.8L445.1,683.8L489.2,683.8"/>
<path d="M403.4,683.8L447.0,683.8L485.3,683.8"/>
<path d="M401.8,683.8L443.7,683.8L488.3,683.8"/>
<path d="M401.1,683.8L441.5,683.8L490.9,683.8"/>
<path d="M402.2,683.8L448.4,683.8L484.5,683.8"/>
<path d="M398.5,683.8L442.0,683.8L491.6,683.8"/>
<path d="M402.1,683.8L447.4,683.8L484.8,683.8"/>
<path d="M404.1,683.8L441.6,683.8L491.9,683.8"/>
<path d="M402.1,683.8L449.2,683.8L489.6,683.8"/>
<path d="M402.9,683.8L442.3,683.8L489.5,683.8"/>
<path d="M404.2,683.8L446.1,683.8L490.0,683.8"/>
<path d="M405.3,683.8L446.9,683.8L489.6,683.8"/>
<path d="M402.2,683.8L444.8,683.8L490.2,683.8"/>
<path d="M404.8,683.8L447.2,683.8L485.0,683.8"/>
<path d="M399.9,683.8L446.2,683.8L489.0,683.8"/>
<path d="M405.6,683.8L449.4,683.8L491.8,683.8"/>
<path d="M402.9,683.8L447.1,683.8L491.4,683.8"/>
<path d="M399.0,683.8L443.6,683.8L484.3,683.8"/>
<path d="M403.1,683.8L448.8,683.8L484.1,683.8"/>
<path d="M398.8,683.8L442.6,683.8L490.8,683.8"/>
<path d="M400.9,683.8L442.6,683.8L487.3,683.8"/>
<path d="M399.9,683.8L443.1,683.8L489.0,683.8"/>
<path d="M403.5,683.8L443.0,683.8L488.8,683.8"/>
<path d="M398.0,683.8L449.3,683.8L485.0,683.8"/>
<path d="M402.5,683.8L449.5,683.8L486.9,683.8"/>
<path d="M400.1,618.3L443.8,605.9L491.6,591.8"/>
<path d="M401.4,623.6L441.9,619.2L490.3,613.0"/>
<path d="M404.6,656.4L445.2,662.6L489.0,646.6"/>
<path d="M405.7,683.8L442.6,667.9L487.1,621.8"/>
<path d="M402.0,683.8L442.6,669.6L489.2,621.8"/>
<path d="M399.7,683.8L443.9,683.8L484.5,659.0"/>
<path d="M401.0,683.8L443.8,683.8L487.9,662.6"/>
<path d="M398.9,683.8L443.7,683.8L489.2,664.3"/>
<path d="M400.7,683.8L446.0,683.8L491.1,666.1"/>
</g>
<g fill="#4292c6" fill-opacity="0.45">
<circle cx="401.6" cy="683.8" r="2.05"/>
<circle cx="444.7" cy="683.8" r="2.05"/>
<circle cx="491.1" cy="683.8" r="2.05"/>
<circle cx="405.6" cy="683.8" r="2.05"/>
<circle cx="449.1" cy="683.8" r="2.05"/>
<circle cx="488.3" cy="683.8" r="2.05"/>
<circle cx="405.0" cy="683.8" r="2.05"/>
<circle cx="446.2" cy="683.8" r="2.05"/>
<circle cx="485.0" cy="683.8" r="2.05"/>
<circle cx="398.3" cy="683.8" r="2.05"/>
<circle cx="446.1" cy="683.8" r="2.05"/>
<circle cx="490.0" cy="683.8" r="2.05"/>
<circle cx="403.3" cy="683.8" r="2.05"/>
<circle cx="445.1" cy="683.8" r="2.05"/>
<circle cx="489.2" cy="683.8" r="2.05"/>
<circle cx="403.4" cy="683.8" r="2.05"/>
<circle cx="447.0" cy="683.8" r="2.05"/>
<circle cx="485.3" cy="683.8" r="2.05"/>
<circle cx="401.8" cy="683.8" r="2.05"/>
<circle cx="443.7" cy="683.8" r="2.05"/>
<circle cx="488.3" cy="683.8" r="2.05"/>
<circle cx="401.1" cy="683.8" r="2.05"/>
<circle cx="441.5" cy="683.8" r="2.05"/>
<circle cx="490.9" cy="683.8" r="2.05"/>
<circle cx="402.2" cy="683.8" r="2.05"/>
<circle cx="448.4" cy="683.8" r="2.05"/>
<circle cx="484.5" cy="683.8" r="2.05"/>
<circle cx="398.5" cy="683.8" r="2.05"/>
<circle cx="442.0" cy="683.8" r="2.05"/>
<circle cx="491.6" cy="683.8" r="2.05"/>
<circle cx="402.1" cy="683.8" r="2.05"/>
<circle cx="447.4" cy="683.8" r="2.05"/>
<circle cx="484.8" cy="683.8" r="2.05"/>
<circle cx="404.1" cy="683.8" r="2.05"/>
<circle cx="441.6" cy="683.8" r="2.05"/>
<circle cx="491.9" cy="683.8" r="2.05"/>
<circle cx="402.1" cy="683.8" r="2.05"/>
<circle cx="449.2" cy="683.8" r="2.05"/>
<circle cx="489.6" cy="683.8" r="2.05"/>
<circle cx="402.9" cy="683.8" r="2.05"/>
<circle cx="442.3" cy="683.8" r="2.05"/>
<circle cx="489.5" cy="683.8" r="2.05"/>
<circle cx="404.2" cy="683.8" r="2.05"/>
<circle cx="446.1" cy="683.8" r="2.05"/>
<circle cx="490.0" cy="683.8" r="2.05"/>
<circle cx="405.3" cy="683.8" r="2.05"/>
<circle cx="446.9" cy="683.8" r="2.05"/>
<circle cx="489.6" cy="683.8" r="2.05"/>
<circle cx="402.2" cy="683.8" r="2.05"/>
<circle cx="444.8" cy="683.8" r="2.05"/>
<circle cx="490.2" cy="683.8" r="2.05"/>
<circle cx="404.8" cy="683.8" r="2.05"/>
<circle cx="447.2" cy="683.8" r="2.05"/>
<circle cx="485.0" cy="683.8" r="2.05"/>
<circle cx="399.9" cy="683.8" r="2.05"/>
<circle cx="446.2" cy="683.8" r="2.05"/>
<circle cx="489.0" cy="683.8" r="2.05"/>
<circle cx="405.6" cy="683.8" r="2.05"/>
<circle cx="449.4" cy="683.8" r="2.05"/>
<circle cx="491.8" cy="683.8" r="2.05"/>
<circle cx="402.9" cy="683.8" r="2.05"/>
<circle cx="447.1" cy="683.8" r="2.05"/>
<circle cx="491.4" cy="683.8" r="2.05"/>
<circle cx="399.0" cy="683.8" r="2.05"/>
<circle cx="443.6" cy="683.8" r="2.05"/>
<circle cx="484.3" cy="683.8" r="2.05"/>
<circle cx="403.1" cy="683.8" r="2.05"/>
<circle cx="448.8" cy="683.8" r="2.05"/>
<circle cx="484.1" cy="683.8" r="2.05"/>
<circle cx="398.8" cy="683.8" r="2.05"/>
<circle cx="442.6" cy="683.8" r="2.05"/>
<circle cx="490.8" cy="683.8" r="2.05"/>
<circle cx="400.9" cy="683.8" r="2.05"/>
<circle cx="442.6" cy="683.8" r="2.05"/>
<circle cx="487.3" cy="683.8" r="2.05"/>
<circle cx="399.9" cy="683.8" r="2.05"/>
<circle cx="443.1" cy="683.8" r="2.05"/>
<circle cx="489.0" cy="683.8" r="2.05"/>
<circle cx="403.5" cy="683.8" r="2.05"/>
<circle cx="443.0" cy="683.8" r="2.05"/>
<circle cx="488.8" cy="683.8" r="2.05"/>
<circle cx="398.0" cy="683.8" r="2.05"/>
<circle cx="449.3" cy="683.8" r="2.05"/>
<circle cx="485.0" cy="683.8" r="2.05"/>
<circle cx="402.5" cy="683.8" r="2.05"/>
<circle cx="449.5" cy="683.8" r="2.05"/>
<circle cx="486.9" cy="683.8" r="2.05"/>
<circle cx="400.1" cy="618.3" r="2.05"/>
<circle cx="443.8" cy="605.9" r="2.05"/>
<circle cx="491.6" cy="591.8" r="2.05"/>
<circle cx="401.4" cy="623.6" r="2.05"/>
<circle cx="441.9" cy="619.2" r="2.05"/>
<circle cx="490.3" cy="613.0" r="2.05"/>
<circle cx="404.6" cy="656.4" r="2.05"/>
<circle cx="445.2" cy="662.6" r="2.05"/>
<circle cx="489.0" cy="646.6" r="2.05"/>
<circle cx="405.7" cy="683.8" r="2.05"/>
<circle cx="442.6" cy="667.9" r="2.05"/>
<circle cx="487.1" cy="621.8" r="2.05"/>
<circle cx="402.0" cy="683.8" r="2.05"/>
<circle cx="442.6" cy="669.6" r="2.05"/>
<circle cx="489.2" cy="621.8" r="2.05"/>
<circle cx="399.7" cy="683.8" r="2.05"/>
<circle cx="443.9" cy="683.8" r="2.05"/>
<circle cx="484.5" cy="659.0" r="2.05"/>
<circle cx="401.0" cy="683.8" r="2.05"/>
<circle cx="443.8" cy="683.8" r="2.05"/>
<circle cx="487.9" cy="662.6" r="2.05"/>
<circle cx="398.9" cy="683.8" r="2.05"/>
<circle cx="443.7" cy="683.8" r="2.05"/>
<circle cx="489.2" cy="664.3" r="2.05"/>
<circle cx="400.7" cy="683.8" r="2.05"/>
<circle cx="446.0" cy="683.8" r="2.05"/>
<circle cx="491.1" cy="666.1" r="2.05"/>
</g>
<path d="M402.00,683.80V683.80M402.00,683.80V683.80" stroke="#1d2b3d" stroke-width="1.3" fill="none"/>
<rect x="396.90" y="683.80" width="10.20" height="0.01" fill="none" stroke="#1d2632" stroke-width="1.0"/>
<path d="M396.90,683.80H407.10" stroke="#1d2632" stroke-width="1.6"/>
<path d="M445.20,683.80V683.80M445.20,683.80V683.80" stroke="#1d2b3d" stroke-width="1.3" fill="none"/>
<rect x="440.10" y="683.80" width="10.20" height="0.01" fill="none" stroke="#1d2632" stroke-width="1.0"/>
<path d="M440.10,683.80H450.30" stroke="#1d2632" stroke-width="1.6"/>
<path d="M488.40,683.80V683.80M488.40,683.80V683.80" stroke="#1d2b3d" stroke-width="1.3" fill="none"/>
<rect x="483.30" y="683.80" width="10.20" height="0.01" fill="none" stroke="#1d2632" stroke-width="1.0"/>
<path d="M483.30,683.80H493.50" stroke="#1d2632" stroke-width="1.6"/>
<path d="M386.90,575.30V693.10H504.20" fill="none" stroke="#3d3d3d" stroke-width="1.5"/>
<path d="M384.70,683.80H386.90" stroke="#3d3d3d" stroke-width="1.3"/>
<text x="382.10" y="688.30" font-size="12.3" text-anchor="end" fill="#4a4a4a" >0</text>
<path d="M384.70,648.40H386.90" stroke="#3d3d3d" stroke-width="1.3"/>
<text x="382.10" y="652.90" font-size="12.3" text-anchor="end" fill="#4a4a4a" >0.2</text>
<path d="M384.70,613.00H386.90" stroke="#3d3d3d" stroke-width="1.3"/>
<text x="382.10" y="617.50" font-size="12.3" text-anchor="end" fill="#4a4a4a" >0.4</text>
<path d="M384.70,577.60H386.90" stroke="#3d3d3d" stroke-width="1.3"/>
<text x="382.10" y="582.10" font-size="12.3" text-anchor="end" fill="#4a4a4a" >0.6</text>
<path d="M402.00,693.10V695.30" stroke="#3d3d3d" stroke-width="1.3"/>
<text x="402.00" y="710.80" font-size="12.3" text-anchor="middle" fill="#4a4a4a" >1-2</text>
<path d="M445.20,693.10V695.30" stroke="#3d3d3d" stroke-width="1.3"/>
<text x="445.20" y="710.80" font-size="12.3" text-anchor="middle" fill="#4a4a4a" >3-4</text>
<path d="M488.40,693.10V695.30" stroke="#3d3d3d" stroke-width="1.3"/>
<text x="488.40" y="710.80" font-size="12.3" text-anchor="middle" fill="#4a4a4a" >5-6</text>
<text x="445.20" y="728.60" font-size="13.5" text-anchor="middle" fill="#4a4a4a" >Block</text>
<text transform="translate(352.90,635.00) rotate(-90)" font-size="13.5" text-anchor="middle" fill="#4a4a4a">&#963;<tspan font-size="9" dy="3">B</tspan></text>
<g fill="none" stroke="#4a90c8" stroke-width="0.65" stroke-opacity="0.42">
<path d="M579.4,671.1L628.5,679.1L668.8,670.3"/>
<path d="M579.9,656.8L625.5,654.2L669.3,658.8"/>
<path d="M584.5,664.5L627.9,648.1L667.1,662.3"/>
<path d="M583.6,659.5L628.7,671.1L668.1,664.1"/>
<path d="M583.4,644.6L624.5,668.2L666.8,671.5"/>
<path d="M578.8,676.4L621.1,666.9L666.3,669.7"/>
<path d="M580.2,666.7L625.2,660.7L669.3,674.8"/>
<path d="M583.2,655.9L626.9,646.3L668.4,661.5"/>
<path d="M581.5,673.7L625.6,677.8L669.5,675.8"/>
<path d="M584.4,677.8L622.5,655.8L670.9,679.7"/>
<path d="M578.8,648.1L620.4,670.2L670.4,669.1"/>
<path d="M579.1,662.3L627.5,668.9L666.6,666.8"/>
<path d="M580.1,668.8L627.8,680.4L670.0,680.6"/>
<path d="M577.6,654.8L628.4,669.6L665.3,678.7"/>
<path d="M582.8,672.4L628.4,672.4L670.7,666.4"/>
<path d="M581.3,661.4L628.4,664.3L669.4,670.9"/>
<path d="M579.2,667.7L628.6,663.1L668.4,667.7"/>
<path d="M579.9,658.6L624.0,639.7L665.2,676.8"/>
<path d="M582.0,660.5L625.2,659.5L664.9,662.9"/>
<path d="M580.7,665.6L622.6,667.6L671.2,664.8"/>
<path d="M578.8,679.1L625.5,666.2L669.0,667.3"/>
<path d="M582.3,637.4L623.5,652.7L665.6,672.6"/>
<path d="M577.2,653.1L622.1,657.1L670.5,663.5"/>
<path d="M579.5,675.1L624.9,676.4L666.1,665.4"/>
<path d="M577.7,680.4L623.9,675.1L672.0,673.2"/>
<path d="M580.6,651.5L623.2,649.6L668.4,665.9"/>
<path d="M580.2,649.8L622.3,651.2L666.8,668.7"/>
<path d="M584.8,657.7L621.5,665.5L664.6,668.2"/>
<path d="M583.6,663.4L621.9,673.7L664.6,677.7"/>
<path d="M579.2,669.9L627.9,658.3L671.6,672.0"/>
<path d="M585.1,646.5L623.0,661.9L671.3,673.9"/>
<path d="M578.1,606.3L624.4,661.7L668.2,671.4"/>
<path d="M578.7,626.3L628.7,636.4L670.0,668.1"/>
<path d="M581.2,664.9L623.6,615.7L670.1,664.9"/>
<path d="M578.1,661.7L626.2,627.6L664.9,590.4"/>
<path d="M585.2,671.4L627.6,639.0L664.9,609.8"/>
<path d="M585.6,633.8L620.9,655.2L666.4,671.4"/>
<path d="M578.8,635.7L624.8,664.9L671.3,666.5"/>
</g>
<g fill="#4292c6" fill-opacity="0.45">
<circle cx="579.4" cy="671.1" r="2.05"/>
<circle cx="628.5" cy="679.1" r="2.05"/>
<circle cx="668.8" cy="670.3" r="2.05"/>
<circle cx="579.9" cy="656.8" r="2.05"/>
<circle cx="625.5" cy="654.2" r="2.05"/>
<circle cx="669.3" cy="658.8" r="2.05"/>
<circle cx="584.5" cy="664.5" r="2.05"/>
<circle cx="627.9" cy="648.1" r="2.05"/>
<circle cx="667.1" cy="662.3" r="2.05"/>
<circle cx="583.6" cy="659.5" r="2.05"/>
<circle cx="628.7" cy="671.1" r="2.05"/>
<circle cx="668.1" cy="664.1" r="2.05"/>
<circle cx="583.4" cy="644.6" r="2.05"/>
<circle cx="624.5" cy="668.2" r="2.05"/>
<circle cx="666.8" cy="671.5" r="2.05"/>
<circle cx="578.8" cy="676.4" r="2.05"/>
<circle cx="621.1" cy="666.9" r="2.05"/>
<circle cx="666.3" cy="669.7" r="2.05"/>
<circle cx="580.2" cy="666.7" r="2.05"/>
<circle cx="625.2" cy="660.7" r="2.05"/>
<circle cx="669.3" cy="674.8" r="2.05"/>
<circle cx="583.2" cy="655.9" r="2.05"/>
<circle cx="626.9" cy="646.3" r="2.05"/>
<circle cx="668.4" cy="661.5" r="2.05"/>
<circle cx="581.5" cy="673.7" r="2.05"/>
<circle cx="625.6" cy="677.8" r="2.05"/>
<circle cx="669.5" cy="675.8" r="2.05"/>
<circle cx="584.4" cy="677.8" r="2.05"/>
<circle cx="622.5" cy="655.8" r="2.05"/>
<circle cx="670.9" cy="679.7" r="2.05"/>
<circle cx="578.8" cy="648.1" r="2.05"/>
<circle cx="620.4" cy="670.2" r="2.05"/>
<circle cx="670.4" cy="669.1" r="2.05"/>
<circle cx="579.1" cy="662.3" r="2.05"/>
<circle cx="627.5" cy="668.9" r="2.05"/>
<circle cx="666.6" cy="666.8" r="2.05"/>
<circle cx="580.1" cy="668.8" r="2.05"/>
<circle cx="627.8" cy="680.4" r="2.05"/>
<circle cx="670.0" cy="680.6" r="2.05"/>
<circle cx="577.6" cy="654.8" r="2.05"/>
<circle cx="628.4" cy="669.6" r="2.05"/>
<circle cx="665.3" cy="678.7" r="2.05"/>
<circle cx="582.8" cy="672.4" r="2.05"/>
<circle cx="628.4" cy="672.4" r="2.05"/>
<circle cx="670.7" cy="666.4" r="2.05"/>
<circle cx="581.3" cy="661.4" r="2.05"/>
<circle cx="628.4" cy="664.3" r="2.05"/>
<circle cx="669.4" cy="670.9" r="2.05"/>
<circle cx="579.2" cy="667.7" r="2.05"/>
<circle cx="628.6" cy="663.1" r="2.05"/>
<circle cx="668.4" cy="667.7" r="2.05"/>
<circle cx="579.9" cy="658.6" r="2.05"/>
<circle cx="624.0" cy="639.7" r="2.05"/>
<circle cx="665.2" cy="676.8" r="2.05"/>
<circle cx="582.0" cy="660.5" r="2.05"/>
<circle cx="625.2" cy="659.5" r="2.05"/>
<circle cx="664.9" cy="662.9" r="2.05"/>
<circle cx="580.7" cy="665.6" r="2.05"/>
<circle cx="622.6" cy="667.6" r="2.05"/>
<circle cx="671.2" cy="664.8" r="2.05"/>
<circle cx="578.8" cy="679.1" r="2.05"/>
<circle cx="625.5" cy="666.2" r="2.05"/>
<circle cx="669.0" cy="667.3" r="2.05"/>
<circle cx="582.3" cy="637.4" r="2.05"/>
<circle cx="623.5" cy="652.7" r="2.05"/>
<circle cx="665.6" cy="672.6" r="2.05"/>
<circle cx="577.2" cy="653.1" r="2.05"/>
<circle cx="622.1" cy="657.1" r="2.05"/>
<circle cx="670.5" cy="663.5" r="2.05"/>
<circle cx="579.5" cy="675.1" r="2.05"/>
<circle cx="624.9" cy="676.4" r="2.05"/>
<circle cx="666.1" cy="665.4" r="2.05"/>
<circle cx="577.7" cy="680.4" r="2.05"/>
<circle cx="623.9" cy="675.1" r="2.05"/>
<circle cx="672.0" cy="673.2" r="2.05"/>
<circle cx="580.6" cy="651.5" r="2.05"/>
<circle cx="623.2" cy="649.6" r="2.05"/>
<circle cx="668.4" cy="665.9" r="2.05"/>
<circle cx="580.2" cy="649.8" r="2.05"/>
<circle cx="622.3" cy="651.2" r="2.05"/>
<circle cx="666.8" cy="668.7" r="2.05"/>
<circle cx="584.8" cy="657.7" r="2.05"/>
<circle cx="621.5" cy="665.5" r="2.05"/>
<circle cx="664.6" cy="668.2" r="2.05"/>
<circle cx="583.6" cy="663.4" r="2.05"/>
<circle cx="621.9" cy="673.7" r="2.05"/>
<circle cx="664.6" cy="677.7" r="2.05"/>
<circle cx="579.2" cy="669.9" r="2.05"/>
<circle cx="627.9" cy="658.3" r="2.05"/>
<circle cx="671.6" cy="672.0" r="2.05"/>
<circle cx="585.1" cy="646.5" r="2.05"/>
<circle cx="623.0" cy="661.9" r="2.05"/>
<circle cx="671.3" cy="673.9" r="2.05"/>
<circle cx="578.1" cy="606.3" r="2.05"/>
<circle cx="624.4" cy="661.7" r="2.05"/>
<circle cx="668.2" cy="671.4" r="2.05"/>
<circle cx="578.7" cy="626.3" r="2.05"/>
<circle cx="628.7" cy="636.4" r="2.05"/>
<circle cx="670.0" cy="668.1" r="2.05"/>
<circle cx="581.2" cy="664.9" r="2.05"/>
<circle cx="623.6" cy="615.7" r="2.05"/>
<circle cx="670.1" cy="664.9" r="2.05"/>
<circle cx="578.1" cy="661.7" r="2.05"/>
<circle cx="626.2" cy="627.6" r="2.05"/>
<circle cx="664.9" cy="590.4" r="2.05"/>
<circle cx="585.2" cy="671.4" r="2.05"/>
<circle cx="627.6" cy="639.0" r="2.05"/>
<circle cx="664.9" cy="609.8" r="2.05"/>
<circle cx="585.6" cy="633.8" r="2.05"/>
<circle cx="620.9" cy="655.2" r="2.05"/>
<circle cx="666.4" cy="671.4" r="2.05"/>
<circle cx="578.8" cy="635.7" r="2.05"/>
<circle cx="624.8" cy="664.9" r="2.05"/>
<circle cx="671.3" cy="666.5" r="2.05"/>
</g>
<path d="M581.40,655.18V633.80M581.40,670.73V681.10" stroke="#1d2b3d" stroke-width="1.3" fill="none"/>
<rect x="576.30" y="655.18" width="10.20" height="15.55" fill="none" stroke="#1d2632" stroke-width="1.0"/>
<path d="M576.30,662.31H586.50" stroke="#1d2632" stroke-width="1.6"/>
<path d="M624.60,656.15V636.39M624.60,670.73V681.10" stroke="#1d2b3d" stroke-width="1.3" fill="none"/>
<rect x="619.50" y="656.15" width="10.20" height="14.58" fill="none" stroke="#1d2632" stroke-width="1.0"/>
<path d="M619.50,665.55H629.70" stroke="#1d2632" stroke-width="1.6"/>
<path d="M667.80,665.55V657.45M667.80,673.65V681.10" stroke="#1d2b3d" stroke-width="1.3" fill="none"/>
<rect x="662.70" y="665.55" width="10.20" height="8.10" fill="none" stroke="#1d2632" stroke-width="1.0"/>
<path d="M662.70,669.11H672.90" stroke="#1d2632" stroke-width="1.6"/>
<path d="M566.30,573.40V691.20H684.20" fill="none" stroke="#3d3d3d" stroke-width="1.5"/>
<path d="M564.10,681.10H566.30" stroke="#3d3d3d" stroke-width="1.3"/>
<text x="561.50" y="685.60" font-size="12.3" text-anchor="end" fill="#4a4a4a" >0</text>
<path d="M564.10,648.70H566.30" stroke="#3d3d3d" stroke-width="1.3"/>
<text x="561.50" y="653.20" font-size="12.3" text-anchor="end" fill="#4a4a4a" >1</text>
<path d="M564.10,616.30H566.30" stroke="#3d3d3d" stroke-width="1.3"/>
<text x="561.50" y="620.80" font-size="12.3" text-anchor="end" fill="#4a4a4a" >2</text>
<path d="M564.10,583.90H566.30" stroke="#3d3d3d" stroke-width="1.3"/>
<text x="561.50" y="588.40" font-size="12.3" text-anchor="end" fill="#4a4a4a" >3</text>
<path d="M581.40,691.20V693.40" stroke="#3d3d3d" stroke-width="1.3"/>
<text x="581.40" y="708.50" font-size="12.3" text-anchor="middle" fill="#4a4a4a" >1-2</text>
<path d="M624.60,691.20V693.40" stroke="#3d3d3d" stroke-width="1.3"/>
<text x="624.60" y="708.50" font-size="12.3" text-anchor="middle" fill="#4a4a4a" >3-4</text>
<path d="M667.80,691.20V693.40" stroke="#3d3d3d" stroke-width="1.3"/>
<text x="667.80" y="708.50" font-size="12.3" text-anchor="middle" fill="#4a4a4a" >5-6</text>
<text x="624.60" y="726.80" font-size="13.5" text-anchor="middle" fill="#4a4a4a" >Block</text>
<text transform="translate(534.60,632.70) rotate(-90)" font-size="13.5" text-anchor="middle" fill="#4a4a4a">k</text>
<text x="43.20" y="30.40" font-size="10.9" text-anchor="start" fill="#e2ece0" >Block 1-2</text>
<text x="43.20" y="43.70" font-size="10.9" text-anchor="start" fill="#72c083" >Block 3-4</text>
<text x="43.20" y="57.30" font-size="10.9" text-anchor="start" fill="#2c4d3a" >Block 5-6</text>
</g>
</svg>
</div></body></html>
